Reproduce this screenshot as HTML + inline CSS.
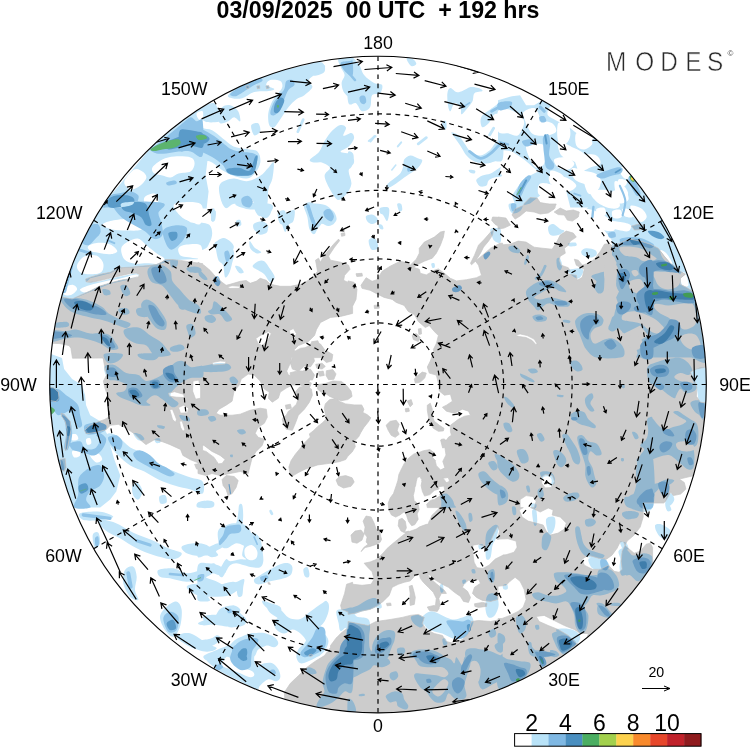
<!DOCTYPE html>
<html lang="en">
<head>
<meta charset="utf-8">
<title>03/09/2025 00 UTC + 192 hrs</title>
<style>
html,body{margin:0;padding:0;background:#fff}
body{width:750px;height:747px;overflow:hidden;font-family:"Liberation Sans",sans-serif}
svg{display:block}
text{font-family:"Liberation Sans",sans-serif;fill:#000}
.title{font-weight:bold;font-size:23.2px;white-space:pre}
.lab{font-size:17.8px}
.barlab{font-size:23px}
.logo{font-size:28px;fill:#2a2a2a;stroke:#fff;stroke-width:.55px}
.logoc{font-size:8px;fill:#444}
.ref{font-size:14.2px}
</style>
</head>
<body>
<svg width="750" height="747" viewBox="0 0 750 747">
<defs>
<clipPath id="disc"><circle cx="378" cy="384.5" r="328.3"/></clipPath>
<clipPath id="landclip"><path clip-rule="evenodd" d="M246.6 88.7L249.2 88.1L248.6 85.5L245.8 86.1ZM266.7 88.7L269.3 87.9L268.7 85.5L265.9 86.1ZM257.4 88.7L259.8 88.3L259.6 85.7L256.8 86.1ZM344.6 232.7L341 233.5L341.6 236.3L345 235.5ZM362 273.3L356 273.7L356.8 276.5L362.4 276.1ZM356 299.4L357 289.3L354 282.3L348 280.9L348 282.4L343.6 280.3L344.6 275.3L350 269.3L348.6 265.2L340.6 262.2L330.5 260.2L328.5 256.2L334.5 247.2L339.6 240.7L338.6 239.1L334.5 243.2L328.5 250.2L322.5 258.2L320.5 262.2L318.5 258.2L315.5 260.2L316.5 265.2L317.5 271.3L313.5 276.3L308.4 280.3L300.4 284.3L290.4 286.3L280.3 286.3L270.3 284.3L266.3 280.3L260.2 278.3L256.2 281.3L250.2 283.3L246.2 280.5L240.2 281.3L230.1 284.3L226.1 285.3L222.1 282.3L216.1 277.3L210 270.3L204 265.2L202.6 264.5L202.6 263.6L200.1 263.3L198 262.2L198 263L190.6 262L180.5 260.4L172.5 259.6L165.5 259.6L161.4 262.2L156.4 264.6L148.4 265.6L140.4 266.2L130.3 267.2L121.3 267.7L119.3 265.2L116.3 268.9L110.2 272.3L100.2 274.3L91.2 276.9L85.7 278.9L86.1 281.9L91.2 282.3L100.2 280.5L110.2 278.1L120.3 275.7L129.3 273.7L136.3 272.9L139.8 274.7L138.4 276.9L130.3 278.7L120.3 280.3L110.2 282.9L99.2 286.3L90.2 290.9L82.1 294.4L72.1 299L62 297L58.5 296.8L57.6 300.1L56.6 304L55.7 308L54.7 311.9L53.9 315.9L53.1 319.9L52.3 323.9L51.6 327.9L50.9 331.9L50.3 335.9L49.7 339.9L49.3 343.2L60 343.6L69.1 345.6L70.9 348.2L72.5 358.2L103.1 358L105.5 371.2L105.2 368.1L106.6 375.1L103.4 381.1L104.6 387.1L107.4 395.2L108.6 405.2L108.6 417.2L104.2 419.7L98.2 421.7L90.2 425.3L84.5 430.3L86.1 433.7L96.2 432.3L106.2 429.7L110.2 425.3L118.3 424.3L125.3 427.7L134.3 433.7L141.4 440.9L146 444.6L154.4 439.7L162.4 441.7L169.5 444.4L180.5 449.4L182.9 455.4L190.6 459.8L198 462.7L198 463.8L194.6 464.4L196.6 469.1L198 469.1L198 473.5L206 475.5L212 473.5L220.1 475.5L230.1 473.5L240.2 471.5L248.2 473.5L250.2 465.4L252.2 457.4L256.2 451.4L262.2 445.4L264.3 439.3L258.2 437.3L255.2 433.3L258.2 427.3L264.3 423.3L267.3 417.2L266.3 409.2L260.2 408.2L250.2 410.2L240.2 414.2L232.1 415.2L220.1 415.2L216.1 413.2L219.1 409.2L226.1 405.2L232.1 401.2L234.1 391.1L239.2 385.1L241.2 379.1L248.2 374.1L254.2 375.1L260.2 381.1L264.3 389.1L269.3 392.1L268.3 398.2L272.3 402.2L278.3 398.2L280.3 392.1L286.3 388.1L292.4 385.1L300.4 385.1L304.1 386.3L299.4 387.1L295.4 392.1L298.4 398.2L296.4 404.2L292.4 408.2L288.4 411.2L286.3 415.2L283.3 417.2L282.2 419.5L283.3 423.3L286.3 429.3L292.4 430.3L295.4 423.3L298.4 415.2L304.4 409.2L309.4 402.2L312.4 395.2L311.4 389.1L309.4 388.1L311.4 383.1L307.4 381.4L309.3 381.4L310 379.7L312.4 380.1L314.5 375.1L310.4 369.1L302.4 371.1L302.4 371.2L298.8 370.7L304.4 366L310.4 367L314.5 361L313.6 357.6L322.4 357.6L322.5 358.9L326.4 362.5L331.8 361L332.8 354.6L327.5 351.4L323.8 352.9L324.5 349.6L320.5 344L319 343.6L317.8 340.7L311.4 341.8L311.5 342.9L308.4 346L305 347.7L300.7 348.2L294.4 351.4L294.4 349.6L298.4 345.6L308.4 341.5L314.5 335.5L316.5 329.5L320.5 322.5L330.5 317.4L340.6 316.4L352.6 313.4L352.6 306.2ZM214.1 457.4L206 451.4L202.6 450.5L202.6 444.9L204 445.4L212 451.4L220.1 455.4L225.1 459.4L222.1 463.4L215.7 464.2L218.1 463.4ZM103.1 357.6L103.7 357.6L103.9 359.7ZM292.5 357.6L290.4 363L291.4 357.6ZM292.4 369.1L297.8 370.9L290 372.8L290.7 375.4L288.4 375.1L286.7 371.1L290.4 363ZM239.2 288.3L230.1 288.5L227.1 286.9L232.1 285.7L240.2 286.3ZM296.4 333.5L294.4 338.5L290.4 335.5L289.4 330.5L293.4 328.5ZM268.3 331.5L271.3 333.5L268.3 339.5L262.2 345.6L258.2 343.6L255.8 338.5L260.2 335.5ZM226.1 361.4L225.1 364L218.1 364.6L213.1 365L212 362.6L220.1 361ZM200.6 387.1L200.6 398.2L195.6 399.2L192.6 391.1L193 381.1L198.6 380.1ZM183.5 394.2L184.5 397.6L176.5 397.2L169.5 396.2L168.5 393.2L174.5 391.7ZM188.6 408.2L187.6 412.8L180.5 413.2L178.5 407.6L183.5 405.2ZM176.5 419.3L175.5 422.3L172.5 419.3L169.7 409.6L172.5 409.2ZM184.9 429.7L182.9 431.3L180.5 427.3L179.5 421.3L182.1 420.9ZM325.3 366.4L322.1 363.2L315.7 364.3L316.8 368.1L322.1 369ZM319.6 376.3L324.3 375.4L323.2 371.1L317.8 371.8ZM333.9 379.3L336 373.9L332.8 369.6L326.4 370.7L326 375.4L328.5 379.7ZM56 401.6L59 398.2L58.4 392.1L54 388.1L48 387.1L48 400.2ZM286.3 409.2L291.4 408.2L290.4 404.2L285.3 405.2ZM317.8 426.4L313.6 430.6L309.3 433.9L310.3 437.1L305 442.4L300.7 447.8L295.4 454.2L291.1 460.6L288.9 467L290 473.5L293.2 475.6L298.6 472.4L305 469.2L311.4 467L317.8 464.9L326.4 463.8L332.8 462.8L339.3 461.7L345.7 459.6L347.8 456.3L352.1 452.1L355.3 446.7L354.2 441.3L358.5 437.1L360.7 432.8L363.9 427.4L368.2 422.1L370.9 417.8L367.1 414.6L362.8 412.4L363.9 409.2L361.7 404.9L354.2 404.9L345.7 403.9L340.3 401.7L336.9 399.2L341.4 400.7L347.8 399.6L352.1 396.4L351 391L346.7 385.7L341.4 381.4L332.8 381L325.3 383.5L317.8 384.6L317.4 388.9L321 392.1L325.3 393.2L329.6 396.4L335 398.5L335.3 398.6L329.6 399.6L325.3 403.9L324.3 408.2L325.3 413.5L326.4 418.9L322.1 423.1ZM67.1 429.3L66.1 439.3L65.1 450.4L67.1 449.4L69.1 439.3L71.1 429.3L70.1 421.3L64.1 414.2L61 413.2L61.6 416.2L65.1 421.3ZM65.1 458.4L60 459.4L61 469.5L64.1 471.5L66.1 467.4ZM345.7 475.6L339.3 476.7L336 479.9L338.2 485.2L343.5 488L351 486.3L354.2 482L352.1 477.8ZM232.1 493.6L236.1 487.5L238.2 480.5L234.1 476.5L226.1 475.5L222.1 479.5L223.1 485.5L226.1 489.5L228.1 495.6ZM367.1 537.1L366.1 542.1L368.1 544.2L363.7 547.6L361 551.6L365.1 547.6L370.1 546.4L376.1 544.4L380.1 542.3L381.6 539.2L380.7 536.4L380.5 534.2L380.1 533.1L376.1 529.1L374.1 523.1L371.1 517L366.1 516L363.1 521.1L365.1 527.1L364.1 533.1ZM355 531.1L351 535.1L352 542.1L357 543.2L362 540.1L364.1 534.1L361 530.1ZM270.3 584.5L269.9 582.9L267.9 582.3L268.3 584.1ZM312.9 655.6L311.4 654L308.8 655.2L310 656.8ZM515.1 209L512 215L515.1 219.1L520.1 216L526.1 211L534.1 212L540.2 214L548.2 213L554.2 209L554.8 207.6L555.2 207.6L555 207L556.2 204L549.4 204L546.2 203.6L540.2 202.6L537.1 198L530.1 197.6L524.1 203.6L523.6 205.6L522.1 206ZM572.3 221.1L578.3 217L579.3 212L573.3 210L566.3 211L560.2 208L554.2 212L558.2 214.6L564.3 215L567.3 220.1ZM498 217.3L492.6 217L491.6 220.3L495 224.3L498 226L498 229.1L504 228.1L510.4 225.1L506 218.1L498 217ZM638.6 224.1L631.5 226.1L634.5 230.1L643.6 229.5L644.6 226.1ZM475.5 261.2L480.5 253.2L483.5 247.2L488.6 241.1L492.6 235.1L493.6 230.1L490.6 232.1L484.5 239.1L478.5 245.2L474.5 255.2L470.5 263.2L471.5 264.8ZM374.5 308.6L379.3 308.2L379.1 305L374.1 305.4ZM418.9 334.5L421.5 333.9L421.1 328.5L418.3 328.9ZM420.3 337.5L416.3 333.5L412.2 335.5L413.3 339.5L418.3 341.5ZM415.3 383.1L420.3 382.1L424.7 378.1L426.3 373.1L422.3 372.1L418.3 375.1L414.3 379.1ZM412.7 404.2L411.2 399.6L407.2 401.2L410.2 406.8ZM405.8 412L409.4 411.2L408.6 408L405.2 408.8ZM427.3 405.2L427.3 410.2L428.3 416.2L430.3 423.3L433.3 428.3L438.4 431.3L443.4 430.9L444 428.3L439.4 425.3L434.3 421.3L431.9 415.2L432.3 409.2L430.3 403.2ZM399.2 434.3L397.2 430.3L399.2 424.3L396.2 420.3L390.2 421.3L386.1 425.3L388.2 430.3L391.2 435.3L395.2 437.3ZM314.5 661.7L306.4 667.7L298.4 675.7L290.4 683.3L284.3 692.4L285.1 702.5L285.7 702.7L289.6 703.8L293.6 704.9L297.5 705.9L301.5 706.8L305.4 707.8L309.4 708.6L313.4 709.4L317.4 710.2L321.4 710.9L325.4 711.6L329.4 712.2L333.4 712.8L337.4 713.3L341.5 713.8L345.5 714.2L349.6 714.6L353.6 714.9L357.7 715.2L361.7 715.4L365.8 715.6L369.9 715.7L373.9 715.8L378 715.8L382.1 715.8L386.1 715.7L390.2 715.6L394.3 715.4L398.3 715.2L402.4 714.9L406.4 714.6L410.5 714.2L414.5 713.8L418.6 713.3L422.6 712.8L426.6 712.2L430.6 711.6L434.6 710.9L438.6 710.2L442.6 709.4L446.6 708.6L450.6 707.8L454.5 706.8L458.5 705.9L462.4 704.9L466.4 703.8L470.3 702.7L474.2 701.5L478.1 700.3L481.9 699.1L485.8 697.8L489.6 696.4L493.4 695L497.2 693.6L501 692.1L504.8 690.6L508.5 689L512.3 687.4L516 685.7L519.6 684L523.3 682.2L527 680.4L530.6 678.6L534.2 676.7L537.7 674.7L541.3 672.8L544.8 670.7L548.3 668.7L551.8 666.6L555.2 664.4L558.7 662.2L562.1 660L565.4 657.7L568.8 655.4L572.1 653L575.4 650.6L578.6 648.2L581.8 645.7L582.5 645.1L576.3 643.6L568.3 635.5L558.2 629.5L548.2 625.5L539.2 621.5L536.1 616.4L544.2 615.4L554.2 620.5L564.3 625.5L574.3 629.5L580.3 633.5L588.4 633.5L585.2 643L588.2 640.6L591.3 638L594.4 635.4L597.5 632.7L600.5 630L603.5 627.2L606.4 624.4L609.4 621.6L612.3 618.8L615.1 615.9L617.9 612.9L620.7 610L623.5 607L626.2 604L628.9 600.9L631.5 597.8L634.1 594.7L636.7 591.5L639.2 588.3L641.7 585.1L644.1 581.9L646.5 578.6L648.9 575.3L651.2 571.9L652.6 569.8L652.6 547.4L650.2 543.2L646.2 544.2L640.2 551.2L634.1 553.2L628.1 548.2L625.1 545.2L627.1 541.1L634.1 535.1L640.2 527.1L643.2 517L643.2 503L663.6 503L665.3 501.6L668.3 496.6L670.7 491.9L673.3 495.6L680.7 494L685.9 489.1L684.3 482.5L679.3 479.1L694.4 475.5L694.4 482.8L695 480.7L696.2 476.8L697.3 472.9L698.4 468.9L699.4 465L700.3 461L701.3 457.1L702.1 453.1L702.9 449.1L703.7 445.1L704.4 441.1L705.1 437.1L705.7 433.1L706.3 429.1L706.8 425.1L707.3 421L707.7 417L708.1 412.9L708.4 408.9L708.7 404.8L708.9 400.8L709.1 396.7L709.2 392.6L709.3 388.6L709.3 384.5L709.3 380.4L709.2 376.4L709.1 372.3L708.9 368.2L708.7 364.2L708.4 360.1L708.1 356.1L707.7 352L707.3 348L706.8 343.9L706.3 339.9L705.7 335.9L705.1 331.9L704.4 327.9L703.7 323.9L702.9 319.9L702.1 315.9L701.3 311.9L700.3 308L699.4 304L698.4 300.1L697.3 296.1L696.2 292.3L694.4 292.3L686.3 287.3L680.3 284.3L680.3 278.3L685.3 274.3L680.3 271.3L670.3 263.2L664.3 256.2L658.2 248.2L650.2 244.2L640.2 241.1L630.1 239.1L620.1 242.8L620.3 242.8L612.4 246.2L609.4 243.6L604.4 244.2L600.4 251.2L594.4 259.2L588.4 263.2L582.3 265.2L578.3 260.2L574.3 259.2L576.3 265.2L580.3 267.2L584.3 269.3L582.3 277.3L577.3 280.3L576.3 275.3L569.3 274.3L566.3 272.3L570.3 271.3L568.3 267.7L561.2 265.2L559.2 260.2L560.2 256.2L565.3 253.2L564.3 248.2L568.3 245.2L570.3 241.1L576.3 237.1L573.3 233.1L566.3 231.1L560.2 235.1L557.2 241.1L552.2 249.2L542.2 248.2L534.1 247.2L526.1 242.1L518.1 241.1L510 244.2L502.6 244.8L502.6 243.2L500 243.2L490.6 248.2L482.5 255.2L475.5 261.2L478.5 265.2L481.5 275.3L476.5 277.7L466.5 279.7L456.4 280.9L450.4 278.3L444.4 273.3L438.4 268.9L434.3 270.3L426.3 274.9L420.3 273.3L419.3 269.3L413.3 267.2L418.3 264.2L424.3 261.2L432.3 258.2L436.3 253.2L440.4 245.2L443.4 237.1L444.4 231.1L440.4 232.1L434.3 237.1L424.3 242.1L419.3 248.2L419.3 253.2L416.3 259.2L410.2 265.2L407.2 262.8L400.2 261.2L390.2 266.2L382.1 271.3L377.1 279.7L372.1 281.3L366.1 277.7L361 285.3L362 288.3L370.1 290.3L376.1 293.4L384.1 297.4L392.2 299.4L396.2 302.4L404.2 305.4L408.2 311.4L414.3 314.4L418.3 321.5L425.3 327.5L429.3 325.5L434.3 331.5L438.4 335.5L436.3 343.6L433.3 349.6L434.6 353L433.3 353L430.3 361L427.3 367L429.3 373.1L436.3 375.1L438.4 383.1L439.4 391.1L444.4 395.2L450.4 394.2L452.4 401.2L446.4 405.2L442.4 407.2L446.4 411.2L454.4 413.2L462.4 409.2L468.5 411.2L470.5 415.2L464.5 416.2L458.4 419.3L450.4 425.3L450.4 431.3L451.4 435.3L448.4 437.3L446.6 440L444.5 440L444.4 438.9L441.4 439.3L441.5 440L440.6 440L442.6 447.9L444.9 447.5L446 455L442.8 461.4L444.9 467.8L440.6 470L436.4 465.7L435.3 461.4L435.8 460.9L432.1 457.1L434.2 452.8L429.9 449.6L423.5 450.7L418.2 452.8L413.9 453.9L408.5 458.2L404.2 463.6L401 470L399.2 473.7L398.9 474.3L397.8 480.7L396.1 486L393.5 493.5L390.3 497.8L388.2 503.1L388.2 503.2L388.8 509.6L391.4 514.9L395.7 517.1L400 514.9L404.2 511.7L404.5 512.2L406.4 514.9L408.5 521.4L411.7 525.7L414.9 524.6L418.2 519.2L417.3 515L417.1 513.9L419.1 509.8L419.2 509.6L418.2 504.2L415.3 501.4L414.3 501.6L413.3 495.6L414.4 491L414.9 487.1L415.5 486L416.3 481.5L417.3 477.5L420.3 476.5L420.8 478.3L421.8 479.6L421.6 480.7L421.9 481.5L421.1 485.6L422.4 491.4L424.6 496.1L429.9 494.6L434.2 490.5L439.1 488.9L438.4 487.5L439.1 487.3L438.9 486.7L443.9 486L444.9 490.3L444.3 490.5L444.4 490.5L443.9 490.7L444.9 491.4L440.6 494L439.5 494.7L440.4 495.6L434.3 499.6L431.8 499.9L429.9 501L426.7 504.2L427.3 507.6L439.8 507.6L438.4 509L434.3 513L431.8 515.5L429.9 520.3L429.2 521.1L428.3 524.1L425.7 524.5L425.7 524.6L419.7 526.8L416.3 529.1L410.9 530.9L410.7 531L410.7 531L410.2 531.1L406.5 532.9L408.8 531.2L404.5 532L406.4 527.8L405.3 521.4L402.1 518.2L398.9 519.7L398.3 524.9L398.2 525.1L398.3 525.3L398.2 525.7L401 531L401.2 531.1L401.2 531.1L401.4 531.2L404.2 532.5L404.3 532.3L406.1 533.1L405.2 533.5L400.2 537.5L393.2 543.2L387.1 548.4L382.1 554.2L376.1 559.6L370.1 562L364.1 563.2L368.1 567.7L372.1 571.7L374.1 579.3L371.1 584.3L362 585.3L352.6 584.2L352.6 582.3L348.3 583.7L348 583.7L348 583.8L346.6 584.3L344.6 593.4L340.6 605.4L341.6 609.4L346.6 611.4L348 611.9L348 614.4L354 613.4L362 611L370.1 609.4L378.1 605.4L383.1 601.4L389.2 595.4L392.2 587.3L398.2 584.3L404.2 582.3L410.2 580.9L416.3 574.3L419.3 574.3L420.3 578.3L423.3 582.3L428.3 587.3L433.3 592.3L436.3 598.4L435.4 605.9L434.3 605.4L427.3 607L429.3 610.4L437.3 611.4L439.4 607.8L438.9 607.6L440.4 605.4L438.8 598.4L441.4 593.4L446.4 593.4L444.4 590.3L436.3 583.7L430.3 578.3L427.3 574.3L430.3 575.3L434.3 579.3L442.4 584.3L448.4 587.3L454.4 592.3L460.4 596.4L463.5 601.4L468.5 602.4L470.5 597.4L467.5 591.3L462.4 587.3L464.5 583.3L468.5 580.3L472.5 581.3L478.5 579.3L480.5 583.3L474.5 587.3L472.5 593.4L476.5 597.4L482.5 600.4L490.6 601.4L498 599.5L498 586.3L506 585.3L510 581.3L515.1 577.3L520.1 581.3L524.1 589.3L526.1 599.4L523.1 607.4L518.1 611.4L510 615.4L502 618.5L498 618.5L498 620L490.6 621.5L478.5 620.5L471.5 621.5L470.5 625.5L468.5 633.5L462.4 639.5L454.4 643.6L446.4 641.5L442.4 635.5L434.3 633.5L426.3 629.5L422.3 623.5L424.3 617.4L418.3 614.4L410.2 615.4L402.2 617.4L390.2 619.5L376.1 621.5L368.1 625.5L358 623.5L348 621.5L348 628.7L345.6 629.5L340.6 633.5L337.5 636.8L336.5 637.5L335.3 639.2L334.9 639.6L334.7 640L330.5 645.6L330.5 647.6L324.5 655.6ZM622.1 551.2L621.1 561.2L622.1 569.3L619.1 572.3L614.1 571.3L608.4 565.2L600.4 569.3L592.4 569.3L584.3 565.2L581.9 559.2L588.4 555.2L598.4 558.2L606.4 559.2L612 555.2L617.1 548.2L620.1 542.1L623.1 541.1L625.1 545.2ZM537.3 344L535.7 344.4L532.1 340.5L526.1 337.5L519.1 336.5L515.1 335.1L520.1 333.9L527.1 335.5L534.1 339.1ZM708.4 403.2L700.4 402.2L696.4 396.2L696.8 387.1L694.4 380.1L690.4 372.1L696.4 369.1L706.4 367ZM445.4 482L444.8 480.4L442.8 477.9L444 478.1L448.1 477.5L449.6 480.7L448.6 481L449.4 481.9L446.4 482.5L445.8 481.8ZM554.6 481.5L551.2 487.5L545.2 487.9L541.8 483.5L541.2 477.5L545.2 474.5L552.2 475.5ZM548.2 508L553.2 510L552.2 515L560.2 517L566.3 523.1L564.3 529.1L558.2 533.1L550.2 535.1L546.2 531.1L543.2 525.1L536.1 523.1L528.1 521.1L522.1 517L519.1 510L523.3 507.6L520.1 507.6L520.1 499.6L526.1 495.6L533.1 496.6L536.1 501.6L534.1 507.6L530.4 507.6L534.1 509L540.2 512ZM482.9 568.5L476.9 567.7L474.1 562.2L472.9 553.2L472.9 545.2L478.5 544.2L486.5 547.2L490.6 541.1L494.2 533.1L497.6 526.7L499.6 531.1L497.6 539.1L498 539.9L498 539.1L508 538.7L516.1 541.1L517.1 547.2L514.1 552.2L506 554.8L503 554.9L503 555.2L495 559.2L489 565.2ZM415.3 597.4L413.9 591.3L412.2 585.3L409.2 586.3L410.2 593.4L409.8 599.4L410.2 605.4L414.3 604.4ZM391.2 605.4L390.6 603L386.5 603.4L387.1 605.8ZM478.5 607.4L486.5 606.4L486.9 603.4L482.5 602.4L474.5 603.8L474.9 606.4Z"/></clipPath>
<g id="s1" stroke-linecap="round" stroke-linejoin="round">
<path stroke="none" d="M100.2 207.6L134.3 167.4L154.4 143.4L178.5 122.3L202.6 105.2L202.6 207.6ZM201.6 139.3L206.6 143.4L207.6 159.4L205.6 175.5L208.6 191.5L206.6 208.6L201.6 208.6ZM93.2 219.1L102.2 203L174.5 203L182.5 217L194.6 225.1L199 235.1L195.6 245.2L199.8 253.2L197.6 259.2L190.6 259.2L172.5 260.2L162.4 263.2L150.4 266.2L120.3 268.3L110.2 273.3L90.2 278.3L86.1 282.3L100.2 281.3L116.3 277.3L136.3 273.3L139.4 275.3L130.3 279.3L110.2 283.7L90.2 291.7L72.1 299.4L58 297.4L70.1 265.2ZM147.4 271.3C147.6 268.6 149.9 266.6 152.4 265.6C154.9 264.6 159.4 264.3 162.4 265.2C165.5 266.2 168.8 268.6 170.5 271.3C172.2 273.9 171 278.3 172.5 281.3C174 284.3 176.8 286.3 179.5 289.3C182.2 292.3 185.4 296.7 188.6 299.4C191.7 302.1 196.6 303.1 198.6 305.4C200.6 307.7 201.9 312.4 200.6 313.4C199.3 314.5 194.2 313.2 190.6 311.8C186.9 310.5 181.9 308.1 178.5 305.4C175.2 302.7 173.2 299 170.5 295.8C167.8 292.5 165.6 288.1 162.4 285.7C159.3 283.4 153.9 284.1 151.4 281.7C148.9 279.3 147.2 273.9 147.4 271.3ZM170.5 260.4C171.5 259.1 176.4 258.6 177.5 259.6C178.6 260.6 177.9 265 176.9 266.2C175.9 267.5 172.6 268.2 171.5 267.2C170.4 266.3 169.5 261.7 170.5 260.4ZM186.5 268.3C187.2 267.2 192.2 266.4 194.6 266.4C196.9 266.4 199.6 267.3 200.6 268.3C201.6 269.2 202.3 271.6 200.6 272.3C198.9 273 192.9 273.1 190.6 272.5C188.2 271.8 185.9 269.3 186.5 268.3ZM120.3 286.3C120.5 284.6 124.6 284.1 126.3 285.3C128 286.5 130.6 291.6 130.3 293.4C130.1 295.1 126.4 296.9 124.7 295.8C123 294.6 120 288.1 120.3 286.3ZM102.6 289.3C103.4 288.6 108 289.5 109.2 290.3C110.5 291.2 111.1 293.8 110.2 294.6C109.4 295.3 105.5 295.8 104.2 295C102.9 294.1 101.8 290.1 102.6 289.3ZM61 298.4C62.7 296.7 71.3 297.3 76.1 297.8C81 298.2 85.8 299.4 90.2 301C94.5 302.5 99.1 304.9 102.2 307C105.3 309.1 105.6 311.4 108.6 313.4C111.6 315.5 116.7 317.8 120.3 319.5C123.9 321.1 129.3 322.1 130.3 323.5C131.3 324.9 129 327.8 126.3 327.9C123.6 328 118.3 325.2 114.3 323.9C110.2 322.5 106.2 320.9 102.2 319.9C98.2 318.8 94.5 318.5 90.2 317.4C85.8 316.4 80.1 315.4 76.1 313.8C72.1 312.2 68.6 310.4 66.1 307.8C63.6 305.2 59.4 300 61 298.4ZM141.4 303.4C142 301.7 144.2 299.4 146.4 299.4C148.6 299.4 152 301.4 154.4 303.4C156.8 305.4 158.8 308.4 160.8 311.4C162.9 314.4 165.8 318.5 166.5 321.5C167.1 324.5 166.5 328.4 164.9 329.5C163.2 330.6 159.2 329.8 156.4 327.9C153.7 326 150.7 320.9 148.4 317.9C146.1 314.8 143.5 312.2 142.4 309.8C141.2 307.4 140.7 305.1 141.4 303.4ZM136.3 309.4C137.3 308.1 142 307.1 144.4 307.8C146.7 308.5 150.1 311.9 150.4 313.4C150.7 315 148.4 316.6 146.4 317C144.4 317.4 140 317.1 138.4 315.8C136.7 314.6 135.3 310.8 136.3 309.4ZM118.3 309.4C119.1 308.4 125.5 307.7 127.3 308.4C129.1 309.1 130.2 312.4 129.3 313.4C128.5 314.4 124.1 315.1 122.3 314.4C120.4 313.8 117.4 310.4 118.3 309.4ZM54 323.5C55.9 322.5 64.7 321.4 67.1 321.9C69.4 322.4 69.9 325.5 68.1 326.5C66.2 327.4 58.4 328 56 327.5C53.7 327 52.2 324.4 54 323.5ZM50 330.5C52.7 328.8 61.7 331.3 66.1 331.1C70.4 330.9 72.1 329.1 76.1 329.5C80.1 329.9 85.8 332.8 90.2 333.5C94.5 334.2 98.2 332.2 102.2 333.5C106.2 334.9 111.6 339 114.3 341.5C116.9 344.1 118.9 347.2 118.3 348.6C117.6 349.9 113.3 350.4 110.2 349.6C107.2 348.7 103.5 345.2 100.2 343.6C96.9 341.9 93.8 340.9 90.2 339.9C86.5 338.9 82.1 337.8 78.1 337.5C74.1 337.3 70.7 337.9 66.1 338.5C61.4 339.2 52.7 342.9 50 341.5C47.3 340.2 47.3 332.2 50 330.5ZM124.3 329.5C126.3 327.8 134 326.5 138.4 327.5C142.7 328.5 146.4 332.8 150.4 335.5C154.4 338.2 159.4 340.3 162.4 343.6C165.5 346.8 169.8 353.1 168.5 355C167.1 356.9 158.1 356.6 154.4 355C150.7 353.4 149.4 347.5 146.4 345.6C143.4 343.7 139.7 344.9 136.3 343.6C133 342.2 128.3 339.9 126.3 337.5C124.3 335.2 122.3 331.2 124.3 329.5ZM170.5 347.6C172 346.5 178.2 344.4 180.5 344.6C182.9 344.7 184.9 347.4 184.5 348.6C184.2 349.7 180.7 351.2 178.5 351.6C176.3 352 172.8 351.9 171.5 351.2C170.1 350.5 169 348.7 170.5 347.6ZM186.5 325.5C187.4 324.3 191.1 323.1 192.6 324.5C194.1 325.8 195.9 331.3 195.6 333.5C195.2 335.7 191.9 337.9 190.6 337.5C189.2 337.2 188.2 333.5 187.6 331.5C186.9 329.5 185.7 326.7 186.5 325.5ZM178.5 303.4C179.5 302.7 184.5 303.4 185.5 304.4C186.5 305.4 185.5 308.7 184.5 309.4C183.5 310.1 180.5 309.4 179.5 308.4C178.5 307.4 177.5 304.1 178.5 303.4ZM100.2 333.5C101.2 332.2 107.6 333.5 110.2 335.5C112.9 337.5 116.3 343.4 116.3 345.6C116.3 347.7 112.2 348.9 110.2 348.6C108.2 348.2 105.9 346.1 104.2 343.6C102.5 341 99.2 334.9 100.2 333.5ZM154.4 351.6C155.8 350.2 161.8 348 164.5 348.6C167.1 349.1 171.8 353.7 170.5 355C169.1 356.3 159.1 357.2 156.4 356.6C153.7 356 153.1 352.9 154.4 351.6ZM107.2 434.3C108.2 432.6 112.4 433.1 116.3 435.3C120.1 437.5 125.6 444.4 130.3 447.4C135 450.4 139.7 450.7 144.4 453.4C149.1 456.1 153.4 460.4 158.4 463.4C163.5 466.4 169.1 469.1 174.5 471.5C179.9 473.8 185.9 475.8 190.6 477.5C195.2 479.2 200.6 478.8 202.6 481.5C204.6 484.2 204.6 492.2 202.6 493.6C200.6 494.9 195.2 490.9 190.6 489.5C185.9 488.2 179.9 487.2 174.5 485.5C169.1 483.8 163.5 481.8 158.4 479.5C153.4 477.2 149.1 473.8 144.4 471.5C139.7 469.1 134.7 468.1 130.3 465.4C126 462.8 121.6 458.7 118.3 455.4C114.9 452.1 112.1 448.9 110.2 445.4C108.4 441.8 106.2 436 107.2 434.3ZM48 353L62 358L64.1 369.1L72.1 379.1L82.1 385.1L85.1 395.2L86.1 405.2L90.2 415.2L100.2 421.3L107.2 434.3L110.2 445.4L114.3 459.4L120.3 475.5L116.3 491.5L110.2 499.6L100.2 507.6L70.1 507.6L48 455.4ZM132.3 485.5C133.2 483.5 136.7 482.5 138.4 483.5C140 484.5 142.4 488.9 142.4 491.5C142.4 494.2 139.9 498.9 138.4 499.6C136.8 500.2 134.3 497.9 133.3 495.6C132.3 493.2 131.5 487.5 132.3 485.5ZM159.4 496.6C160.3 495.2 164.3 494.6 165.5 495.6C166.6 496.6 167.3 501.3 166.5 502.6C165.6 503.9 161.6 504.6 160.4 503.6C159.3 502.6 158.6 497.9 159.4 496.6ZM104.2 367C105.2 364.7 110.6 364 114.3 365C117.9 366 122.3 371.4 126.3 373.1C130.3 374.7 135 373.7 138.4 375.1C141.7 376.4 143 380.8 146.4 381.1C149.7 381.4 155.1 378.8 158.4 377.1C161.8 375.4 163.8 373.4 166.5 371.1C169.1 368.7 171.8 364.7 174.5 363C177.2 361.4 179.9 360.4 182.5 361C185.2 361.7 187.7 366.2 190.6 367C193.5 367.9 198 366 200 366C202 366 202.2 365.2 202.6 367C203 368.9 204.6 375.2 202.6 377.1C200.6 378.9 194.6 376.8 190.6 378.1C186.5 379.4 181.9 382.3 178.5 385.1C175.2 388 170.5 392.1 170.5 395.2C170.5 398.2 178.2 401.2 178.5 403.2C178.8 405.2 175.2 407.9 172.5 407.2C169.8 406.5 165.5 401.2 162.4 399.2C159.4 397.2 157.1 394.8 154.4 395.2C151.7 395.5 147.1 399.5 146.4 401.2C145.7 402.9 151.4 404.5 150.4 405.2C149.4 405.9 143.7 405.9 140.4 405.2C137 404.5 133.7 402.5 130.3 401.2C127 399.8 122.6 398.5 120.3 397.2C117.9 395.8 115.6 394.2 116.3 393.2C116.9 392.1 122.6 392.5 124.3 391.1C126 389.8 127.3 386.8 126.3 385.1C125.3 383.4 121.3 382.1 118.3 381.1C115.3 380.1 110.6 381.4 108.2 379.1C105.9 376.8 103.2 369.4 104.2 367ZM104.2 354C106.6 352.5 119.9 352.8 122.3 354C124.6 355.2 120.6 359.5 118.3 361C115.9 362.5 110.6 364.2 108.2 363C105.9 361.9 101.9 355.5 104.2 354ZM138.4 354C141 353.2 155.8 353 158.4 354C161.1 355 157.1 359.2 154.4 360C151.7 360.9 145 360 142.4 359C139.7 358 135.7 354.8 138.4 354ZM133.3 433.3C133.7 432.3 138.5 433.3 140.4 434.3C142.2 435.3 144.7 438.3 144.4 439.3C144 440.3 140.2 441.3 138.4 440.3C136.5 439.3 133 434.3 133.3 433.3ZM157.4 425.3C158.4 425 163.5 425.7 164.5 426.3C165.5 426.9 164.5 428.7 163.5 428.9C162.4 429.1 159.4 428.3 158.4 427.7C157.4 427.1 156.4 425.5 157.4 425.3ZM179.5 415.2C180.5 414.7 186.9 416.2 188.6 417.2C190.2 418.3 190.6 420.8 189.6 421.3C188.6 421.8 184.2 421.3 182.5 420.3C180.9 419.3 178.5 415.7 179.5 415.2ZM154.4 439.3C154.9 438.6 158.4 437.8 159.4 438.3C160.4 438.8 160.9 441.6 160.4 442.3C159.9 443.1 157.4 443.5 156.4 443C155.4 442.4 153.9 440.1 154.4 439.3ZM98.3 520C100 518.8 109.2 520.6 115 522.7C120.8 524.8 127.2 529.8 133.3 532.7C139.4 535.6 145.8 537.4 151.7 540C157.5 542.6 163.3 546.1 168.3 548.3C173.3 550.6 180.8 551.5 181.7 553.3C182.5 555.2 178.1 559.1 173.3 559.3C168.6 559.6 159.4 556.8 153.3 555C147.2 553.2 142.2 551.1 136.7 548.3C131.1 545.6 125.3 541.4 120 538.3C114.7 535.3 108.6 533.1 105 530C101.4 526.9 96.7 521.2 98.3 520ZM92.7 535C93.2 532.4 97.1 531.3 98.3 532.7C99.6 534.1 100.6 540.7 100 543.3C99.4 545.9 96.2 549.7 95 548.3C93.8 546.9 92.1 537.6 92.7 535ZM125 570C126.7 567.2 131.4 565.6 133.3 566.7C135.3 567.8 136.4 572.8 136.7 576.7C136.9 580.6 134.7 586.1 135 590C135.3 593.9 139.2 598.9 138.3 600C137.5 601.1 132.5 599.4 130 596.7C127.5 593.9 124.2 587.8 123.3 583.3C122.5 578.9 123.3 572.8 125 570ZM160 616.7C160.3 612.8 163.9 609.2 166.7 606.7C169.4 604.2 174.2 601.1 176.7 601.7C179.2 602.2 181.1 605.8 181.7 610C182.2 614.2 181.4 622.2 180 626.7C178.6 631.1 175.8 636.1 173.3 636.7C170.8 637.2 167.2 633.3 165 630C162.8 626.7 159.7 620.6 160 616.7ZM158.3 570C160.6 568.6 168.6 567.8 173.3 568.3C178.1 568.9 182.2 573.1 186.7 573.3C191.1 573.6 195.6 571.7 200 570C204.4 568.3 210.6 563.3 213.3 563.3C216.1 563.3 218.3 567.5 216.7 570C215 572.5 208.3 576.4 203.3 578.3C198.3 580.3 192.2 581.7 186.7 581.7C181.1 581.7 174.4 579.2 170 578.3C165.6 577.5 161.9 578.1 160 576.7C158.1 575.3 156.1 571.4 158.3 570ZM186.7 586.7C187.2 584.7 195 583.6 200 583.3C205 583.1 211.1 585.3 216.7 585C222.2 584.7 229.4 581.4 233.3 581.7C237.2 581.9 240.6 584.4 240 586.7C239.4 588.9 234.4 593.3 230 595C225.6 596.7 218.9 596.7 213.3 596.7C207.8 596.7 201.1 596.7 196.7 595C192.2 593.3 186.1 588.6 186.7 586.7ZM203.3 616.7C205 615.3 212.2 614.4 216.7 615C221.1 615.6 227.2 618.1 230 620C232.8 621.9 235.6 625.8 233.3 626.7C231.1 627.5 221.1 625.6 216.7 625C212.2 624.4 208.9 624.7 206.7 623.3C204.4 621.9 201.7 618.1 203.3 616.7ZM181.7 546.7C182.8 545 189.2 543.6 193.3 543.3C197.5 543.1 203.3 543.3 206.7 545C210 546.7 214.4 551.5 213.3 553.3C212.2 555.2 204.4 556 200 556C195.6 556 189.7 554.9 186.7 553.3C183.6 551.8 180.6 548.3 181.7 546.7ZM218.3 533.3C219.4 530 223.1 526.7 226.7 525C230.3 523.3 236.1 522.5 240 523.3C243.9 524.2 248.3 526.1 250 530C251.7 533.9 252.2 544.4 250 546.7C247.8 548.9 240.6 543.1 236.7 543.3C232.8 543.6 229.4 548.1 226.7 548.3C223.9 548.6 221.4 547.5 220 545C218.6 542.5 217.2 536.7 218.3 533.3ZM203.3 656.7C203.9 654.4 211.7 652.2 216.7 650C221.7 647.8 227.8 645.6 233.3 643.3C238.9 641.1 247.2 630.6 250 636.7C252.8 642.8 251.7 674.4 250 680C248.3 685.6 243.3 672.8 240 670C236.7 667.2 234.4 664.4 230 663.3C225.6 662.2 217.8 664.4 213.3 663.3C208.9 662.2 202.8 658.9 203.3 656.7ZM176.7 636.7C176.7 634.4 185 632.2 190 633.3C195 634.4 202.2 640.8 206.7 643.3C211.1 645.8 216.7 646.9 216.7 648.3C216.7 649.7 211.1 651.9 206.7 651.7C202.2 651.4 195 649.2 190 646.7C185 644.2 176.7 638.9 176.7 636.7ZM80 513.3C82.8 511.9 94.4 511.1 100 511.7C105.6 512.2 113.3 515.3 113.3 516.7C113.3 518.1 105 519.4 100 520C95 520.6 86.7 521.1 83.3 520C80 518.9 77.2 514.7 80 513.3ZM228.1 95.2C229.5 93 235.5 88.1 240.2 85.1C244.8 82.1 250.2 79.3 256.2 77.1C262.2 74.9 269.6 73.7 276.3 72.1C283 70.4 290.4 68.4 296.4 67C302.4 65.7 307.8 64.4 312.4 64C317.1 63.7 322.8 63.5 324.5 65C326.2 66.5 324.2 71.4 322.5 73.1C320.8 74.7 316.8 73.7 314.5 75.1C312.1 76.4 308.8 79.1 308.4 81.1C308.1 83.1 313.1 84.8 312.4 87.1C311.8 89.5 307.1 93.2 304.4 95.2C301.7 97.2 299.1 97.2 296.4 99.2C293.7 101.2 291 103.9 288.4 107.2C285.7 110.6 282.7 115.9 280.3 119.3C278 122.6 276.1 126.3 274.3 127.3C272.5 128.3 270.3 127.6 269.3 125.3C268.3 122.9 267.8 117.2 268.3 113.2C268.8 109.2 270.6 104.5 272.3 101.2C274 97.8 276.6 95.5 278.3 93.2C280 90.8 282 89.1 282.3 87.1C282.7 85.1 282.3 82.3 280.3 81.1C278.3 79.9 272.6 79.4 270.3 80.1C267.9 80.8 265.6 83.6 266.3 85.1C266.9 86.6 274 88.1 274.3 89.1C274.6 90.1 271.6 90.6 268.3 91.1C264.9 91.6 258.6 91 254.2 92.1C249.9 93.3 245.9 97.2 242.2 98.2C238.5 99.2 234.5 98.7 232.1 98.2C229.8 97.7 226.8 97.3 228.1 95.2ZM218.1 115.2C218.4 112.6 220.1 108.9 222.1 107.2C224.1 105.5 227.4 104.5 230.1 105.2C232.8 105.9 236.5 108.5 238.2 111.2C239.8 113.9 240.8 120.3 240.2 121.3C239.5 122.3 236.1 117.2 234.1 117.2C232.1 117.2 230.5 120.3 228.1 121.3C225.8 122.3 221.8 124.3 220.1 123.3C218.4 122.3 217.7 117.9 218.1 115.2ZM251.2 125.3C251.9 123.3 256.7 122.3 258.2 123.3C259.7 124.3 260.9 129.3 260.2 131.3C259.6 133.3 255.7 136.3 254.2 135.3C252.7 134.3 250.5 127.3 251.2 125.3ZM338.6 59C340.1 57.5 347.7 58.2 350 58C352.3 57.8 352.2 51.8 352.6 58C353 64.2 353.9 89.3 352.6 95.2C351.3 101 346.4 95.2 344.6 93.2C342.7 91.1 341.6 86.1 341.6 83.1C341.6 80.1 344.7 77.8 344.6 75.1C344.4 72.4 341.6 69.7 340.6 67C339.6 64.4 337 60.5 338.6 59ZM305.8 66.1C306.7 64.1 311 62.5 313.9 62C316.8 61.6 321.5 61.8 323.2 63.4C325 64.9 325.7 69.4 324.6 71.4C323.5 73.4 319.2 75 316.5 75.4C313.9 75.9 310.3 75.7 308.5 74.1C306.7 72.5 304.9 68.1 305.8 66.1ZM180 116.9C181.8 109.6 187.1 116.5 190.7 118.3C194.3 120.1 197.8 125.6 201.4 127.6C205 129.7 208.6 128.5 212.1 130.3C215.7 132.1 219.3 135.7 222.8 138.4C226.4 141 229.5 144.6 233.5 146.4C237.6 148.2 242.9 148.2 246.9 149.1C251 150 255.4 149.5 257.6 151.7C259.9 154 260.8 158.9 260.3 162.4C259.9 166 257.2 170.5 255 173.2C252.7 175.8 250.5 178.1 246.9 178.5C243.4 179 237.6 177.2 233.5 175.8C229.5 174.5 226.4 172.7 222.8 170.5C219.3 168.3 215.7 164.2 212.1 162.4C208.6 160.7 205 160.7 201.4 159.8C197.8 158.9 194.3 156.6 190.7 157.1C187.1 157.5 181.8 169.1 180 162.4C178.2 155.8 178.2 124.3 180 116.9ZM220.2 183.9C222.4 180.7 229.1 179 233.5 178.5C238 178.1 242.5 181.6 246.9 181.2C251.4 180.7 256.8 178.1 260.3 175.8C263.9 173.6 266.1 170 268.4 167.8C270.6 165.6 273 160.7 273.7 162.4C274.4 164.2 273.3 174.1 272.4 178.5C271.5 183 269.2 184.8 268.4 189.2C267.5 193.7 268.4 200.8 267 205.3C265.7 209.8 262.3 215.1 260.3 216C258.3 216.9 256.3 213.3 255 210.6C253.6 208 254.1 200.8 252.3 199.9C250.5 199 247.4 204.6 244.3 205.3C241.1 206 236.7 203.5 233.5 203.9C230.4 204.4 227.7 209.1 225.5 208C223.3 206.8 221.1 201.3 220.2 197.3C219.3 193.2 217.9 187 220.2 183.9ZM309.9 159.8C310.7 158 316.8 154.9 319.2 151.7C321.7 148.6 322.3 144.6 324.6 141C326.8 137.5 329.9 133 332.6 130.3C335.3 127.6 338.4 125.4 340.6 125C342.9 124.5 345.6 125.9 346 127.6C346.4 129.4 342.4 134.8 343.3 135.7C344.2 136.6 349.6 132.6 351.4 133C353.1 133.4 354.5 136.1 354 138.4C353.6 140.6 350.9 144.2 348.7 146.4C346.4 148.6 340.2 150.4 340.6 151.7C341.1 153.1 349.1 152.6 351.4 154.4C353.6 156.2 354.5 159.8 354 162.4C353.6 165.1 349.1 166.9 348.7 170.5C348.2 174.1 351.8 179.9 351.4 183.9C350.9 187.9 348.2 191.9 346 194.6C343.8 197.3 340.6 200.8 338 199.9C335.3 199 332.2 193.2 329.9 189.2C327.7 185.2 324.6 179.4 324.6 175.8C324.6 172.3 330.4 170 329.9 167.8C329.5 165.6 324.6 163.3 321.9 162.4C319.2 161.6 315.9 162.9 313.9 162.4C311.9 162 309 161.6 309.9 159.8ZM305.8 205.3C306.1 201.7 309 202.2 311.2 202.6C313.4 203.1 317 206.6 319.2 208C321.5 209.3 322.3 210.2 324.6 210.6C326.8 211.1 330.6 209.3 332.6 210.6C334.6 212 336.6 216.4 336.6 218.7C336.6 220.9 334.6 223.6 332.6 224C330.6 224.5 326.8 220.9 324.6 221.4C322.3 221.8 321 224.9 319.2 226.7C317.4 228.5 315.4 232.5 313.9 232.1C312.3 231.6 311.2 228.5 309.9 224C308.5 219.6 305.6 208.9 305.8 205.3ZM180 224C182.2 219.5 188.9 222.7 193.4 222.7C197.8 222.7 203.7 222.5 206.8 224C209.9 225.6 211.7 228.9 212.1 232.1C212.6 235.2 211.2 239.8 209.5 242.8C207.7 245.8 206.3 248.8 201.4 250C196.5 251.2 183.6 254.3 180 250C176.4 245.7 177.8 228.6 180 224ZM253.6 224C255 222.5 260.5 220.9 263 221.4C265.5 221.8 268.4 224.9 268.4 226.7C268.4 228.5 265.2 231.4 263 232.1C260.8 232.7 256.5 232.1 255 230.7C253.4 229.4 252.3 225.6 253.6 224ZM214.8 242.8C216.1 240.8 222.4 238.3 225.5 238.8C228.6 239.2 232.7 243.4 233.5 245.4C234.4 247.5 233.5 249.9 230.9 250.8C228.2 251.7 220.2 252.1 217.5 250.8C214.8 249.5 213.5 244.8 214.8 242.8ZM366.1 216C367 214.9 370.8 214 372.8 214.7C374.8 215.3 378.1 218.5 378.1 220C378.1 221.6 374.6 223.8 372.8 224C371 224.3 368.5 222.7 367.4 221.4C366.3 220 365.2 217.1 366.1 216ZM368.8 240.1C369.4 238.3 373.9 237.4 375.4 238.8C377 240.1 378.8 246.3 378.1 248.1C377.5 249.9 373 250.8 371.4 249.5C369.9 248.1 368.1 241.9 368.8 240.1ZM277.7 213.3C278.4 211.1 282.9 209.3 284.4 210.6C286 212 287.8 219.1 287.1 221.4C286.4 223.6 282 225.4 280.4 224C278.8 222.7 277.1 215.6 277.7 213.3ZM198.7 111.6C199.2 108.9 204.1 106.2 206.8 104.9C209.5 103.5 212.6 102.4 214.8 103.5C217 104.7 217.9 110.9 220.2 111.6C222.4 112.2 226 107.6 228.2 107.6C230.4 107.6 234 109.6 233.5 111.6C233.1 113.6 228.6 117.8 225.5 119.6C222.4 121.4 218.4 122.1 214.8 122.3C211.2 122.5 206.8 122.7 204.1 121C201.4 119.2 198.3 114.3 198.7 111.6ZM198 225.1C199.7 221.1 205.7 223.1 208 224.1C210.4 225.1 211.7 228.3 212 231.1C212.4 233.9 211 238.3 210 241.1C209 244 208 247 206 248.2C204 249.3 199.3 252 198 248.2C196.7 244.3 196.3 229.1 198 225.1ZM211 210C211.7 208.3 215 209.4 215.7 211C216.3 212.7 215.7 218.4 215.1 220.1C214.4 221.7 212.3 222.7 211.6 221.1C211 219.4 210.4 211.7 211 210ZM236.1 221.1C236.6 220.1 239.3 219.4 240.2 220.1C241 220.7 241.7 224.1 241.2 225.1C240.7 226.1 238 226.8 237.1 226.1C236.3 225.4 235.6 222.1 236.1 221.1ZM216.1 243.2C217.1 239.6 221.8 238.1 224.1 238.1C226.4 238.1 228.4 240.6 230.1 243.2C231.8 245.7 233.8 249.8 234.1 253.2C234.5 256.5 233 259.9 232.1 263.2C231.3 266.6 230.3 270.9 229.1 273.3C227.9 275.6 226.1 278.6 225.1 277.3C224.1 276 224.3 268.3 223.1 265.2C221.9 262.2 219.2 262.9 218.1 259.2C216.9 255.5 215.1 246.7 216.1 243.2ZM235.1 266.2C235.3 265.3 238.7 266.2 240.2 267.2C241.6 268.3 243.9 271.3 243.8 272.3C243.6 273.2 240.6 273.9 239.2 272.9C237.7 271.9 235 267.2 235.1 266.2ZM249.8 241.1C250.5 241 252.3 245.3 254.2 247.2C256.1 249 260.9 251.2 261.2 252.2C261.6 253.2 258.1 253.9 256.2 253.2C254.4 252.5 251.3 250.2 250.2 248.2C249.1 246.2 249.1 241.3 249.8 241.1ZM252.6 266.2C252.6 264.7 256.3 262.1 258.2 261.2C260.2 260.4 262.2 259.9 264.3 261.2C266.3 262.6 268.5 266.6 270.3 269.3C272 271.9 274.7 275.1 274.7 277.3C274.7 279.5 272 282.8 270.3 282.3C268.5 281.8 266.3 276.3 264.3 274.3C262.2 272.3 260.2 271.6 258.2 270.3C256.3 268.9 252.6 267.8 252.6 266.2ZM253.8 225.1C254 223.1 257 221.7 259.2 222.1C261.5 222.4 266.1 225.2 267.3 227.1C268.4 228.9 267.8 231.9 266.3 233.1C264.8 234.3 260.3 235.5 258.2 234.1C256.2 232.8 253.6 227.1 253.8 225.1ZM236.1 204C240.2 203.2 264.5 202.5 270.3 204C276 205.5 271.4 210.7 270.7 213C270 215.4 268 217.6 266.3 218.1C264.5 218.6 261.9 217.4 260.2 216C258.6 214.7 258.6 211.2 256.2 210C253.9 208.8 249.5 210 246.2 209C242.8 208 232.1 204.8 236.1 204ZM279.9 217C280.6 215 283.9 214.2 286.3 213C288.8 211.9 293.2 208.7 294.4 210C295.5 211.4 294.4 218.6 293.4 221.1C292.4 223.6 289.7 223.2 288.4 225.1C287 226.9 286.3 232.1 285.3 232.1C284.3 232.1 283.2 227.6 282.3 225.1C281.4 222.6 279.3 219.1 279.9 217ZM304.4 204C306.6 201.8 316.5 203.5 320.5 204C324.5 204.5 326 205.2 328.5 207C331 208.8 334.5 212.4 335.5 215C336.5 217.7 335.7 221.2 334.5 223.1C333.4 224.9 330.9 225.9 328.5 226.1C326.2 226.3 322.8 222.7 320.5 224.1C318.1 225.4 316.3 233.3 314.5 234.1C312.6 235 310.6 231.9 309.4 229.1C308.3 226.3 308.3 221.2 307.4 217C306.6 212.9 302.2 206.2 304.4 204ZM199 270.3C199.8 270.1 202.6 272.8 204 274.3C205.5 275.8 207.6 278.4 207.6 279.3C207.6 280.2 205.5 280.4 204 279.7C202.6 279 199.8 276.9 199 275.3C198.2 273.7 198.2 270.4 199 270.3ZM214.1 301.4C215.4 300.9 217.7 303.4 220.1 305.4C222.4 307.4 226.1 311.1 228.1 313.4C230.1 315.8 232.5 318.1 232.1 319.5C231.8 320.8 228.1 322.3 226.1 321.5C224.1 320.6 222.4 315.6 220.1 314.4C217.7 313.3 214.1 314.9 212 314.4C210 313.9 208 312.4 208 311.4C208 310.4 211 310.1 212 308.4C213.1 306.7 212.7 301.9 214.1 301.4ZM205 316.4C206 315.4 210.2 314.5 212 315C213.9 315.5 216.1 318.1 216.1 319.5C216.1 320.8 213.7 322.8 212 323.1C210.4 323.3 207.2 322.2 206 321.1C204.9 320 204 317.4 205 316.4ZM198 367C199.7 366 204.7 365.7 208 365C211.4 364.4 214.7 363.2 218.1 363C221.4 362.9 225.9 363.2 228.1 364C230.3 364.9 231.5 366.9 231.1 368.1C230.8 369.2 228.6 370.4 226.1 371.1C223.6 371.7 219.4 371.9 216.1 372.1C212.7 372.2 209 372.2 206 372.1C203 371.9 199.3 371.9 198 371.1C196.7 370.2 196.3 368.1 198 367ZM229.7 378.1C230.2 377 232.7 376.2 234.1 376.7C235.5 377.2 237.8 379.9 238.2 381.1C238.5 382.3 237.3 383.8 236.1 384.1C235 384.5 232.2 384.1 231.1 383.1C230.1 382.1 229.2 379.2 229.7 378.1ZM198 410.2C199.3 409.3 204.2 409.1 206 409.6C207.9 410.1 209.2 412.2 209 413.2C208.9 414.2 206.9 415.3 205 415.6C203.2 416 199.2 416.1 198 415.2C196.8 414.3 196.7 411.2 198 410.2ZM208 417.2C208.5 416.3 212.7 415.8 214.1 416.2C215.4 416.6 216.6 418.8 216.1 419.7C215.6 420.6 212.4 422.1 211 421.7C209.7 421.3 207.5 418.2 208 417.2ZM237.1 430.3C237.7 429.5 241.7 428.9 243.2 429.3C244.6 429.7 246.3 432.1 245.8 432.9C245.3 433.7 241.6 434.8 240.2 434.3C238.7 433.9 236.6 431.1 237.1 430.3ZM198 502.6C199.7 501.4 205.4 500.6 208 500.6C210.7 500.6 213.4 501.4 214.1 502.6C214.7 503.8 214.7 506.8 212 507.6C209.4 508.4 200.3 508.4 198 507.6C195.6 506.8 196.3 503.8 198 502.6ZM230.1 455C230.5 454.6 232.1 454.3 232.5 454.6C233 454.9 233.1 456.6 232.7 457C232.4 457.4 231 457.3 230.5 457C230.1 456.7 229.8 455.4 230.1 455ZM218.1 531.1C218.7 529.1 220.1 527.9 222.1 527.1C224.1 526.3 227.8 526.8 230.1 526.1C232.5 525.4 234.8 525.2 236.1 523.1C237.5 520.9 237.7 516 238.2 513C238.7 510 238.5 506.3 239.2 505C239.8 503.7 241.5 503.3 242.2 505C242.8 506.7 243.2 511.4 243.2 515C243.2 518.7 242.7 524.1 242.2 527.1C241.7 530.1 241.5 531.8 240.2 533.1C238.8 534.5 236.1 534.5 234.1 535.1C232.1 535.8 229.5 535.5 228.1 537.1C226.8 538.8 227.4 543.5 226.1 545.2C224.8 546.8 221.4 548.2 220.1 547.2C218.7 546.2 218.4 541.8 218.1 539.1C217.7 536.5 217.4 533.1 218.1 531.1ZM198 548.2C199.7 546.5 204.7 548 208 547.2C211.4 546.3 215.7 543.2 218.1 543.2C220.4 543.2 222.4 545.8 222.1 547.2C221.8 548.5 216.7 549.8 216.1 551.2C215.4 552.5 218.7 554.2 218.1 555.2C217.4 556.2 214.1 557.2 212 557.2C210 557.2 208.4 555.2 206 555.2C203.7 555.2 199.3 558.4 198 557.2C196.7 556 196.3 549.8 198 548.2ZM246.2 535.1C247.9 533.1 251.9 532.4 254.2 533.1C256.6 533.8 258.9 536.5 260.2 539.1C261.6 541.8 261.7 545.5 262.2 549.2C262.8 552.9 263.6 558.2 263.3 561.2C262.9 564.2 262.1 566.2 260.2 567.2C258.4 568.3 254.9 567.6 252.2 567.2C249.5 566.9 246.9 565.9 244.2 565.2C241.5 564.6 238.5 563.2 236.1 563.2C233.8 563.2 231.8 563.9 230.1 565.2C228.4 566.6 227.4 569.3 226.1 571.3C224.8 573.3 223.4 577 222.1 577.3C220.7 577.6 218.1 575.3 218.1 573.3C218.1 571.3 220.7 567.6 222.1 565.2C223.4 562.9 224.8 559.9 226.1 559.2C227.4 558.5 227.8 561.2 230.1 561.2C232.5 561.2 237.5 559.6 240.2 559.2C242.8 558.9 245.9 559.9 246.2 559.2C246.5 558.5 242.5 557.5 242.2 555.2C241.8 552.9 243.5 548.5 244.2 545.2C244.8 541.8 244.5 537.1 246.2 535.1ZM198 565.2C199.7 561.2 204.7 563.2 208 563.2C211.4 563.2 215.1 563.9 218.1 565.2C221.1 566.6 225.8 569.6 226.1 571.3C226.4 572.9 222.4 574.9 220.1 575.3C217.7 575.6 214.4 572.9 212 573.3C209.7 573.6 205.4 576 206 577.3C206.7 578.6 213.4 580 216.1 581.3C218.7 582.6 222.8 584.3 222.1 585.3C221.4 586.3 215.1 587.3 212 587.3C209 587.3 206.4 585.3 204 585.3C201.7 585.3 199 590.7 198 587.3C197 584 196.3 569.3 198 565.2ZM230.1 585.3C231.1 583.6 235.8 582.3 238.2 581.3C240.5 580.3 243.3 578.3 244.2 579.3C245 580.3 243.5 584.7 243.2 587.3C242.8 590 243 593.9 242.2 595.4C241.3 596.9 239.2 597.4 238.2 596.4C237.1 595.4 237.1 590.2 236.1 589.3C235.1 588.5 233.1 592 232.1 591.3C231.1 590.7 229.1 587 230.1 585.3ZM254.2 579.3C255.1 578 257.6 577 260.2 575.3C262.9 573.6 266.9 571.1 270.3 569.3C273.6 567.4 277.3 565.2 280.3 564.2C283.3 563.2 286.3 562.7 288.4 563.2C290.4 563.7 292 565.2 292.4 567.2C292.7 569.3 292.4 573.3 290.4 575.3C288.4 577.3 283.7 578.3 280.3 579.3C277 580.3 273.6 580.5 270.3 581.3C266.9 582.1 262.8 584 260.2 584.3C257.7 584.7 256.2 584.1 255.2 583.3C254.2 582.5 253.4 580.6 254.2 579.3ZM303.4 569.3C303.8 567.8 306.4 566.6 307.4 567.2C308.4 567.9 309.3 571.6 309.4 573.3C309.6 574.9 309.2 576.8 308.4 577.3C307.7 577.8 305.7 577.6 304.8 576.3C304 574.9 303 570.8 303.4 569.3ZM269.3 511C269.3 510.2 270.6 509.5 271.3 510C272 510.5 273.3 513.2 273.3 514C273.3 514.9 272 515.5 271.3 515C270.6 514.5 269.3 511.9 269.3 511ZM198 593.4C199.3 592.5 204 594.2 206 595.4C208 596.5 210.4 599.4 210 600.4C209.7 601.4 206 601.4 204 601.4C202 601.4 199 601.7 198 600.4C197 599 196.7 594.2 198 593.4ZM226.1 607.4C228.1 606.1 231.8 605.1 234.1 605.4C236.5 605.7 239.5 607.9 240.2 609.4C240.8 610.9 239.8 613.8 238.2 614.4C236.5 615.1 232.5 612.6 230.1 613.4C227.8 614.3 226.8 617.8 224.1 619.5C221.4 621.1 217.4 622.5 214.1 623.5C210.7 624.5 206.7 625.5 204 625.5C201.3 625.5 197.7 624.5 198 623.5C198.3 622.5 203 620.5 206 619.5C209 618.5 213.4 618.5 216.1 617.4C218.7 616.4 220.4 615.1 222.1 613.4C223.8 611.8 224.1 608.7 226.1 607.4ZM262.2 601.4C262.9 600.7 267.3 602.1 270.3 603.4C273.3 604.7 277.3 607.1 280.3 609.4C283.3 611.8 285.7 615.8 288.4 617.4C291 619.1 293.7 619 296.4 619.5C299.1 620 301.7 620.8 304.4 620.5C307.1 620.1 309.8 619.3 312.4 617.4C315.1 615.6 318.5 612.1 320.5 609.4C322.5 606.7 323.2 602.4 324.5 601.4C325.8 600.4 327.8 601.7 328.5 603.4C329.2 605.1 329.2 608.4 328.5 611.4C327.8 614.4 326.2 618.5 324.5 621.5C322.8 624.5 318.8 626.8 318.5 629.5C318.1 632.2 321.2 634.9 322.5 637.5C323.8 640.2 326.8 642.7 326.5 645.6C326.2 648.5 322.8 653 320.5 655C318.1 657 316.5 657.2 312.4 657.6C308.4 658 297.7 658.9 296.4 657.6C295 656.3 302.7 652.3 304.4 649.6C306.1 646.9 307.1 644.2 306.4 641.5C305.8 638.9 302.7 635.5 300.4 633.5C298.1 631.5 295 629.5 292.4 629.5C289.7 629.5 287 633.5 284.3 633.5C281.7 633.5 278 631.5 276.3 629.5C274.6 627.5 273.6 623.8 274.3 621.5C275 619.1 280.3 617.1 280.3 615.4C280.3 613.8 276.6 612.8 274.3 611.4C272 610.1 268.3 609.1 266.3 607.4C264.3 605.7 261.6 602.1 262.2 601.4ZM198 643.6C199.7 642.4 205 642.9 208 641.5C211 640.2 214.1 636.2 216.1 635.5C218.1 634.9 220.1 636.2 220.1 637.5C220.1 638.9 218.1 641.9 216.1 643.6C214.1 645.2 211 646.7 208 647.6C205 648.4 199.7 649.2 198 648.6C196.3 647.9 196.3 644.7 198 643.6ZM232.1 645.6C233.8 642.2 237.1 639.5 240.2 637.5C243.2 635.5 247.2 634.2 250.2 633.5C253.2 632.8 255.6 633.2 258.2 633.5C260.9 633.8 263.6 634.2 266.3 635.5C268.9 636.9 274.3 639.9 274.3 641.5C274.3 643.2 268.9 644.2 266.3 645.6C263.6 646.9 260.6 647.6 258.2 649.6C255.9 651.6 256.9 656.3 252.2 657.6C247.5 658.9 233.5 659.6 230.1 657.6C226.8 655.6 230.5 648.9 232.1 645.6ZM340.6 614.4C341.8 613.1 348 613.6 350 613.4C352 613.3 352.2 610.1 352.6 613.4C353 616.8 353.6 630.8 352.6 633.5C351.6 636.2 348.3 631.5 346.6 629.5C344.9 627.5 343.6 624 342.6 621.5C341.6 619 339.3 615.8 340.6 614.4ZM346.6 609.4C347.4 608.4 351.6 607.6 352.6 608.4C353.6 609.3 353.4 613.4 352.6 614.4C351.8 615.4 348.6 615.3 347.6 614.4C346.6 613.6 345.7 610.4 346.6 609.4ZM220.1 609C222.4 607.2 225.4 606.4 228.1 606C230.8 605.7 234.1 605.9 236.1 607C238.2 608.2 238.5 611.1 240.2 613.1C241.8 615.1 245.5 617.1 246.2 619.1C246.9 621.1 245.9 623.8 244.2 625.1C242.5 626.5 238.8 626.8 236.1 627.1C233.5 627.5 230.8 627.8 228.1 627.1C225.4 626.5 222.8 623.8 220.1 623.1C217.4 622.4 214.7 623.4 212 623.1C209.4 622.8 205 622.1 204 621.1C203 620.1 204.4 617.7 206 617.1C207.7 616.4 211.7 618.4 214.1 617.1C216.4 615.7 217.7 610.9 220.1 609ZM262.2 601C262.9 600.3 267.3 602 270.3 603C273.3 604 278.3 605 280.3 607C282.3 609 280.7 613.1 282.3 615.1C284 617.1 287.3 618.4 290.4 619.1C293.4 619.8 297.4 620.1 300.4 619.1C303.4 618.1 305.8 615.1 308.4 613.1C311.1 611.1 314.1 608.7 316.5 607C318.8 605.4 320.8 604 322.5 603C324.2 602 325.5 600.3 326.5 601C327.5 601.7 328.8 604.4 328.5 607C328.2 609.7 325.8 614.1 324.5 617.1C323.2 620.1 320.5 622.4 320.5 625.1C320.5 627.8 323.2 630.5 324.5 633.1C325.8 635.8 328.5 638.2 328.5 641.2C328.5 644.2 326.5 648.5 324.5 651.2C322.5 653.9 319.1 655.6 316.5 657.2C313.8 658.9 311.1 660.3 308.4 661.3C305.8 662.3 302.4 663.9 300.4 663.3C298.4 662.6 296.7 659.6 296.4 657.2C296.1 654.9 297.1 651.6 298.4 649.2C299.7 646.9 302.7 645.5 304.4 643.2C306.1 640.8 308.1 637.8 308.4 635.2C308.8 632.5 307.8 628.5 306.4 627.1C305.1 625.8 302.7 627.5 300.4 627.1C298.1 626.8 295 625.8 292.4 625.1C289.7 624.4 287 624.4 284.3 623.1C281.7 621.8 278.6 618.8 276.3 617.1C274 615.4 272 614.7 270.3 613.1C268.6 611.4 267.6 609 266.3 607C264.9 605 261.6 601.7 262.2 601ZM198 641.2C199.7 639.8 205 639.8 208 639.2C211 638.5 214.1 636.8 216.1 637.2C218.1 637.5 220.7 639.8 220.1 641.2C219.4 642.5 214.7 644.2 212 645.2C209.4 646.2 206.4 646.9 204 647.2C201.7 647.5 199 648.2 198 647.2C197 646.2 196.3 642.5 198 641.2ZM206 659.2C205.4 656.7 212.7 657.2 216.1 656.2C219.4 655.2 223.8 655.1 226.1 653.2C228.4 651.4 228.4 647.5 230.1 645.2C231.8 642.9 233.5 640.8 236.1 639.2C238.8 637.5 242.8 636.2 246.2 635.2C249.5 634.1 253.2 633.5 256.2 633.1C259.2 632.8 261.2 632.5 264.3 633.1C267.3 633.8 272 635.5 274.3 637.2C276.6 638.8 278.3 641.5 278.3 643.2C278.3 644.9 276.3 646.9 274.3 647.2C272.3 647.5 268.9 645.2 266.3 645.2C263.6 645.2 260.2 645.2 258.2 647.2C256.2 649.2 254.6 654.2 254.2 657.2C253.9 660.3 254.6 664.3 256.2 665.3C257.9 666.3 261.6 663.6 264.3 663.3C266.9 662.9 269.9 662.3 272.3 663.3C274.6 664.3 277 666.9 278.3 669.3C279.7 671.6 280.7 675.3 280.3 677.3C280 679.3 278.3 681 276.3 681.3C274.3 681.7 271 678.7 268.3 679.3C265.6 680 262.2 683.7 260.2 685.4C258.2 687 259.6 690 256.2 689.4C252.9 688.7 246.2 684.3 240.2 681.3C234.1 678.3 225.8 675 220.1 671.3C214.4 667.6 206.7 661.8 206 659.2ZM336.5 611.1C337.6 608.7 341.9 609.4 344.6 609C347.3 608.7 351.3 605.7 352.6 609C353.9 612.4 353.6 626.1 352.6 629.1C351.6 632.1 348.6 626.8 346.6 627.1C344.6 627.5 341.9 631.8 340.6 631.1C339.2 630.5 339.2 626.5 338.6 623.1C337.9 619.8 335.5 613.4 336.5 611.1ZM308.4 667.3C309.9 666.9 313.1 668.3 314.5 669.3C315.8 670.3 317.1 672.5 316.5 673.3C315.8 674.1 312.3 674.6 310.4 674.3C308.6 674 305.8 672.5 305.4 671.3C305.1 670.1 306.9 667.6 308.4 667.3ZM316.5 705.4C316.5 703.8 319.1 699.7 320.5 697.4C321.8 695.1 324.2 693.7 324.5 691.4C324.8 689 322.5 686.4 322.5 683.3C322.5 680.3 323.5 676.7 324.5 673.3C325.5 670 326.5 666.3 328.5 663.3C330.5 660.3 333.9 657.9 336.5 655.2C339.2 652.6 341.9 649.2 344.6 647.2C347.3 645.2 351.3 636.2 352.6 643.2C353.9 650.2 353.9 681.3 352.6 689.4C351.3 697.4 346.9 690 344.6 691.4C342.2 692.7 340.9 695.4 338.6 697.4C336.2 699.4 333.5 701.8 330.5 703.4C327.5 705 322.8 706.7 320.5 707C318.1 707.4 316.5 707 316.5 705.4ZM348 59C349.7 52.7 355.4 60.4 358 63C360.7 65.7 361.4 71.7 364.1 75.1C366.7 78.4 371.1 81.4 374.1 83.1C377.1 84.8 381.1 83.4 382.1 85.1C383.1 86.8 381.8 91.5 380.1 93.2C378.4 94.8 373.8 92.8 372.1 95.2C370.4 97.5 371.8 104.5 370.1 107.2C368.4 109.9 364.4 111.9 362 111.2C359.7 110.6 358.4 104.9 356 103.2C353.7 101.5 349.3 108.5 348 101.2C346.7 93.8 346.3 65.4 348 59ZM406.6 58.6C407 57.5 411.6 58.5 413.3 59.4C414.9 60.3 416.6 62.9 416.3 64C415.9 65.1 412.9 66.9 411.2 66C409.6 65.1 406.3 59.7 406.6 58.6ZM447.4 93.2C447.8 90.3 448.9 88.3 450.4 88.1C451.9 88 454.4 91.6 456.4 92.1C458.4 92.7 460.1 92 462.4 91.1C464.8 90.3 467.8 87.6 470.5 87.1C473.2 86.6 476.5 87.5 478.5 88.1C480.5 88.8 483.2 90.3 482.5 91.1C481.9 92 476.2 91.5 474.5 93.2C472.8 94.8 473.8 98.5 472.5 101.2C471.2 103.9 468.3 107 466.5 109.2C464.6 111.4 462.4 114.6 461.4 114.2C460.4 113.9 461.6 109 460.4 107.2C459.3 105.4 456.1 102.5 454.4 103.2C452.7 103.9 451.5 110.9 450.4 111.2C449.3 111.6 448.5 108.2 448 105.2C447.5 102.2 447 96 447.4 93.2ZM490.6 109.2C493.5 107 498 103.4 500 102.2C502 101 502.2 100.3 502.6 102.2C503 104 503.9 111.2 502.6 113.2C501.3 115.2 496.9 112.6 494.6 114.2C492.2 115.9 490.6 121.1 488.6 123.3C486.5 125.4 483.9 127.6 482.5 127.3C481.2 127 480.5 123.3 480.5 121.3C480.5 119.3 480.9 117.2 482.5 115.2C484.2 113.2 487.7 111.4 490.6 109.2ZM451.4 132.3C452.1 132 456.3 133.5 458.4 135.3C460.6 137.2 462.4 140.7 464.5 143.4C466.5 146 467.8 149.4 470.5 151.4C473.2 153.4 477.2 155.7 480.5 155.4C483.9 155.1 487.9 151.7 490.6 149.4C493.2 147 494.6 143 496.6 141.3C498.6 139.7 501.6 136.3 502.6 139.3C503.6 142.3 503.9 155.7 502.6 159.4C501.3 163.1 497.3 160.8 494.6 161.4C491.9 162.1 489.9 163.4 486.5 163.4C483.2 163.4 477.8 162.8 474.5 161.4C471.2 160.1 468.6 157.7 466.5 155.4C464.3 153.1 463.5 150.4 461.4 147.4C459.4 144.4 456.1 139.8 454.4 137.3C452.7 134.8 450.7 132.6 451.4 132.3ZM442.4 122.3C442.8 121 445.3 120.3 446 121.3C446.7 122.3 446.8 127 446.4 128.3C446 129.6 444 129.9 443.4 128.9C442.7 127.9 441.9 123.5 442.4 122.3ZM404.2 159.4C405.4 157.6 407.9 155.6 410.2 155.4C412.6 155.2 416.3 157.6 418.3 158.4C420.3 159.3 422.3 158.9 422.3 160.4C422.3 161.9 420.3 165.3 418.3 167.4C416.3 169.6 412.6 171.8 410.2 173.5C407.9 175.1 406.6 175.8 404.2 177.5C401.9 179.2 398.7 181.8 396.2 183.5C393.7 185.2 390.7 187.4 389.2 187.5C387.7 187.7 386.3 186 387.1 184.5C388 183 392 180.3 394.2 178.5C396.4 176.7 398.7 175.5 400.2 173.5C401.7 171.5 402.5 168.8 403.2 166.4C403.9 164.1 403 161.3 404.2 159.4ZM468.9 169.9C469.7 169.5 474 169.9 474.9 170.5C475.8 171.1 475.3 173.1 474.5 173.5C473.7 173.8 471 173.1 470.1 172.5C469.1 171.9 468.1 170.2 468.9 169.9ZM476.5 179.5C477.3 178.2 480.2 176.5 482.5 175.5C484.9 174.5 487.7 174.8 490.6 173.5C493.5 172.1 498 168.5 500 167.4C502 166.4 502.2 166.1 502.6 167.4C503 168.8 503.9 173.8 502.6 175.5C501.3 177.2 496.9 176.7 494.6 177.5C492.2 178.3 489.9 179.2 488.6 180.5C487.2 181.8 487.9 184.5 486.5 185.5C485.2 186.5 482 186.9 480.5 186.5C479 186.2 478.2 184.7 477.5 183.5C476.8 182.3 475.7 180.8 476.5 179.5ZM348 152.4C348.8 150 352.1 151.9 353 153.4C353.9 154.9 353.9 159.1 353.6 161.4C353.3 163.8 351.9 166.4 351 167.4C350.1 168.5 348.5 170 348 167.4C347.5 164.9 347.2 154.7 348 152.4ZM366.5 216C367.2 215.2 370.5 214.2 372.1 215C373.7 215.9 376.1 219.7 376.1 221.1C376.1 222.4 373.5 223.2 372.1 223.1C370.7 222.9 368.6 221.2 367.7 220.1C366.7 218.9 365.7 216.9 366.5 216ZM380.1 208C381.5 207.1 386.6 206.6 388.2 207.4C389.7 208.2 389.3 210.8 389.2 213C389 215.3 388.2 220.7 387.1 221.1C386.1 221.4 384.3 216.4 383.1 215C382 213.7 380.6 214.2 380.1 213C379.6 211.9 378.8 208.9 380.1 208ZM397.2 204C397.5 202.8 400.4 203 401.2 204C402 205 402.5 208.8 402.2 210C401.9 211.2 400 212 399.2 211C398.4 210 396.9 205.2 397.2 204ZM369.5 241.1C370.1 240.1 373 239.9 373.7 240.7C374.4 241.6 374.3 245.1 373.7 246.2C373.1 247.2 370.8 248 370.1 247.2C369.4 246.3 368.9 242.2 369.5 241.1ZM378.5 224.7C378.8 224.1 381.3 224.3 382.1 225.1C382.9 225.8 383.7 228.5 383.3 229.1C383 229.7 380.9 229.4 380.1 228.7C379.3 228 378.2 225.3 378.5 224.7ZM490.6 229.1C491.4 227.9 494.9 228.1 496.6 228.1C498.3 228.1 499.9 226.8 500.6 229.1C501.3 231.4 501.6 240.1 500.6 242.1C499.6 244.2 496.1 242.3 494.6 241.1C493.1 240 492.2 237.1 491.6 235.1C490.9 233.1 489.7 230.3 490.6 229.1ZM431.3 263.6C431.7 262.9 433.8 262.6 434.3 263.2C434.9 263.8 435.1 266.5 434.7 267.2C434.4 268 432.9 268.3 432.3 267.7C431.8 267 431 264.4 431.3 263.6ZM494.6 454.4C495 453.4 498.7 454.6 500 455.4C501.3 456.2 502.2 457.9 502.6 459.4C503 460.9 503.4 464.1 502.6 464.4C501.8 464.8 498.9 463.1 497.6 461.4C496.3 459.8 494.2 455.4 494.6 454.4ZM488.6 462.4C489.4 461.6 493.1 460.6 494.6 461.4C496.1 462.3 497.8 465.9 497.6 467.4C497.4 469 494.9 470.6 493.6 470.5C492.2 470.3 490.4 467.8 489.6 466.4C488.7 465.1 487.7 463.3 488.6 462.4ZM478.5 473.5C479.2 472 482.2 470.5 484.5 471.5C486.9 472.5 490 477.2 492.6 479.5C495.1 481.8 498.3 484.2 500 485.5C501.7 486.9 502.2 485.9 502.6 487.5C503 489.2 503.9 494.6 502.6 495.6C501.3 496.6 497.3 494.9 494.6 493.6C491.9 492.2 488.9 489.7 486.5 487.5C484.2 485.4 481.9 482.8 480.5 480.5C479.2 478.2 477.8 475 478.5 473.5ZM440.4 495.6C441.2 494.2 444.4 492.9 446.4 493.6C448.4 494.2 451.1 497.7 452.4 499.6C453.7 501.5 453.9 503.7 454.4 505C454.9 506.3 457.4 507.2 455.4 507.6C453.4 508 444.7 508.6 442.4 507.6C440 506.6 441.7 503.6 441.4 501.6C441 499.6 439.5 496.9 440.4 495.6ZM422.3 617.4C423 614.8 427.6 612.1 430.3 611.4C433 610.8 435.7 612.4 438.4 613.4C441 614.4 443.7 616.4 446.4 617.4C449.1 618.5 451.7 619.5 454.4 619.5C457.1 619.5 459.8 618.1 462.4 617.4C465.1 616.8 468.6 614.8 470.5 615.4C472.3 616.1 473.5 619.1 473.5 621.5C473.5 623.8 471.7 627.2 470.5 629.5C469.3 631.8 468.5 633.8 466.5 635.5C464.5 637.2 461.1 639.2 458.4 639.5C455.8 639.9 453.1 638.5 450.4 637.5C447.7 636.5 445 634.5 442.4 633.5C439.7 632.5 437 632.5 434.3 631.5C431.7 630.5 428.3 629.8 426.3 627.5C424.3 625.1 421.6 620.1 422.3 617.4ZM486.5 533.1C488.1 529.1 492.6 526.1 494.6 525.1C496.6 524.1 498.3 525.1 498.6 527.1C498.9 529.1 497.6 534.1 496.6 537.1C495.6 540.1 493.6 541.8 492.6 545.2C491.6 548.5 491.6 554.9 490.6 557.2C489.6 559.6 487.4 560.6 486.5 559.2C485.7 557.9 485.5 553.5 485.5 549.2C485.5 544.8 485 537.1 486.5 533.1ZM478.5 545.2C479 544.3 481.7 543.7 482.5 544.2C483.4 544.7 484 547.3 483.5 548.2C483 549 480.4 549.7 479.5 549.2C478.7 548.7 478 546 478.5 545.2ZM486.5 597.4C487.4 594.7 488.9 593.7 490.6 593.4C492.2 593 495.2 593.4 496.6 595.4C497.9 597.4 498.9 602.1 498.6 605.4C498.3 608.7 496.3 613.4 494.6 615.4C492.9 617.4 490.1 618.5 488.6 617.4C487 616.4 485.9 612.8 485.5 609.4C485.2 606.1 485.7 600 486.5 597.4ZM376.1 603.4C376.6 602.4 379.2 601.7 380.1 602.4C381.1 603.1 382.2 606.4 381.7 607.4C381.2 608.4 378 609.1 377.1 608.4C376.2 607.7 375.6 604.4 376.1 603.4ZM348 619.5C349.7 618.6 354.7 620 358 620.5C361.4 621 366.7 621.5 368.1 622.5C369.4 623.5 368.1 626 366.1 626.5C364.1 627 359 625.6 356 625.5C353 625.3 349.3 626.5 348 625.5C346.7 624.5 346.3 620.3 348 619.5ZM440 585.3C440.3 584 442.2 583.3 442.8 584.3C443.3 585.3 443.7 590 443.4 591.3C443 592.7 441.3 593.4 440.8 592.3C440.2 591.3 439.6 586.7 440 585.3ZM455.4 511C455.6 509.7 457.8 511 459.4 513C461.1 515 464.3 520.1 465.5 523.1C466.6 526.1 467 530.1 466.5 531.1C466 532.1 463.8 530.8 462.4 529.1C461.1 527.4 459.6 524.1 458.4 521.1C457.3 518.1 455.3 512.4 455.4 511ZM468.5 514C468.8 512.7 470.8 512.4 471.5 513.4C472.2 514.4 472.8 518.7 472.5 520.1C472.2 521.4 470.1 522.5 469.5 521.5C468.8 520.5 468.1 515.4 468.5 514ZM348 609.4C349.7 607.7 354.7 607.1 358 605.4C361.4 603.7 365.1 600.5 368.1 599.4C371.1 598.2 374.4 597.4 376.1 598.4C377.8 599.4 379.1 603.6 378.1 605.4C377.1 607.2 372.8 608.4 370.1 609.4C367.4 610.4 364.7 610.6 362 611.4C359.4 612.3 356.4 613.8 354 614.4C351.7 615.1 349 616.3 348 615.4C347 614.6 346.3 611.1 348 609.4ZM488.6 571.3C489.6 570.1 492.5 568.6 493.6 569.3C494.6 569.9 495 573.1 495 575.3C495 577.5 494.5 581.3 493.6 582.3C492.7 583.3 490.6 582.3 489.6 581.3C488.6 580.3 487.7 578 487.6 576.3C487.4 574.6 487.6 572.4 488.6 571.3ZM471.5 569.7C471.8 569 473.8 568.7 474.5 569.3C475.2 569.8 475.8 572.2 475.5 572.9C475.2 573.5 473.2 573.8 472.5 573.3C471.8 572.7 471.2 570.3 471.5 569.7ZM462.4 580.3C462.9 579.6 464.9 579.2 465.5 579.7C466.1 580.2 466.5 582.6 466.1 583.3C465.7 584 463.7 584.2 463.1 583.7C462.4 583.2 462 581 462.4 580.3ZM348 623.5C350.3 618 358.5 623.5 362 624.5C365.6 625.5 368.1 626.7 369.1 629.5C370.1 632.3 368.7 636.9 368.1 641.5C367.4 646.2 368.4 654.9 365.1 657.6C361.7 660.3 350.8 663.3 348 657.6C345.1 651.9 345.6 629 348 623.5ZM372.1 649.6C373.1 646.6 375.8 642.2 378.1 639.5C380.5 636.9 383.8 635 386.1 633.5C388.5 632 390.7 630.5 392.2 630.5C393.7 630.5 394.8 631.7 395.2 633.5C395.5 635.4 395 638.9 394.2 641.5C393.3 644.2 391.8 646.9 390.2 649.6C388.5 652.3 387.1 656.3 384.1 657.6C381.1 658.9 374.1 658.9 372.1 657.6C370.1 656.3 371.1 652.6 372.1 649.6ZM411.2 616.4C412.2 615.4 416.4 614.9 418.3 615C420.1 615.2 421.3 616.2 422.3 617.4C423.3 618.7 424.5 620.8 424.3 622.5C424.1 624.1 422.6 627 421.3 627.5C419.9 628 417.8 626.5 416.3 625.5C414.8 624.5 413.1 623 412.2 621.5C411.4 620 410.2 617.5 411.2 616.4ZM397.2 649.6C397.9 648.6 400.9 647.6 402.2 648C403.5 648.3 405.4 650.5 405.2 651.6C405.1 652.7 402.4 654.3 401.2 654.6C400 654.9 398.5 654.4 397.8 653.6C397.1 652.8 396.5 650.5 397.2 649.6ZM412.2 651.6C414.3 650.2 420.3 649.6 424.3 649.6C428.3 649.6 433.3 650.2 436.3 651.6C439.4 652.9 446.4 656.6 442.4 657.6C438.4 658.6 417.3 658.6 412.2 657.6C407.2 656.6 410.2 652.9 412.2 651.6ZM442.4 639.5C442.6 638.4 444.5 637.9 445.4 638.5C446.2 639.2 447.6 642.4 447.4 643.6C447.2 644.7 444.8 646.2 444 645.6C443.1 644.9 442.1 640.7 442.4 639.5ZM466.5 649.6C468.1 648.1 473.8 647.9 476.5 648.6C479.2 649.2 481.9 652.1 482.5 653.6C483.2 655.1 483.2 656.9 480.5 657.6C477.8 658.3 468.8 658.9 466.5 657.6C464.1 656.3 464.8 651.1 466.5 649.6ZM488.6 631.5C489.2 630.2 493.4 628.8 494.6 629.5C495.7 630.2 496.3 634.2 495.6 635.5C494.9 636.9 491.7 638.2 490.6 637.5C489.4 636.9 487.9 632.8 488.6 631.5ZM494.6 645.6C495 643.9 498.7 642.2 500 641.5C501.3 640.9 502.2 639.9 502.6 641.5C503 643.2 503.4 649.9 502.6 651.6C501.8 653.3 498.9 652.6 497.6 651.6C496.3 650.6 494.2 647.2 494.6 645.6ZM348 615.1C349.7 604.9 354.7 616.4 358 617.1C361.4 617.7 366.1 617.4 368.1 619.1C370.1 620.8 369.9 624.1 370.1 627.1C370.2 630.1 369.1 633.5 369.1 637.2C369.1 640.8 368.9 646.2 370.1 649.2C371.3 652.2 373.4 653.9 376.1 655.2C378.8 656.6 383.8 655.9 386.1 657.2C388.5 658.6 390.8 661.6 390.2 663.3C389.5 664.9 384.8 666.9 382.1 667.3C379.5 667.6 376.1 664.9 374.1 665.3C372.1 665.6 372.1 668 370.1 669.3C368.1 670.6 364.7 672 362 673.3C359.4 674.6 356.4 676.5 354 677.3C351.7 678.2 349 688.7 348 678.3C347 668 346.3 625.3 348 615.1ZM372.1 647.2C372.1 643.9 374.1 639.8 376.1 637.2C378.1 634.5 381.8 632.3 384.1 631.1C386.5 630 388.3 629.6 390.2 630.1C392 630.6 394.7 632 395.2 634.1C395.7 636.3 394 640.3 393.2 643.2C392.3 646 391 648.9 390.2 651.2C389.3 653.6 389.5 655.6 388.2 657.2C386.8 658.9 384.1 661.3 382.1 661.3C380.1 661.3 377.8 659.6 376.1 657.2C374.4 654.9 372.1 650.5 372.1 647.2ZM397.2 648.8C398 647.7 401.9 647.2 403.2 647.6C404.6 648 405.4 649.9 405.2 651.2C405.1 652.5 403.4 654.7 402.2 655.2C401 655.7 399 655.3 398.2 654.2C397.4 653.2 396.4 649.9 397.2 648.8ZM390.2 673.3C391.2 672.1 394.8 670.8 396.2 671.3C397.5 671.8 398.5 674.8 398.2 676.3C397.9 677.8 395.5 680 394.2 680.3C392.8 680.7 390.8 679.5 390.2 678.3C389.5 677.2 389.2 674.5 390.2 673.3ZM359 694.4C359.8 694 363.2 693.6 364.1 693.8C365 694 365.2 695.4 364.5 695.8C363.7 696.2 360.5 696.4 359.6 696.2C358.7 696 358.3 694.8 359 694.4ZM386.1 695.4C387.3 694.1 391.5 691.7 394.2 691.4C396.9 691 400.5 692 402.2 693.4C403.9 694.7 403.2 697.4 404.2 699.4C405.2 701.4 407.9 703.8 408.2 705.4C408.6 707.1 407.9 709.3 406.2 709.4C404.6 709.6 399.9 707.8 398.2 706.4C396.5 705.1 397.5 702.1 396.2 701.4C394.8 700.7 391.7 702.8 390.2 702.4C388.7 702.1 387.8 700.6 387.1 699.4C386.5 698.2 385 696.7 386.1 695.4ZM348 699.4C348.8 697.4 351.7 699.7 353 701.4C354.4 703.1 355.9 707.4 356 709.4C356.2 711.5 355.4 712.8 354 713.5C352.7 714.1 349 715.8 348 713.5C347 711.1 347.2 701.4 348 699.4ZM412.2 652.2C412.9 650.3 417.3 649.8 420.3 649.6C423.3 649.4 427 650.3 430.3 651.2C433.7 652.2 437 653.9 440.4 655.2C443.7 656.6 448.1 657.9 450.4 659.2C452.7 660.6 453.4 663.6 454.4 663.3C455.4 662.9 455.1 656.9 456.4 657.2C457.8 657.6 461.1 665.3 462.4 665.3C463.8 665.3 463.1 659.2 464.5 657.2C465.8 655.2 468.1 654.6 470.5 653.2C472.8 651.9 475.2 649.5 478.5 649.2C481.9 648.9 487 650.2 490.6 651.2C494.1 652.2 498 654.6 500 655.2C502 655.9 502.2 651.6 502.6 655.2C503 658.9 503.3 673 502.6 677.3C501.9 681.7 500.6 680 498.6 681.3C496.6 682.7 493.2 684 490.6 685.4C487.9 686.7 484.5 689.7 482.5 689.4C480.5 689 479.2 686 478.5 683.3C477.8 680.7 479.2 676.7 478.5 673.3C477.8 670 475.8 664.6 474.5 663.3C473.2 661.9 471.8 662.9 470.5 665.3C469.1 667.6 467.5 674 466.5 677.3C465.5 680.7 464.5 682.3 464.5 685.4C464.5 688.4 466.8 693.1 466.5 695.4C466.1 697.7 464.5 698.9 462.4 699.4C460.4 699.9 456.8 699.4 454.4 698.4C452.1 697.4 450.1 692.9 448.4 693.4C446.7 693.9 446.4 699.9 444.4 701.4C442.4 702.9 438.7 703.1 436.3 702.4C434 701.8 432 699.2 430.3 697.4C428.6 695.6 428 693.1 426.3 691.4C424.6 689.7 422.3 689.7 420.3 687.4C418.3 685 414.9 679.7 414.3 677.3C413.6 675 414.3 673.8 416.3 673.3C418.3 672.8 423 674 426.3 674.3C429.7 674.6 433.3 674.8 436.3 675.3C439.4 675.8 442.4 677.7 444.4 677.3C446.4 677 448.7 675 448.4 673.3C448.1 671.6 445.4 668.3 442.4 667.3C439.4 666.3 434 667.4 430.3 667.3C426.6 667.1 422.6 667.3 420.3 666.3C417.9 665.3 417.6 663.6 416.3 661.3C414.9 658.9 411.6 654.2 412.2 652.2ZM490.6 630.1C491.3 629.3 493.6 628.5 494.6 629.1C495.5 629.8 496.5 632.9 496.2 634.1C495.9 635.4 493.6 636.8 492.6 636.8C491.6 636.8 490.5 635.3 490.2 634.1C489.8 633 489.8 631 490.6 630.1ZM498 100.2L512 96.2L520.1 95.2L526.1 105.2L534.1 105.2L542.2 100.2L552.2 105.2L566.3 115.2L590.4 133.3L612.4 151.4L632.5 173.5L652.6 197.6L652.6 207.6L570.3 207.6L566.3 191.5L556.2 185.5L546.2 183.5L540.2 195.6L530.1 203.6L516.1 207.6L512 195.6L520.1 183.5L530.1 175.5L538.2 171.5L524.1 159.4L512 151.4L498 149.4ZM509 204C510.7 202.5 520.2 202.8 522.1 204C523.9 205.2 521.8 209.5 520.1 211C518.4 212.5 513.9 214.2 512 213C510.2 211.9 507.4 205.5 509 204ZM548.2 227.1C548.7 225.3 551.2 223.7 553.2 224.1C555.2 224.4 558.4 227.9 560.2 229.1C562.1 230.3 564.6 230.1 564.3 231.1C563.9 232.1 560.6 234.5 558.2 235.1C555.9 235.7 551.9 236.1 550.2 234.7C548.5 233.4 547.7 228.9 548.2 227.1ZM568.3 243.2C569.3 242.6 574 242.1 575.3 242.6C576.6 243 577.3 245.2 576.3 245.8C575.3 246.4 570.6 246.6 569.3 246.2C567.9 245.7 567.3 243.8 568.3 243.2ZM581.3 251.2C581.8 249.9 584 248.3 586.3 248.2C588.7 248 593.7 249 595.4 250.2C597.1 251.4 597.2 254 596.4 255.2C595.5 256.4 592.5 257.5 590.4 257.6C588.2 257.7 584.8 256.7 583.3 255.6C581.8 254.5 580.8 252.4 581.3 251.2ZM567.3 270.3C568.9 269.3 577.6 268.1 580.3 268.3C583 268.4 583.3 269.8 583.3 271.3C583.3 272.8 581.5 276.1 580.3 277.3C579.1 278.5 578 278.8 576.3 278.3C574.6 277.8 571.8 275.6 570.3 274.3C568.8 272.9 565.6 271.3 567.3 270.3ZM586.3 209L592.4 204L652.6 204L652.6 239.1L640.6 237.1L628.5 240.1L612.4 241.1L606.4 233.1L600.4 225.1L594.4 221.1L588.4 217ZM508.4 247.2C508.9 246.2 512.1 245.1 514.1 245.6C516 246.1 519.4 248.9 520.1 250.2C520.7 251.5 519.6 253 518.1 253.2C516.6 253.4 512.7 252.6 511 251.6C509.4 250.6 507.9 248.2 508.4 247.2ZM524.1 263.2C524.3 261.7 526.3 256.1 527.1 255.2C527.9 254.3 529.3 256.1 529.1 257.6C528.9 259.1 526.9 263.3 526.1 264.2C525.3 265.2 523.9 264.7 524.1 263.2ZM556.6 259.2C557.1 257.7 558.9 257.2 559.8 258.2C560.8 259.2 562.2 263.2 562.2 265.2C562.3 267.2 561.1 269.9 560.2 270.3C559.4 270.6 557.8 269.1 557.2 267.2C556.6 265.4 556.2 260.7 556.6 259.2ZM526.1 291.3C526.8 289 529.8 287 532.1 285.3C534.5 283.6 537.1 282.1 540.2 281.3C543.2 280.5 546.9 279.6 550.2 280.3C553.5 281 557.6 283.4 560.2 285.3C562.9 287.2 566.3 290.7 566.3 291.7C566.3 292.8 562.2 291.9 560.2 291.3C558.2 290.8 556.2 288.7 554.2 288.3C552.2 288 550.5 288.5 548.2 289.3C545.9 290.2 542.5 292 540.2 293.4C537.8 294.7 534.1 296.4 534.1 297.4C534.1 298.4 537.5 299.4 540.2 299.4C542.8 299.4 546.9 297.4 550.2 297.4C553.5 297.4 557.1 298.5 560.2 299.4C563.4 300.2 567.9 301.2 569.3 302.4C570.6 303.6 570.1 305.7 568.3 306.4C566.4 307.1 561.2 306.9 558.2 306.4C555.2 305.9 552.5 303.6 550.2 303.4C547.9 303.2 546.2 304.2 544.2 305.4C542.2 306.6 540 310.4 538.2 310.4C536.3 310.4 534.8 307.2 533.1 305.4C531.5 303.6 529.3 301.7 528.1 299.4C526.9 297 525.4 293.7 526.1 291.3ZM532.5 316.4C533 315.3 536.8 314.3 539.2 314.4C541.5 314.5 545.6 315.9 546.6 317C547.6 318.2 546.9 320.3 545.2 321.1C543.4 321.8 538.3 322.2 536.1 321.5C534 320.7 532 317.6 532.5 316.4ZM563.3 319.9C564.3 319.6 568.9 320.1 569.9 320.7C570.9 321.2 570.3 322.8 569.3 323.1C568.3 323.3 564.9 322.8 563.9 322.3C562.9 321.7 562.2 320.1 563.3 319.9ZM591.4 276.3C591.7 274.9 596.1 273.9 598.4 273.3C600.7 272.6 604.4 270.9 605.4 272.3C606.4 273.6 604.8 278.1 604.4 281.3C604.1 284.5 604.4 289.3 603.4 291.3C602.4 293.4 599.9 294 598.4 293.4C596.9 292.7 594.7 289.3 594.4 287.3C594 285.3 596.9 283.1 596.4 281.3C595.9 279.5 591 277.6 591.4 276.3ZM611.4 241.1C611.8 239.6 615.6 239.5 620.5 238.7C625.3 238 635.2 236.8 640.6 236.7C645.9 236.6 650.6 235.1 652.6 238.1C654.6 241.2 653.9 252.5 652.6 255.2C651.3 257.9 647.3 255 644.6 254.2C641.9 253.4 639.6 251 636.5 250.2C633.5 249.4 629.5 249.9 626.5 249.6C623.5 249.2 621 249.6 618.5 248.2C616 246.8 611.1 242.7 611.4 241.1ZM616.5 263.2C617.3 262.2 620.1 260.9 622.5 261.2C624.8 261.6 627.5 264.9 630.5 265.2C633.5 265.6 636.9 264.2 640.6 263.2C644.2 262.2 650.6 247.5 652.6 259.2C654.6 270.9 653.3 322.5 652.6 333.5C651.9 344.6 650.6 328.2 648.6 325.5C646.6 322.8 643.6 319.3 640.6 317.4C637.6 315.6 633.2 314.4 630.5 314.4C627.8 314.4 626.5 315.3 624.5 317.4C622.5 319.6 620.5 325.1 618.5 327.5C616.5 329.8 614.1 331.5 612.4 331.5C610.8 331.5 608.3 329.8 608.4 327.5C608.6 325.1 612.1 320.8 613.5 317.4C614.8 314.1 614.6 310.1 616.5 307.4C618.3 304.7 621.5 303.1 624.5 301.4C627.5 299.7 631.9 299 634.5 297.4C637.2 295.7 641.2 293.4 640.6 291.3C639.9 289.3 633 285.5 630.5 285.3C628 285.2 627.3 289.3 625.5 290.3C623.7 291.4 621.1 292.9 619.5 291.7C617.9 290.6 615.9 286.4 616.1 283.3C616.2 280.2 620.2 276 620.5 273.3C620.7 270.6 618.1 268.9 617.5 267.2C616.8 265.6 615.6 264.2 616.5 263.2ZM636.5 345.6C637.2 342.2 641.9 339.2 644.6 337.5C647.3 335.9 651.3 332.2 652.6 335.5C653.9 338.9 654.6 353.9 652.6 357.6C650.6 361.3 643.2 359.6 640.6 357.6C637.9 355.6 635.9 348.9 636.5 345.6ZM575.3 320.5C576 318.5 578.1 316.7 580.3 315.4C582.5 314.2 585.3 313.2 588.4 313C591.4 312.9 595.9 313.4 598.4 314.4C600.9 315.5 602.9 317.6 603.4 319.5C603.9 321.3 602.9 324 601.4 325.5C599.9 327 596.2 326.8 594.4 328.5C592.5 330.2 590.4 333 590.4 335.5C590.4 338 592 342.9 594.4 343.6C596.7 344.2 601.4 340.4 604.4 339.5C607.4 338.7 609.8 337.9 612.4 338.5C615.1 339.2 618.5 341.4 620.5 343.6C622.5 345.7 624.5 349.2 624.5 351.6C624.5 353.9 625.2 356.6 620.5 357.6C615.8 358.6 602.1 358.9 596.4 357.6C590.7 356.3 588.7 352.3 586.3 349.6C584 346.9 583.5 344.2 582.3 341.5C581.2 338.9 580.3 335.9 579.3 333.5C578.3 331.2 577 329.7 576.3 327.5C575.6 325.3 574.6 322.5 575.3 320.5ZM620.9 325.5C621.2 324.1 623.3 323.6 624.1 324.5C624.9 325.3 625.8 329.2 625.5 330.5C625.2 331.8 623.3 333.3 622.5 332.5C621.7 331.7 620.6 326.8 620.9 325.5ZM570.3 362C571 360.8 574.5 360.1 576.3 360.6C578.1 361.1 580.3 363.5 581.3 365C582.3 366.6 583 369 582.3 370.1C581.7 371.1 579 371.8 577.3 371.5C575.6 371.1 573.5 369.6 572.3 368.1C571.1 366.5 569.6 363.3 570.3 362ZM528.1 369.5C528.6 368.7 533.5 368.2 535.1 368.7C536.7 369.1 538.3 371.3 537.8 372.1C537.2 372.9 533.7 373.9 532.1 373.5C530.5 373 527.6 370.3 528.1 369.5ZM520.1 373.5C520.4 373.1 522.1 374.1 524.1 375.1C526.1 376 530.4 377.9 532.1 379.1C533.9 380.3 534.9 381.7 534.5 382.1C534.2 382.5 532.2 382.3 530.1 381.5C528 380.7 523.8 378.8 522.1 377.5C520.4 376.2 519.7 373.9 520.1 373.5ZM557.2 394.8C558.1 394.5 562.3 394.8 563.3 395.2C564.2 395.6 563.6 396.9 562.7 397.2C561.7 397.4 558.7 397.2 557.8 396.8C556.9 396.4 556.3 395 557.2 394.8ZM504 397.2C504.2 396.3 506.4 396.8 508 398.2C509.7 399.5 513.4 403.6 514.1 405.2C514.7 406.8 513.2 407.9 512 407.6C510.9 407.3 508.4 404.9 507 403.2C505.7 401.5 503.8 398 504 397.2ZM585.3 398.2C586.2 396.2 590 393.3 591.4 393.2C592.7 393 593.5 395.5 593.4 397.2C593.2 398.8 590.2 401 590.4 403.2C590.5 405.4 594.4 408.9 594.4 410.2C594.4 411.6 591.8 412.1 590.4 411.2C589 410.4 586.8 407.4 585.9 405.2C585.1 403 584.4 400.2 585.3 398.2ZM570.3 415.2C570.6 413.7 574 411.7 576.3 411.2C578.6 410.7 582.3 410.9 584.3 412.2C586.3 413.6 586.5 417.1 588.4 419.3C590.2 421.4 594.4 423.8 595.4 425.3C596.4 426.8 595.7 428.1 594.4 428.3C593 428.5 589.7 427 587.3 426.3C585 425.6 582.5 425.3 580.3 424.3C578.1 423.3 576 421.8 574.3 420.3C572.6 418.8 569.9 416.7 570.3 415.2ZM503.6 423.3C504.3 422.3 507.6 422.1 509 423.3C510.5 424.4 512.4 428.8 512.4 430.3C512.4 431.8 510.3 432.5 509 432.3C507.8 432.1 505.9 430.8 505 429.3C504.1 427.8 502.9 424.3 503.6 423.3ZM537.1 434.3C537.7 433.5 539.9 432.5 541.2 433.3C542.4 434.1 544.6 437.9 544.6 439.3C544.6 440.7 542.2 441.9 541.2 441.7C540.1 441.6 538.8 439.6 538.2 438.3C537.5 437.1 536.6 435.2 537.1 434.3ZM632.5 432.3C632.8 431.5 635.5 432.4 636.5 433.3C637.6 434.2 638.8 436.9 638.6 437.7C638.3 438.6 635.9 439.2 634.9 438.3C633.9 437.4 632.3 433.1 632.5 432.3ZM562.2 435.3C562.4 433.5 565.6 433.3 567.3 434.3C568.9 435.3 570.6 438.8 572.3 441.3C574 443.9 576 446.4 577.3 449.4C578.6 452.4 580.2 456.9 580.3 459.4C580.5 461.9 579.5 464.1 578.3 464.4C577.1 464.8 574.6 463.3 573.3 461.4C572 459.6 571.5 456.1 570.3 453.4C569.1 450.7 567.6 448.4 566.3 445.4C564.9 442.3 562.1 437.2 562.2 435.3ZM577.3 437.3C577.8 435.3 580.5 434.7 582.3 435.3C584.2 436 586 440 588.4 441.3C590.7 442.7 594.4 442 596.4 443.4C598.4 444.7 599.6 447.5 600.4 449.4C601.2 451.2 602.1 453.4 601.4 454.4C600.7 455.4 598.2 455.9 596.4 455.4C594.5 454.9 591.7 450.7 590.4 451.4C589 452.1 588 456.7 588.4 459.4C588.7 462.1 591.4 464.8 592.4 467.4C593.4 470.1 593.7 472.8 594.4 475.5C595 478.2 596.7 481.5 596.4 483.5C596.1 485.5 593.7 487.5 592.4 487.5C591 487.5 589.5 485.5 588.4 483.5C587.2 481.5 585.8 478.5 585.3 475.5C584.8 472.5 585.8 468.8 585.3 465.4C584.8 462.1 583.3 458.4 582.3 455.4C581.3 452.4 580.2 450.4 579.3 447.4C578.5 444.4 576.8 439.3 577.3 437.3ZM517.1 450.4C518 449 522.3 448.5 524.1 449.4C525.9 450.2 527.4 453.4 528.1 455.4C528.8 457.4 529.1 460.1 528.1 461.4C527.1 462.8 523.7 464.1 522.1 463.4C520.5 462.8 519.3 459.6 518.5 457.4C517.6 455.2 516.1 451.7 517.1 450.4ZM553.2 451.4C553.7 449.9 556.4 449.7 558.2 450.4C560.1 451.1 562.9 453.6 564.3 455.4C565.6 457.2 566.6 459.5 566.3 461.4C565.9 463.4 563.6 466.4 562.2 467C560.9 467.7 559.4 466.7 558.2 465.4C557.1 464.2 556.1 461.8 555.2 459.4C554.4 457.1 552.7 452.9 553.2 451.4ZM498 455.4C499.3 454.1 503.3 457.7 506 459.4C508.7 461.1 511.9 463.1 514.1 465.4C516.2 467.8 518.4 471.1 519.1 473.5C519.7 475.8 519.2 478.2 518.1 479.5C516.9 480.8 514.4 482.2 512 481.5C509.7 480.8 506.4 477.8 504 475.5C501.7 473.1 499 470.8 498 467.4C497 464.1 496.7 456.7 498 455.4ZM540.2 472.5C541 471 545.9 471 548.2 471.5C550.5 472 552.7 473.5 553.8 475.5C554.9 477.5 555.6 481.8 554.6 483.5C553.7 485.2 550.1 486 548.2 485.5C546.3 485 544.5 482.7 543.2 480.5C541.8 478.3 539.3 474 540.2 472.5ZM498 486.5C499 483.8 502.3 486.4 504 487.5C505.7 488.7 507.5 491.2 508 493.6C508.5 495.9 508 499.7 507 501.6C506 503.5 503.5 504.7 502 505C500.5 505.3 498.7 506.7 498 503.6C497.3 500.5 497 489.2 498 486.5ZM526.1 486.5C526.3 485.5 528.4 485.1 529.1 485.9C529.8 486.8 530.4 490.5 530.1 491.5C529.9 492.6 528.4 492.8 527.7 491.9C527 491.1 525.9 487.5 526.1 486.5ZM538.2 489.5C538.9 488.5 541.2 487.5 542.2 488.5C543.1 489.5 544.1 493.9 543.8 495.6C543.4 497.2 541.2 498.7 540.2 498.6C539.2 498.4 538.1 496.1 537.8 494.6C537.4 493.1 537.4 490.5 538.2 489.5ZM563.3 497.6C563.8 496.2 566.9 494.4 569.3 493.6C571.6 492.7 575.6 492 577.3 492.6C579 493.1 579.8 495.2 579.3 496.6C578.8 497.9 576.5 499.7 574.3 500.6C572.1 501.4 568.1 502.1 566.3 501.6C564.4 501.1 562.8 498.9 563.3 497.6ZM624.5 497.6C625.2 495.6 630.5 497.9 632.5 495.6C634.5 493.2 635.5 488.2 636.5 483.5C637.6 478.8 638.6 471.5 638.6 467.4C638.6 463.4 635.9 461.1 636.5 459.4C637.2 457.7 639.9 458.1 642.6 457.4C645.2 456.7 650.9 447 652.6 455.4C654.3 463.8 656.6 498.9 652.6 507.6C648.6 516.3 633.2 509.3 628.5 507.6C623.8 505.9 623.8 499.6 624.5 497.6ZM647.6 367C648.5 365.7 651.8 362.4 652.6 365C653.4 367.7 653.3 380.4 652.6 383.1C651.9 385.8 649.5 382.8 648.6 381.1C647.7 379.4 647.2 375.4 647 373.1C646.8 370.7 646.7 368.4 647.6 367ZM648.6 419.3C649.1 417.1 651.9 415.6 652.6 418.3C653.3 420.9 653.1 433.1 652.6 435.3C652.1 437.5 650.3 434 649.6 431.3C648.9 428.6 648.1 421.4 648.6 419.3ZM621.5 384.7C621.9 384.3 624 384.6 624.5 385.1C625 385.7 624.9 387.7 624.5 388.1C624.1 388.5 622.4 388.1 621.9 387.5C621.4 387 621.1 385.1 621.5 384.7ZM532.1 511C532.5 508.5 535.3 508 536.1 510C537 512 537.5 520.6 537.1 523.1C536.8 525.6 535 527.1 534.1 525.1C533.3 523.1 531.8 513.5 532.1 511ZM546.2 519.1C547.2 516.5 552.7 516 554.2 517C555.7 518.1 555.6 522.4 555.2 525.1C554.9 527.8 553.4 531.9 552.2 533.1C551 534.3 549.2 534.5 548.2 532.1C547.2 529.8 545.2 521.6 546.2 519.1ZM588.4 559.2C589 557.5 593.7 558.2 596.4 558.2C599.1 558.2 602.2 558 604.4 559.2C606.6 560.4 609.1 563.2 609.4 565.2C609.8 567.2 607.9 570.6 606.4 571.3C604.9 571.9 602.7 569.8 600.4 569.3C598.1 568.8 594.4 569.9 592.4 568.3C590.4 566.6 587.7 560.9 588.4 559.2ZM620.5 541.1C620.8 540.3 625.2 541.8 626.5 543.2C627.8 544.5 628.8 548.3 628.5 549.2C628.2 550 625.8 549.5 624.5 548.2C623.2 546.8 620.1 542 620.5 541.1ZM503 585.3C503.6 584.5 506.3 583.7 507 584.3C507.8 584.9 508.2 588.1 507.6 588.9C507.1 589.8 504.4 589.9 503.6 589.3C502.8 588.7 502.4 586.2 503 585.3ZM556.2 629.5C557.2 628.5 562.9 628.2 566.3 628.5C569.6 628.8 574 630 576.3 631.5C578.6 633 580.3 635.5 580.3 637.5C580.3 639.5 578.3 643.6 576.3 643.6C574.3 643.6 571 639 568.3 637.5C565.6 636 562.2 635.9 560.2 634.5C558.2 633.2 555.2 630.5 556.2 629.5ZM512 507C512.5 505.8 515 506.2 515.7 507.4C516.3 508.6 516.5 512.8 516.1 514C515.6 515.2 513.7 515.8 513.1 514.6C512.4 513.5 511.6 508.2 512 507ZM531.1 504C531.9 503.2 535.4 503.3 536.1 504C536.9 504.7 536.5 507.2 535.7 508C535 508.8 532.5 509.3 531.7 508.6C531 507.9 530.4 504.8 531.1 504ZM585.3 520.1C586.3 518.8 590.6 518.3 592.4 518.7C594.1 519 596 520.8 596 522.1C596 523.3 594 525.4 592.4 526.1C590.8 526.8 587.5 527.1 586.3 526.1C585.2 525.1 584.3 521.3 585.3 520.1ZM622.5 513C623.7 512 627.8 511 630.5 511C633.2 511 637.6 511.9 638.6 513C639.6 514.2 638.2 517.1 636.5 518.1C634.9 519 630.7 518.8 628.5 518.7C626.3 518.5 624.5 518 623.5 517C622.5 516.1 621.3 514 622.5 513ZM634.5 504C635.9 503.3 643.1 503.2 644.6 504C646.1 504.8 644.9 508.3 643.6 509C642.2 509.7 638.1 508.8 636.5 508C635 507.2 633.2 504.7 634.5 504ZM543.2 535.1C544.2 533.6 546.9 531.8 548.2 532.1C549.5 532.4 551 535 551.2 537.1C551.4 539.3 550 543 549.2 545.2C548.4 547.3 547.4 549.7 546.2 550.2C545 550.7 542.9 549.7 542.2 548.2C541.4 546.7 541.6 543.3 541.8 541.1C541.9 539 542.1 536.6 543.2 535.1ZM575.3 528.1C575.8 526.1 578.3 525.9 579.3 527.1C580.3 528.3 580.7 532.4 581.3 535.1C582 537.8 582.2 540.8 583.3 543.2C584.5 545.5 586.2 547.7 588.4 549.2C590.5 550.7 593.7 551.2 596.4 552.2C599.1 553.2 603.7 554 604.4 555.2C605.1 556.4 602.4 558.7 600.4 559.2C598.4 559.7 595 558.9 592.4 558.2C589.7 557.5 586.5 556.9 584.3 555.2C582.2 553.5 580.7 550.9 579.3 548.2C578 545.5 577 542.5 576.3 539.1C575.6 535.8 574.8 530.1 575.3 528.1ZM554.2 573.3C555.6 571.8 560.6 572.3 564.3 572.3C567.9 572.3 572.3 572.8 576.3 573.3C580.3 573.8 584.3 575.1 588.4 575.3C592.4 575.4 597.1 575.3 600.4 574.3C603.7 573.3 606.1 569.4 608.4 569.3C610.8 569.1 612.8 571.3 614.5 573.3C616.1 575.3 618.1 578.6 618.5 581.3C618.8 584 618.1 587.3 616.5 589.3C614.8 591.3 611.1 592.3 608.4 593.4C605.8 594.4 603.1 595 600.4 595.4C597.7 595.7 594.4 594.4 592.4 595.4C590.4 596.4 589.7 599.4 588.4 601.4C587 603.4 584.3 605.1 584.3 607.4C584.3 609.8 588 611.8 588.4 615.4C588.7 619.1 587.7 626.5 586.3 629.5C585 632.5 582.2 634.2 580.3 633.5C578.5 632.8 576.3 628.5 575.3 625.5C574.3 622.5 575.1 618.8 574.3 615.4C573.5 612.1 571.6 607.7 570.3 605.4C568.9 603.1 568.6 601.7 566.3 601.4C563.9 601.1 559.6 603.4 556.2 603.4C552.9 603.4 549.5 602.1 546.2 601.4C542.8 600.7 538.5 600.5 536.1 599.4C533.8 598.2 531.8 595.5 532.1 594.4C532.5 593.2 535.5 592.2 538.2 592.3C540.8 592.5 544.8 594.9 548.2 595.4C551.5 595.9 555.2 596 558.2 595.4C561.2 594.7 565.6 593 566.3 591.3C566.9 589.7 563.9 587 562.2 585.3C560.6 583.6 557.6 583.3 556.2 581.3C554.9 579.3 552.9 574.8 554.2 573.3ZM618.5 551.2C619.1 549.3 622.8 547.5 624.5 548.2C626.2 548.8 626.5 554 628.5 555.2C630.5 556.4 633.9 555.5 636.5 555.2C639.2 554.9 641.9 552.9 644.6 553.2C647.3 553.5 651.3 554.5 652.6 557.2C653.9 559.9 653.9 566.2 652.6 569.3C651.3 572.3 647.3 574.6 644.6 575.3C641.9 576 638.9 574.3 636.5 573.3C634.2 572.3 632.2 569.1 630.5 569.3C628.8 569.4 628 573.3 626.5 574.3C625 575.3 622.7 576.5 621.5 575.3C620.3 574.1 619.6 569.9 619.5 567.2C619.3 564.6 620.6 561.9 620.5 559.2C620.3 556.5 617.8 553 618.5 551.2ZM596.4 603.4C596.7 602.4 600.4 602.4 602.4 603.4C604.4 604.4 606.8 607.4 608.4 609.4C610.1 611.4 612.8 614.1 612.4 615.4C612.1 616.8 608.4 618.5 606.4 617.4C604.4 616.4 602.1 611.8 600.4 609.4C598.7 607.1 596.1 604.4 596.4 603.4ZM610.4 603.4C611.4 602.9 616.8 602.7 618.5 603C620.1 603.3 621.5 604.9 620.5 605.4C619.5 605.9 614.1 606.1 612.4 605.8C610.8 605.5 609.4 603.9 610.4 603.4ZM516.1 617.4C516.9 615.4 520.4 614.8 522.1 615.4C523.8 616.1 525.6 619.1 526.1 621.5C526.6 623.8 526.1 627.5 525.1 629.5C524.1 631.5 521.4 633.8 520.1 633.5C518.7 633.2 517.7 630.2 517.1 627.5C516.4 624.8 515.2 619.5 516.1 617.4ZM535.1 625.5C535.5 624.7 537.9 624.5 538.6 625.1C539.2 625.7 539.6 628.4 539.2 629.1C538.8 629.8 536.8 630.1 536.1 629.5C535.5 628.9 534.7 626.2 535.1 625.5ZM552.2 633.5C553.2 631.8 557.6 631.2 560.2 631.5C562.9 631.8 565.9 633.8 568.3 635.5C570.6 637.2 574 639.2 574.3 641.5C574.6 643.9 572 647.4 570.3 649.6C568.6 651.8 566.3 654.6 564.3 654.6C562.2 654.6 559.9 651.8 558.2 649.6C556.6 647.4 555.2 644.2 554.2 641.5C553.2 638.9 551.2 635.2 552.2 633.5ZM498 633.5C499 631.8 502.8 634.2 504 635.5C505.2 636.9 505.7 639.9 505 641.5C504.4 643.2 501.2 644.9 500 645.6C498.8 646.2 498.3 647.6 498 645.6C497.7 643.6 497 635.2 498 633.5ZM528.1 643.6C528.3 641.5 530.3 641.5 531.1 642.6C532 643.6 531.6 648.2 533.1 649.6C534.6 650.9 537 650.1 540.2 650.6C543.3 651.1 549.2 651.9 552.2 652.6C555.2 653.3 560.2 654.2 558.2 655C556.2 655.8 544.8 657.7 540.2 657.6C535.5 657.5 532.1 656.9 530.1 654.6C528.1 652.3 527.9 645.6 528.1 643.6ZM530.1 644.2C530.8 644.2 532.5 647.4 534.1 649.2C535.8 651 538.5 652.9 540.2 655.2C541.8 657.6 543.8 661.3 544.2 663.3C544.5 665.3 543.2 667.6 542.2 667.3C541.2 666.9 539.5 663.3 538.2 661.3C536.8 659.2 535.5 657.2 534.1 655.2C532.8 653.2 530.8 651 530.1 649.2C529.5 647.4 529.5 644.2 530.1 644.2ZM498 657.2C499.7 652.6 504.4 658.6 508 659.2C511.7 659.9 516.4 660.6 520.1 661.3C523.8 661.9 528.8 661.3 530.1 663.3C531.5 665.3 529.8 670.3 528.1 673.3C526.4 676.3 523.1 679.3 520.1 681.3C517.1 683.3 513.7 684.3 510 685.4C506.4 686.4 500 692 498 687.4C496 682.7 496.3 661.9 498 657.2ZM550.2 650.2C551 649.5 554.7 650.4 556.2 651.2C557.7 652.1 559.6 654.2 559.2 655.2C558.9 656.2 555.6 657.2 554.2 657.2C552.9 657.2 551.9 656.4 551.2 655.2C550.5 654.1 549.4 650.9 550.2 650.2ZM650.2 203L654.2 205L666.3 227.1L676.3 247.2L686.3 271.3L694.4 295.4L660.2 265.2L650.2 251.2L640.2 239.1ZM612 243.2L640.2 241.1L660.2 249.2L684.3 273.3L694.4 295.4L704.4 345.6L706.4 357.6L636.1 357.6L640.2 345.6L648.2 335.5L640.2 325.5L624.1 333.5L616.1 325.5L608 329.5L612 317.4L620.1 309.4L616.1 297.4L620.1 289.3L616.1 281.3L618.1 265.2L612 255.2ZM691.4 373.1C693 369.7 703.7 364.2 706.4 369.1C709.1 373.9 708.6 396.8 707.4 402.2C706.3 407.5 701.2 403.4 699.4 401.2C697.6 399 698.1 393.8 696.8 389.1C695.4 384.5 689.8 376.4 691.4 373.1ZM667.3 495.6C668.3 493.7 670.1 492.9 671.3 493.6C672.5 494.2 674.5 497.6 674.3 499.6C674.1 501.6 671.8 504.8 670.3 505.6C668.8 506.4 665.8 506.3 665.3 504.6C664.8 502.9 666.3 497.4 667.3 495.6ZM648.2 367C649.2 364.4 650.9 364.4 654.2 363C657.6 361.7 663.9 359.9 668.3 359C672.6 358.2 677 357.3 680.3 358C683.7 358.7 686.3 360.9 688.4 363C690.4 365.2 692.4 369.1 692.4 371.1C692.4 373.1 690.4 374.7 688.4 375.1C686.3 375.4 682.7 372.7 680.3 373.1C678 373.4 674.3 375.7 674.3 377.1C674.3 378.4 678 380.3 680.3 381.1C682.7 381.9 685.7 381.4 688.4 382.1C691 382.8 695.4 383.6 696.4 385.1C697.4 386.6 696.1 389.8 694.4 391.1C692.7 392.5 688.7 393.5 686.3 393.2C684 392.8 682 388.8 680.3 389.1C678.6 389.5 677.3 393.7 676.3 395.2C675.3 396.7 676 398.5 674.3 398.2C672.6 397.8 668.6 394.8 666.3 393.2C663.9 391.5 662.2 389.5 660.2 388.1C658.2 386.8 656.2 386.6 654.2 385.1C652.2 383.6 649.2 382.1 648.2 379.1C647.2 376.1 647.2 369.7 648.2 367ZM688.4 353C690.4 352 703.4 351.3 706.4 353C709.4 354.7 708.4 362 706.4 363C704.4 364 697.4 360.7 694.4 359C691.4 357.3 686.3 354 688.4 353ZM690.4 403.2C690.7 401.4 694 400.2 696.4 400.2C698.7 400.2 703.2 400 704.4 403.2C705.6 406.4 704.3 417.2 703.4 419.3C702.6 421.3 700.9 416.6 699.4 415.2C697.9 413.9 695.9 413.2 694.4 411.2C692.9 409.2 690 405 690.4 403.2ZM673.3 412.2C673 411.2 676.5 410.7 678.3 411.2C680.2 411.7 682.3 413.9 684.3 415.2C686.3 416.6 688.4 417.9 690.4 419.3C692.4 420.6 695 421.3 696.4 423.3C697.7 425.3 698.2 428 698.4 431.3C698.6 434.7 698.4 440.7 697.4 443.4C696.4 446 694.5 447 692.4 447.4C690.2 447.7 687 446.4 684.3 445.4C681.7 444.4 678.6 443 676.3 441.3C674 439.7 672 437 670.3 435.3C668.6 433.6 665.9 432.6 666.3 431.3C666.6 430 669.9 428.3 672.3 427.3C674.6 426.3 678 426.3 680.3 425.3C682.7 424.3 686.3 422.6 686.3 421.3C686.3 419.9 682.5 418.8 680.3 417.2C678.1 415.7 673.6 413.2 673.3 412.2ZM647.2 419.3C647.9 417.1 650.4 417.2 652.2 418.3C654 419.3 656.2 423.3 658.2 425.3C660.2 427.3 662.2 428.6 664.3 430.3C666.3 432 668.3 433.5 670.3 435.3C672.3 437.2 674 439.7 676.3 441.3C678.6 443 681.7 444.4 684.3 445.4C687 446.4 690.7 445.7 692.4 447.4C694 449 694.2 452.1 694.4 455.4C694.5 458.7 694.4 465.1 693.4 467.4C692.4 469.8 690.5 470.1 688.4 469.5C686.2 468.8 683.3 465.8 680.3 463.4C677.3 461.1 673.6 456.6 670.3 455.4C666.9 454.2 663.3 455.7 660.2 456.4C657.2 457.1 654.6 458.6 652.2 459.4C649.9 460.3 648.2 460.1 646.2 461.4C644.2 462.8 641 465.1 640.2 467.4C639.3 469.8 640.2 472.8 641.2 475.5C642.2 478.2 643.7 482.2 646.2 483.5C648.7 484.9 652.9 484.2 656.2 483.5C659.6 482.8 663.3 480 666.3 479.5C669.3 479 674 479.5 674.3 480.5C674.6 481.5 670.6 484.4 668.3 485.5C665.9 486.7 662.6 486.2 660.2 487.5C657.9 488.9 656.6 491.9 654.2 493.6C651.9 495.2 648.9 496.6 646.2 497.6C643.5 498.6 640.5 498.3 638.2 499.6C635.8 500.8 634.5 504.7 632.1 505C629.8 505.3 624.4 503.2 624.1 501.6C623.8 500 627.8 497.2 630.1 495.6C632.5 493.9 636.5 493.6 638.2 491.5C639.8 489.5 640.5 486.2 640.2 483.5C639.8 480.8 636.6 478.8 636.1 475.5C635.6 472.1 636.5 466.8 637.1 463.4C637.8 460.1 639 457.7 640.2 455.4C641.3 453.1 644.2 451.1 644.2 449.4C644.2 447.7 639.8 447 640.2 445.4C640.5 443.7 644.8 441.7 646.2 439.3C647.5 437 648 434.7 648.2 431.3C648.4 428 646.5 421.4 647.2 419.3ZM632.1 432.3C632.3 431.3 635.1 432 636.1 432.9C637.2 433.8 638.7 436.7 638.6 437.7C638.4 438.7 636.2 439.8 635.1 438.9C634.1 438 632 433.3 632.1 432.3ZM621.1 458.4C621.5 458 623.3 458 623.7 458.4C624.1 458.8 624.1 460.6 623.7 461C623.3 461.5 621.7 461.5 621.3 461C620.9 460.6 620.7 458.8 621.1 458.4ZM655.2 525.1C655.9 523.9 658.4 523.7 660.2 524.1C662.1 524.4 664.6 525.9 666.3 527.1C667.9 528.3 670.3 529.1 670.3 531.1C670.3 533.1 667.9 538.1 666.3 539.1C664.6 540.1 661.9 538.5 660.2 537.1C658.6 535.8 657.1 533.1 656.2 531.1C655.4 529.1 654.6 526.3 655.2 525.1ZM665.3 504C665.6 503 668.3 504 669.3 505C670.3 506 671.6 509 671.3 510C671 511 668.3 512 667.3 511C666.3 510 664.9 505 665.3 504ZM620.1 542.1C620.4 541.1 623.9 542.1 625.1 543.2C626.3 544.2 627.4 547.2 627.1 548.2C626.8 549.2 624.3 550.2 623.1 549.2C621.9 548.2 619.7 543.2 620.1 542.1ZM622.1 513C622.8 511.7 627.4 510.9 630.1 511C632.8 511.2 637.3 512.9 638.2 514C639 515.2 637.1 517.2 635.1 518.1C633.1 518.9 628.3 519.9 626.1 519.1C623.9 518.2 621.4 514.4 622.1 513ZM630.1 504C631.6 503.2 640.3 503.3 642.2 504C644 504.7 642.7 507.2 641.2 508C639.7 508.8 635 509.7 633.1 509C631.3 508.3 628.6 504.8 630.1 504ZM621.1 571.3C620.1 569.3 619.9 566.2 620.1 563.2C620.2 560.2 621.1 555.5 622.1 553.2C623.1 550.9 624.4 548.8 626.1 549.2C627.8 549.5 630.1 553.9 632.1 555.2C634.1 556.5 635.8 556.5 638.2 557.2C640.5 557.9 643.5 558.2 646.2 559.2C648.9 560.2 654.2 560.9 654.2 563.2C654.2 565.6 648.9 570.3 646.2 573.3C643.5 576.3 640.8 581 638.2 581.3C635.5 581.6 632.1 576.3 630.1 575.3C628.1 574.3 627.6 576 626.1 575.3C624.6 574.6 622.1 573.3 621.1 571.3ZM598 571.3C599.7 567.2 605 568.6 608 569.3C611 569.9 614.2 572.6 616.1 575.3C617.9 578 619.4 582.6 619.1 585.3C618.7 588 616.2 590 614.1 591.3C611.9 592.7 608.7 593 606 593.4C603.3 593.7 599.3 597 598 593.4C596.7 589.7 596.3 575.3 598 571.3ZM598 605.4C599 604.4 602 606.1 604 607.4C606 608.7 608.7 611.9 610 613.4C611.4 614.9 612.7 615.8 612 616.4C611.4 617.1 608.4 618 606 617.4C603.7 616.9 599.3 615.4 598 613.4C596.7 611.4 597 606.4 598 605.4ZM611 603.4C612.2 602.9 617.6 602.7 619.1 603C620.6 603.3 621.3 604.9 620.1 605.4C618.9 605.9 613.6 606.1 612 605.8C610.5 605.5 609.9 603.9 611 603.4Z"/>
<path fill="none" stroke-width="2.1" d="M213.5 209.3L212.1 220M368.8 141L375.4 136.2"/>
<path fill="none" stroke-width="2.7" d="M303.2 119.6L297.8 131.7"/>
<path fill="none" stroke-width="2.8" d="M493.6 128.3L489.6 134.9M426.3 137.7L418.3 143.8M545.2 266.2C544.5 267.6 542.7 272.3 541.2 274.3C539.7 276.3 537 277.6 536.1 278.3"/>
<path fill="none" stroke-width="2" d="M401.2 142.3L397.8 146.4"/>
<path fill="none" stroke-width="2.4" d="M374.5 136.3L370.5 141.3"/>
<path fill="none" stroke-width="1.6" d="M395.8 165L391.8 169.9"/>
</g>
<g id="s0" stroke-linecap="round" stroke-linejoin="round">
<path stroke="none" d="M124.3 181.5C125 178.2 131.3 171.1 134.3 169.5C137.3 167.8 140.4 170.1 142.4 171.5C144.4 172.8 146.7 175.1 146.4 177.5C146.1 179.8 143 183.5 140.4 185.5C137.7 187.5 133 190.2 130.3 189.5C127.6 188.9 123.6 184.9 124.3 181.5ZM152.4 167.4C153.7 165.1 158.8 161.3 162.4 159.4C166.1 157.6 169.8 156.7 174.5 156.4C179.2 156.1 187.2 156.2 190.6 157.4C193.9 158.6 194.6 161.1 194.6 163.4C194.6 165.8 193.2 169.8 190.6 171.5C187.9 173.1 181.9 172.5 178.5 173.5C175.2 174.5 173.2 177.2 170.5 177.5C167.8 177.8 165.1 176.2 162.4 175.5C159.8 174.8 156.1 174.8 154.4 173.5C152.7 172.1 151.1 169.8 152.4 167.4ZM144.4 197.6C145.7 195.2 152.1 193.2 154.4 193.6C156.8 193.9 158.4 197.2 158.4 199.6C158.4 201.9 156.4 206.3 154.4 207.6C152.4 208.9 148.1 209.3 146.4 207.6C144.7 205.9 143 199.9 144.4 197.6ZM196.6 113.2C197.3 111.9 201.6 110.2 202.6 111.2C203.6 112.2 203.3 117.9 202.6 119.3C201.9 120.6 199.6 120.3 198.6 119.3C197.6 118.3 195.9 114.6 196.6 113.2ZM102.6 225.1C102.3 223.7 106.3 222.1 110.2 221.1C114.2 220.1 121.6 219.1 126.3 219.1C131 219 135.3 219.7 138.4 220.7C141.4 221.7 144 223.5 144.4 225.1C144.7 226.7 143.4 229.2 140.4 230.1C137.3 231 131 230.6 126.3 230.5C121.6 230.4 116.2 230.4 112.2 229.5C108.3 228.6 102.9 226.5 102.6 225.1ZM88.2 246.2C89.5 244.8 94.5 243.1 98.2 242.8C101.9 242.4 107.1 243 110.2 244.4C113.4 245.8 117.3 249.5 117.3 251.2C117.3 252.8 113.4 253.9 110.2 254.2C107.1 254.5 101.5 253.4 98.2 252.8C94.8 252.2 91.8 251.9 90.2 250.8C88.5 249.7 86.8 247.5 88.2 246.2ZM121.3 248.2C122 245.2 125.5 243.1 128.3 241.5C131.2 240 135.3 238.1 138.4 238.7C141.4 239.3 143.4 242.8 146.4 245.2C149.4 247.6 153.4 250.9 156.4 253.2C159.4 255.5 164.1 257.1 164.5 258.8C164.8 260.6 161.4 262.9 158.4 263.6C155.4 264.4 150.4 263.2 146.4 263.2C142.4 263.2 138 264.3 134.3 263.6C130.7 263 126.5 261.8 124.3 259.2C122.1 256.6 120.6 251.1 121.3 248.2ZM178.5 248.2C179.5 246.3 182.9 245.1 186.5 244.6C190.2 244.1 198.3 243 200.6 245.2C202.9 247.3 202.6 255.6 200.6 257.6C198.6 259.6 191.9 257.5 188.6 257.2C185.2 256.9 182.2 257.1 180.5 255.6C178.8 254.1 177.5 250 178.5 248.2ZM174.5 204C177.8 202 196.3 200.7 200.6 204C205 207.2 202.3 220.6 200.6 223.5C198.9 226.4 193.9 222.7 190.6 221.5C187.2 220.2 183.2 219 180.5 216C177.8 213.1 171.2 206 174.5 204ZM77.1 265.2C77.8 262.6 81 258.2 84.1 256.6C87.3 255 93 254.5 96.2 255.6C99.4 256.7 102.4 260.5 103.2 263.2C104 266 103.4 270.4 101.2 272.3C99 274.1 93.7 274.3 90.2 274.3C86.6 274.3 82.3 273.8 80.1 272.3C77.9 270.8 76.4 267.9 77.1 265.2ZM80.1 289.3C80.8 288.1 85.8 286.3 90.2 284.9C94.5 283.5 101.2 282 106.2 280.9C111.2 279.8 115.6 279.5 120.3 278.5C125 277.5 131.4 275.1 134.3 274.7C137.3 274.2 138.6 275.1 138 275.7C137.3 276.3 133.9 277.4 130.3 278.3C126.7 279.2 121.3 280 116.3 281.3C111.2 282.6 105.2 284.5 100.2 286.3C95.2 288.2 89.5 291.8 86.1 292.3C82.8 292.9 79.5 290.6 80.1 289.3ZM65.1 287.3C66.6 285.8 71.1 284.6 73.1 284.9C75.1 285.3 77.4 287.7 77.1 289.3C76.8 291 73.3 294.1 71.1 295C68.9 295.8 65.1 295.6 64.1 294.4C63.1 293.1 63.6 288.9 65.1 287.3ZM72.1 451.4C72.8 450 76.8 448.7 78.1 449.4C79.5 450 80.8 454.1 80.1 455.4C79.5 456.7 75.4 458.1 74.1 457.4C72.8 456.7 71.4 452.7 72.1 451.4ZM90.2 455.4C90.5 453.9 96.2 452.7 98.2 453.4C100.2 454.1 102.5 457.9 102.2 459.4C101.9 460.9 98.2 463.1 96.2 462.4C94.2 461.8 89.8 456.9 90.2 455.4ZM70.1 435.3C70.7 434.3 74.8 433.6 76.1 434.3C77.4 435 78.8 438.3 78.1 439.3C77.4 440.3 73.4 441 72.1 440.3C70.7 439.7 69.4 436.3 70.1 435.3ZM86.1 439.3C86.6 438.3 89.3 437.7 90.2 438.3C91 439 91.7 442.3 91.2 443.4C90.7 444.4 88 445 87.1 444.4C86.3 443.7 85.6 440.3 86.1 439.3ZM245.2 548.2C246.4 546.3 250.2 544.7 252.2 545.2C254.2 545.7 256.6 549 257.2 551.2C257.9 553.4 257.4 556.7 256.2 558.2C255.1 559.7 252 560.6 250.2 560.2C248.4 559.9 246 558.2 245.2 556.2C244.3 554.2 244 550 245.2 548.2ZM222.1 665.3C222.8 667.3 227.1 668 230.1 669.3C233.1 670.6 236.8 672 240.2 673.3C243.5 674.6 247.9 677 250.2 677.3C252.5 677.7 253.9 676.3 254.2 675.3C254.6 674.3 254.2 672.6 252.2 671.3C250.2 670 245.5 669.3 242.2 667.3C238.8 665.3 234.8 660.9 232.1 659.2C229.5 657.6 227.8 656.2 226.1 657.2C224.4 658.2 221.4 663.3 222.1 665.3ZM432.3 691.4C432.3 689.2 436.3 685.4 438.4 683.3C440.4 681.3 442.7 679.3 444.4 679.3C446.1 679.3 448.4 681.3 448.4 683.3C448.4 685.4 446.1 689.2 444.4 691.4C442.7 693.6 440.4 696.4 438.4 696.4C436.3 696.4 432.3 693.6 432.3 691.4ZM470.5 663.3C471.2 660.6 474.8 660.3 476.5 661.3C478.2 662.3 480.2 665.9 480.5 669.3C480.9 672.6 479.9 680 478.5 681.3C477.2 682.7 473.8 680.3 472.5 677.3C471.2 674.3 469.8 665.9 470.5 663.3ZM528.1 123.3C529.8 121.6 536.1 121.3 540.2 121.3C544.2 121.3 549.5 121.6 552.2 123.3C554.9 124.9 556.9 129.3 556.2 131.3C555.6 133.3 551.5 134.7 548.2 135.3C544.8 136 539.2 136 536.1 135.3C533.1 134.7 531.5 133.3 530.1 131.3C528.8 129.3 526.4 124.9 528.1 123.3ZM558.2 123.3C559.9 120.6 566.3 123.3 568.3 125.3C570.3 127.3 570.6 132.3 570.3 135.3C569.9 138.3 568.3 142.3 566.3 143.4C564.3 144.4 559.6 144.7 558.2 141.3C556.9 138 556.6 126 558.2 123.3ZM498 111.2C499.7 107.5 504.4 108.5 508 109.2C511.7 109.9 517.4 112.9 520.1 115.2C522.8 117.6 524.4 119.9 524.1 123.3C523.8 126.6 520.7 133.6 518.1 135.3C515.4 137 511.4 134 508 133.3C504.7 132.6 499.7 135 498 131.3C496.3 127.6 496.3 114.9 498 111.2ZM526.1 146.4C526.8 143.9 531.8 143.5 534.1 144.4C536.5 145.2 538.5 148.2 540.2 151.4C541.8 154.6 544.8 160.8 544.2 163.4C543.5 166.1 538.5 168.1 536.1 167.4C533.8 166.8 531.8 162.9 530.1 159.4C528.4 155.9 525.4 148.9 526.1 146.4ZM554.2 159.4C555.6 157.7 562.9 156.7 566.3 157.4C569.6 158.1 574 161.4 574.3 163.4C574.6 165.4 571 168.8 568.3 169.5C565.6 170.1 560.6 169.1 558.2 167.4C555.9 165.8 552.9 161.1 554.2 159.4ZM576.3 133.3C578 131.6 583.7 133.6 586.3 135.3C589 137 592.7 141 592.4 143.4C592 145.7 587 149 584.3 149.4C581.7 149.7 577.6 148 576.3 145.4C575 142.7 574.6 135 576.3 133.3ZM574.3 155.4C575.6 153.6 580.7 154.4 584.3 154.4C588 154.4 593.7 153.9 596.4 155.4C599.1 156.9 601.4 161.4 600.4 163.4C599.4 165.4 593.7 166.1 590.4 167.4C587 168.8 582.7 171.8 580.3 171.5C578 171.1 577.3 168.1 576.3 165.4C575.3 162.8 573 157.2 574.3 155.4ZM504 163.4C506.7 161.8 512.7 160.8 516.1 161.4C519.4 162.1 523.4 165.1 524.1 167.4C524.8 169.8 522.1 172.8 520.1 175.5C518.1 178.2 514.4 182.8 512 183.5C509.7 184.2 508 181.5 506 179.5C504 177.5 500.3 174.1 500 171.5C499.7 168.8 501.3 165.1 504 163.4ZM550.2 175.5C552.9 174.5 561.9 175.8 566.3 177.5C570.6 179.2 576 183.2 576.3 185.5C576.6 187.9 571.3 191.2 568.3 191.5C565.3 191.9 561.2 188.9 558.2 187.5C555.2 186.2 551.5 185.5 550.2 183.5C548.9 181.5 547.5 176.5 550.2 175.5ZM540.2 183.5C542.5 182.2 549.5 183.5 552.2 185.5C554.9 187.5 557.2 193.6 556.2 195.6C555.2 197.6 549.2 197.9 546.2 197.6C543.2 197.2 539.2 195.9 538.2 193.6C537.1 191.2 537.8 184.9 540.2 183.5ZM584.3 179.5C585.3 176.5 591.7 174.8 594.4 175.5C597.1 176.2 600.1 180.8 600.4 183.5C600.7 186.2 598.4 189.9 596.4 191.5C594.4 193.2 590.4 195.6 588.4 193.6C586.3 191.5 583.3 182.5 584.3 179.5ZM618.5 179.5C619.6 178.5 625.3 179.5 626.5 180.5C627.7 181.5 626.7 184.5 625.5 185.5C624.3 186.5 620.6 187.5 619.5 186.5C618.3 185.5 617.3 180.5 618.5 179.5ZM612.4 191.5C614.5 189.9 621.8 188.2 624.5 189.5C627.2 190.9 629.2 197.2 628.5 199.6C627.8 201.9 623.2 203.6 620.5 203.6C617.8 203.6 613.8 201.6 612.4 199.6C611.1 197.6 610.4 193.2 612.4 191.5ZM596.4 209C597.4 207.8 602.9 207 604.4 208C605.9 209 606.4 213.9 605.4 215C604.4 216.2 599.9 216 598.4 215C596.9 214 595.4 210.2 596.4 209ZM608.4 221.1C610.1 220.2 616.8 221.4 620.5 222.1C624.2 222.7 629.2 223.6 630.5 225.1C631.9 226.6 630.5 230.3 628.5 231.1C626.5 231.9 621.5 230.8 618.5 230.1C615.5 229.4 612.1 228.6 610.4 227.1C608.8 225.6 606.8 221.9 608.4 221.1ZM622.5 209C623.5 208 628.8 208.7 630.5 210C632.2 211.4 633.5 216 632.5 217C631.5 218.1 626.2 217.4 624.5 216C622.8 214.7 621.5 210 622.5 209ZM612.4 211C613.6 209.7 619 209 620.5 210C622 211 622.7 215.7 621.5 217C620.3 218.4 615 219.1 613.5 218.1C611.9 217 611.3 212.4 612.4 211ZM631.5 271.3C631.9 270.3 635.4 269.8 636.5 270.3C637.7 270.8 638.9 273.3 638.6 274.3C638.2 275.3 635.7 276.8 634.5 276.3C633.4 275.8 631.2 272.3 631.5 271.3ZM543.2 477.5C544 476.2 547.8 475.8 549.2 476.5C550.6 477.2 552 479.8 551.8 481.5C551.6 483.2 549.5 486 548.2 486.5C546.9 487 545 486 544.2 484.5C543.3 483 542.3 478.8 543.2 477.5ZM660.2 250.2C660.9 249.5 664.3 251 666.3 253.2C668.3 255.4 672 261.6 672.3 263.2C672.6 264.9 669.9 264.2 668.3 263.2C666.6 262.2 663.6 259.4 662.2 257.2C660.9 255 659.6 250.9 660.2 250.2ZM680.3 274.3C680.8 272.3 684 271.4 685.3 273.3C686.7 275.1 688.9 283.3 688.4 285.3C687.9 287.3 683.7 287.2 682.3 285.3C681 283.5 679.8 276.3 680.3 274.3ZM620.1 247.2C622.8 246 634.8 246.8 640.2 248.2C645.5 249.5 649.5 253.4 652.2 255.2C654.9 257 657.6 258.2 656.2 259.2C654.9 260.2 647.5 261.6 644.2 261.2C640.8 260.9 639.5 258.2 636.1 257.2C632.8 256.2 626.8 256.9 624.1 255.2C621.4 253.5 617.4 248.3 620.1 247.2ZM650.2 272.3C651.2 271.3 655.6 271.6 660.2 271.7C664.9 271.8 675 271.3 678.3 272.9C681.7 274.5 680.7 278.9 680.3 281.3C680 283.7 678.6 286 676.3 287.3C674 288.7 669.3 289.7 666.3 289.3C663.3 289 660.2 287.3 658.2 285.3C656.2 283.3 655.6 279.5 654.2 277.3C652.9 275.1 649.2 273.2 650.2 272.3ZM630.1 281.3C631.8 279.6 637.8 278.3 640.2 279.3C642.5 280.3 644.5 285 644.2 287.3C643.8 289.7 640.5 293 638.2 293.4C635.8 293.7 631.5 291.3 630.1 289.3C628.8 287.3 628.4 283 630.1 281.3ZM656.2 303.8C658.6 303.5 664.3 305.4 668.3 305.4C672.3 305.4 676.3 304.1 680.3 303.8C684.3 303.5 689.7 301.5 692.4 303.8C695 306.1 696.1 313.8 696.4 317.4C696.7 321.1 696.4 323.5 694.4 325.5C692.4 327.5 687.3 329.8 684.3 329.5C681.3 329.2 679 325.5 676.3 323.5C673.6 321.5 671 319.1 668.3 317.4C665.6 315.8 662.6 315.1 660.2 313.4C657.9 311.8 654.9 309 654.2 307.4C653.5 305.8 653.9 304.1 656.2 303.8ZM624.1 313.4C626.4 312.1 631.5 310.8 636.1 311.4C640.8 312.1 648.2 315.4 652.2 317.4C656.2 319.5 658.2 321.5 660.2 323.5C662.2 325.5 664.9 327.8 664.3 329.5C663.6 331.2 658.9 333.5 656.2 333.5C653.5 333.5 650.9 331.2 648.2 329.5C645.5 327.8 643.2 324.8 640.2 323.5C637.1 322.1 633.1 322.1 630.1 321.5C627.1 320.8 623.1 320.8 622.1 319.5C621.1 318.1 621.8 314.8 624.1 313.4ZM606 255.2C607.7 252.2 612.4 254.9 614.1 257.2C615.7 259.6 616.1 264.6 616.1 269.3C616.1 273.9 615.4 282 614.1 285.3C612.7 288.7 609.7 291 608 289.3C606.4 287.7 604.4 281 604 275.3C603.7 269.6 604.4 258.2 606 255.2ZM680.3 337.5C681 335.5 685.7 333.8 688.4 333.5C691 333.2 694.4 333.5 696.4 335.5C698.4 337.5 701.1 343.2 700.4 345.6C699.7 347.9 695 349.6 692.4 349.6C689.7 349.6 686.3 347.6 684.3 345.6C682.3 343.6 679.7 339.5 680.3 337.5ZM628.1 337.5C629.1 335.5 633.8 334.9 636.1 335.5C638.5 336.2 641.8 339.2 642.2 341.5C642.5 343.9 640.2 348.6 638.2 349.6C636.1 350.6 631.8 349.6 630.1 347.6C628.4 345.6 627.1 339.5 628.1 337.5ZM676.3 443.4C677.3 442 681.7 441.2 684.3 441.3C687 441.5 690.7 443 692.4 444.4C694 445.7 695.4 448.2 694.4 449.4C693.4 450.5 689 451.4 686.3 451.4C683.7 451.4 680 450.7 678.3 449.4C676.6 448 675.3 444.7 676.3 443.4ZM550.3 106.8C552.6 105.9 557.5 107.2 561 109.5C564.6 111.7 568.2 117 571.7 120.2C575.3 123.3 578.9 125.3 582.4 128.2C586 131.1 592.3 135.3 593.2 137.6C594.1 139.8 590.5 142.2 587.8 141.6C585.1 140.9 580.7 136.2 577.1 133.5C573.5 130.9 570 127.7 566.4 125.5C562.8 123.3 558.8 121.9 555.7 120.2C552.6 118.4 548.5 117 547.6 114.8C546.8 112.6 548.1 107.7 550.3 106.8ZM558.4 141.6C560.1 140.2 567.7 145.1 571.7 146.9C575.8 148.7 579.8 150.1 582.4 152.3C585.1 154.5 587.8 158.1 587.8 160.3C587.8 162.6 585.1 165.7 582.4 165.7C579.8 165.7 575.3 162.1 571.7 160.3C568.2 158.5 563.3 158.1 561 155C558.8 151.8 556.6 142.9 558.4 141.6ZM523.5 112.1C525.1 110.1 531.6 107.2 534.3 108.1C536.9 109 539.2 114.6 539.6 117.5C540.1 120.4 538.7 123.7 536.9 125.5C535.1 127.3 530.9 129.1 528.9 128.2C526.9 127.3 525.8 122.8 524.9 120.2C524 117.5 522 114.1 523.5 112.1ZM531.6 146.9C532.9 144.3 539.8 142.9 542.3 144.3C544.7 145.6 546.3 151.4 546.3 155C546.3 158.5 544.3 164.8 542.3 165.7C540.3 166.6 536 163.4 534.3 160.3C532.5 157.2 530.2 149.6 531.6 146.9ZM571.7 168.4C573.5 167 581.1 170.1 585.1 171C589.1 171.9 593.2 171.9 595.8 173.7C598.5 175.5 601.2 179.5 601.2 181.7C601.2 184 598.5 186.6 595.8 187.1C593.2 187.5 588.7 185.8 585.1 184.4C581.6 183.1 576.6 181.7 574.4 179.1C572.2 176.4 570 169.7 571.7 168.4ZM550.3 171C551.7 169.2 558.4 171.9 561 173.7C563.7 175.5 565.9 179.1 566.4 181.7C566.8 184.4 565.9 189.3 563.7 189.8C561.5 190.2 555.2 187.5 553 184.4C550.8 181.3 549 172.8 550.3 171ZM590.5 192.4C591.4 190.2 599.9 189.3 603.9 189.8C607.9 190.2 611.9 192.4 614.6 195.1C617.3 197.8 620.4 203.6 619.9 205.8C619.5 208.1 615.5 209 611.9 208.5C608.3 208.1 602.1 205.8 598.5 203.2C594.9 200.5 589.6 194.7 590.5 192.4ZM614.6 181.7C615.5 179.5 620.4 182.6 622.6 184.4C624.8 186.2 627.5 189.8 628 192.4C628.4 195.1 627.1 199.6 625.3 200.5C623.5 201.4 619 200.9 617.3 197.8C615.5 194.7 613.7 184 614.6 181.7ZM582.4 208.5C584.2 207.6 591.4 209.4 595.8 211.2C600.3 213 606.1 216.1 609.2 219.2C612.3 222.3 615.5 228.1 614.6 229.9C613.7 231.7 607.4 231.3 603.9 229.9C600.3 228.6 596.3 224.1 593.2 221.9C590 219.7 586.9 218.8 585.1 216.5C583.3 214.3 580.7 209.4 582.4 208.5ZM630.6 205.8C632 204.5 638.7 206.7 641.4 208.5C644 210.3 646.7 214.3 646.7 216.5C646.7 218.8 643.6 221.9 641.4 221.9C639.1 221.9 635.1 219.2 633.3 216.5C631.5 213.9 629.3 207.2 630.6 205.8ZM619.9 168.4C621 166.8 626 164.8 628 165.7C630 166.6 632.2 171.5 632 173.7C631.8 175.9 628.4 178.8 626.6 179.1C624.8 179.3 622.4 176.8 621.3 175C620.2 173.3 618.8 169.9 619.9 168.4Z"/>
</g>
<g id="s2" stroke-linecap="round" stroke-linejoin="round">
<path stroke="none" d="M150.4 149.4C150.7 147.7 155.1 146 158.4 143.4C161.8 140.7 166.5 136.7 170.5 133.3C174.5 130 179.2 126 182.5 123.3C185.9 120.6 188.2 117.6 190.6 117.2C192.9 116.9 194.6 120.6 196.6 121.3C198.6 121.9 201.6 115.6 202.6 121.3C203.6 127 204.6 150.4 202.6 155.4C200.6 160.4 194.6 152.1 190.6 151.4C186.5 150.7 182.5 151.1 178.5 151.4C174.5 151.7 170.1 153.1 166.5 153.4C162.8 153.7 159.1 154.1 156.4 153.4C153.7 152.7 150.1 151.1 150.4 149.4ZM166.5 182.5C167.5 181.7 172.8 180.3 174.5 180.5C176.2 180.7 177.5 182.7 176.5 183.5C175.5 184.4 170.1 185.7 168.5 185.5C166.8 185.4 165.5 183.3 166.5 182.5ZM102.2 205C103.5 203 107.6 197.5 110.2 195.6C112.9 193.7 114.9 194.2 118.3 193.6C121.6 192.9 127 191.2 130.3 191.5C133.7 191.9 137.3 193.6 138.4 195.6C139.4 197.6 137.7 201.6 136.3 203.6C135 205.6 136 206.9 130.3 207.6C124.6 208.3 106.9 208 102.2 207.6C97.5 207.2 100.9 207 102.2 205ZM116.3 203C109.1 205 116.9 211.7 119.3 215C121.6 218.4 126.1 220.4 130.3 223.1C134.5 225.7 140.4 228.4 144.4 231.1C148.4 233.8 151.4 238.5 154.4 239.1C157.4 239.8 161.3 237.8 162.4 235.1C163.6 232.4 162.1 226.8 161.4 223.1C160.8 219.4 158.3 216.4 158.4 213C158.6 209.7 169.5 204.7 162.4 203C155.4 201.3 123.5 201 116.3 203ZM163.5 230.1C165.1 227.5 170.6 225.9 174.5 225.5C178.3 225 184.8 225.5 186.5 227.5C188.3 229.4 186.3 234.2 184.9 237.1C183.6 240.1 180.9 243.1 178.5 245.2C176.1 247.2 172.8 250.2 170.5 249.6C168.2 248.9 166 244.4 164.9 241.1C163.7 237.9 161.8 232.7 163.5 230.1ZM85.1 228.1C87.7 225.1 94.6 223.4 97.2 224.1C99.8 224.7 100.9 229.6 100.6 232.1C100.3 234.6 97.2 237 95.2 239.1C93.2 241.3 90.7 244.7 88.6 245.2C86.4 245.7 82.7 245 82.1 242.1C81.6 239.3 82.6 231.1 85.1 228.1ZM151.4 268.9C152.2 266.8 157.3 266.5 159.4 267.2C161.6 268 163.3 270.9 164.5 273.3C165.6 275.6 167.1 279.6 166.5 281.3C165.8 283 162.4 284 160.4 283.7C158.4 283.4 155.9 281.8 154.4 279.3C152.9 276.8 150.6 270.9 151.4 268.9ZM148.4 305.4C148.9 303.9 152.6 304.9 154.4 306.4C156.3 307.9 157.8 311.8 159.4 314.4C161.1 317.1 164 320.5 164.5 322.5C165 324.5 163.8 326.3 162.4 326.5C161.1 326.7 158.3 325.3 156.4 323.5C154.6 321.6 152.7 318.5 151.4 315.4C150.1 312.4 147.9 306.9 148.4 305.4ZM64.1 299.4C64.7 297.8 71.8 298.3 76.1 299C80.5 299.6 85.7 301.7 90.2 303.4C94.6 305.1 99.9 307.6 102.6 309.4C105.3 311.3 107.3 313.6 106.2 314.4C105.2 315.3 99.9 314.9 96.2 314.4C92.5 313.9 88.2 312.4 84.1 311.4C80.1 310.4 75.4 310.4 72.1 308.4C68.7 306.4 63.4 301 64.1 299.4ZM100.2 334.5C100.9 333.7 105.7 334.5 108.2 336.5C110.7 338.5 114.9 344.7 115.3 346.6C115.6 348.5 112.1 348.8 110.2 348C108.3 347.1 105.5 343.8 103.8 341.5C102.1 339.3 99.5 335.4 100.2 334.5ZM50 331.5C52.3 330.5 60.4 331.8 64.1 332.5C67.7 333.2 72.1 334.7 72.1 335.5C72.1 336.4 67.7 337 64.1 337.5C60.4 338 52.3 339.5 50 338.5C47.7 337.5 47.7 332.5 50 331.5ZM48 391.1C49.7 387.5 55 388.5 58 389.1C61 389.8 63.7 393.5 66.1 395.2C68.4 396.8 70.1 397.5 72.1 399.2C74.1 400.9 76.8 402.5 78.1 405.2C79.5 407.9 79.5 411.9 80.1 415.2C80.8 418.6 82.5 423.3 82.1 425.3C81.8 427.3 79.5 428.3 78.1 427.3C76.8 426.3 75.4 421.9 74.1 419.3C72.8 416.6 71.8 412.2 70.1 411.2C68.4 410.2 66.1 412.6 64.1 413.2C62 413.9 59.7 415.6 58 415.2C56.4 414.9 55.7 411.9 54 411.2C52.3 410.6 49 414.6 48 411.2C47 407.9 46.3 394.8 48 391.1ZM62 415.2C62.9 414.9 68.4 417.9 70.1 421.3C71.8 424.6 72.4 430.6 72.1 435.3C71.8 440 69.4 447.4 68.1 449.4C66.7 451.4 64.4 449.7 64.1 447.4C63.7 445 65.9 439.3 66.1 435.3C66.2 431.3 65.7 426.6 65.1 423.3C64.4 419.9 61.2 415.6 62 415.2ZM70.1 443.4C71.4 442 77.8 440.7 80.1 441.3C82.5 442 82.5 446 84.1 447.4C85.8 448.7 88.2 449.4 90.2 449.4C92.2 449.4 94.5 449 96.2 447.4C97.9 445.7 100.2 441.3 100.2 439.3C100.2 437.3 96.2 436.3 96.2 435.3C96.2 434.3 98.5 432.6 100.2 433.3C101.9 434 105.9 436.7 106.2 439.3C106.6 442 104.2 446.7 102.2 449.4C100.2 452.1 96.9 454.7 94.2 455.4C91.5 456.1 88.8 454.1 86.1 453.4C83.5 452.7 80.5 452.1 78.1 451.4C75.8 450.7 73.4 450.7 72.1 449.4C70.7 448 68.7 444.7 70.1 443.4ZM108.2 437.3C109.2 436 113.9 434.7 116.3 435.3C118.6 436 121.6 439 122.3 441.3C123 443.7 121.6 448.4 120.3 449.4C118.9 450.4 115.9 448.4 114.3 447.4C112.6 446.4 111.2 445 110.2 443.4C109.2 441.7 107.2 438.7 108.2 437.3ZM133.3 453.4C134 451.9 137.5 450 140.4 450.4C143.2 450.7 147.4 453.2 150.4 455.4C153.4 457.6 155.8 461.4 158.4 463.4C161.1 465.4 163.8 465.8 166.5 467.4C169.1 469.1 173.8 472 174.5 473.5C175.2 475 172.5 476.5 170.5 476.5C168.5 476.5 165.1 474.6 162.4 473.5C159.8 472.3 157.4 471 154.4 469.5C151.4 468 147.4 466.1 144.4 464.4C141.4 462.8 138.2 461.3 136.3 459.4C134.5 457.6 132.7 454.9 133.3 453.4ZM80.1 475.5C82.1 472.8 86.8 469.1 90.2 467.4C93.5 465.8 97.9 464.1 100.2 465.4C102.5 466.8 104.2 472.1 104.2 475.5C104.2 478.8 102.5 482.8 100.2 485.5C97.9 488.2 92.5 489.2 90.2 491.5C87.8 493.9 86.1 496.9 86.1 499.6C86.1 502.3 92.2 506.3 90.2 507.6C88.2 508.9 76.1 509.6 74.1 507.6C72.1 505.6 77.4 499.6 78.1 495.6C78.8 491.5 77.8 486.9 78.1 483.5C78.4 480.2 78.1 478.2 80.1 475.5ZM84.1 426.3C84.8 424.5 87.8 423.9 90.2 423.3C92.5 422.6 95.5 421.9 98.2 422.3C100.9 422.6 105.2 423.8 106.2 425.3C107.2 426.8 106.2 429.8 104.2 431.3C102.2 432.8 97.2 433.9 94.2 434.3C91.2 434.7 87.8 435.1 86.1 433.7C84.5 432.4 83.5 428 84.1 426.3ZM56 461.4C56.4 459.6 60.7 459.1 62 460.4C63.4 461.8 64.4 467.6 64.1 469.5C63.7 471.3 61.4 472.8 60 471.5C58.7 470.1 55.7 463.3 56 461.4ZM106.2 369.1C107.4 367.9 112.2 367 114.3 368.1C116.3 369.1 118.6 373.6 118.3 375.1C117.9 376.6 114.1 377.1 112.2 377.1C110.4 377.1 108.2 376.4 107.2 375.1C106.2 373.7 105.1 370.2 106.2 369.1ZM128.3 389.1C129.3 387.6 134 387.1 136.3 388.1C138.7 389.1 142 393.5 142.4 395.2C142.7 396.8 140.4 397.8 138.4 398.2C136.3 398.5 132 398.7 130.3 397.2C128.6 395.7 127.3 390.6 128.3 389.1ZM150.4 381.1C151.7 380.1 156.8 379.1 158.4 380.1C160.1 381.1 161.1 385.6 160.4 387.1C159.8 388.6 156.1 389.3 154.4 389.1C152.7 389 151.1 387.5 150.4 386.1C149.7 384.8 149.1 382.1 150.4 381.1ZM163.5 369.1C164.8 367 170.6 364.4 172.5 365C174.3 365.7 173.5 370.4 174.5 373.1C175.5 375.7 179.2 379.6 178.5 381.1C177.8 382.6 172.8 382.8 170.5 382.1C168.1 381.4 165.6 379.3 164.5 377.1C163.3 374.9 162.1 371.1 163.5 369.1ZM163.3 618.3C163.6 615 167.5 611.9 170 611.7C172.5 611.4 177.2 613.6 178.3 616.7C179.4 619.7 178.3 627.5 176.7 630C175 632.5 170.6 633.6 168.3 631.7C166.1 629.7 163.1 621.7 163.3 618.3ZM233.3 646.7C235.6 644.4 243.9 641.1 246.7 643.3C249.4 645.6 251.1 656.7 250 660C248.9 663.3 242.8 663.9 240 663.3C237.2 662.8 234.4 659.4 233.3 656.7C232.2 653.9 231.1 648.9 233.3 646.7ZM95 538.3C95.4 536.8 97.7 535.6 98.3 536.7C98.9 537.8 99.1 543.4 98.7 545C98.2 546.6 96.3 547.1 95.7 546C95.1 544.9 94.6 539.9 95 538.3ZM230.1 94.2C230.8 92.7 236.5 89.3 240.2 87.1C243.8 85 248.9 82.6 252.2 81.1C255.6 79.6 258.6 78.1 260.2 78.1C261.9 78.1 263.3 79.9 262.2 81.1C261.2 82.3 256.9 83.6 254.2 85.1C251.5 86.6 249.2 88.3 246.2 90.1C243.2 92 238.8 95.5 236.1 96.2C233.5 96.8 229.5 95.7 230.1 94.2ZM270.3 113.2C270.1 111.2 271.8 106.2 273.3 103.2C274.8 100.2 277.5 97.5 279.3 95.2C281.2 92.8 283.2 91.5 284.3 89.1C285.5 86.8 285 82.6 286.3 81.1C287.7 79.6 291 79.4 292.4 80.1C293.7 80.8 295 83.4 294.4 85.1C293.7 86.8 290 87.8 288.4 90.1C286.7 92.5 285.7 96 284.3 99.2C283 102.4 282 106.5 280.3 109.2C278.6 111.9 276 114.6 274.3 115.2C272.6 115.9 270.4 115.2 270.3 113.2ZM340.6 63C341.1 61 348 61.4 350 61C352 60.7 352.2 58.7 352.6 61C353 63.4 353.6 73.1 352.6 75.1C351.6 77.1 348.6 75.1 346.6 73.1C344.6 71.1 340 65 340.6 63ZM180 127.6C181.8 123.4 186.7 124.5 190.7 125C194.7 125.4 199.6 128.1 204.1 130.3C208.6 132.6 213 135.2 217.5 138.4C221.9 141.5 226.9 146.8 230.9 149.1C234.9 151.3 238 151.1 241.6 151.7C245.1 152.4 249.6 152.2 252.3 153.1C255 154 257.2 154.6 257.6 157.1C258.1 159.5 256.3 164.9 255 167.8C253.6 170.7 252.3 173.2 249.6 174.5C246.9 175.8 242.5 176.1 238.9 175.8C235.3 175.6 230.9 174.9 228.2 173.2C225.5 171.4 225.5 167.8 222.8 165.1C220.2 162.4 215.7 159.3 212.1 157.1C208.6 154.9 205 153.1 201.4 151.7C197.8 150.4 194.3 149.3 190.7 149.1C187.1 148.8 181.8 154 180 150.4C178.2 146.8 178.2 131.9 180 127.6ZM241.6 198.6C242.5 197 246.4 195.5 248.3 195.9C250.1 196.4 252.6 199.4 252.8 201.3C253 203.2 251.3 206.8 249.6 207.4C248 208.1 244.3 206.8 242.9 205.3C241.6 203.8 240.7 200.2 241.6 198.6ZM324.6 210.6C325.1 209.2 328.4 208.4 329.9 209.3C331.5 210.2 333.7 214 333.9 216C334.2 218 332.5 221 331.3 221.4C330.1 221.7 327.8 219.9 326.7 218.1C325.6 216.4 324 212.1 324.6 210.6ZM359.9 96.9C360.5 95.6 363.7 95.2 364.7 96.1C365.8 96.9 366.6 101 366.1 102.2C365.5 103.5 362.6 104.4 361.5 103.5C360.5 102.7 359.4 98.1 359.9 96.9ZM224.5 252.2C225 251 227.2 249.9 228.1 250.8C229 251.6 230.3 255.3 230.1 257.2C230 259.1 227.9 262.1 227.1 262.2C226.3 262.4 225.5 259.9 225.1 258.2C224.7 256.5 224 253.4 224.5 252.2ZM323.5 212C324 210.7 327 209.4 328.5 210C330 210.7 332.2 214.2 332.5 216C332.9 217.9 331.7 220.7 330.5 221.1C329.4 221.4 326.7 219.6 325.5 218.1C324.3 216.5 323 213.4 323.5 212ZM213.7 278.3C214.3 277.1 216.9 275.6 218.1 276.3C219.2 277 220.5 280.6 220.5 282.3C220.5 284 219.1 286.2 218.1 286.3C217.1 286.5 215.2 284.7 214.5 283.3C213.7 282 213.1 279.5 213.7 278.3ZM226.1 527.1C227.9 525.4 231.8 525.4 234.1 525.1C236.5 524.7 239 524.2 240.2 525.1C241.3 525.9 241.5 528.8 241.2 530.1C240.8 531.4 240 532.4 238.2 533.1C236.3 533.8 232.1 533.1 230.1 534.1C228.1 535.1 227.8 537.3 226.1 539.1C224.4 541 221.3 544.8 220.1 545.2C218.9 545.5 218.6 542.8 219.1 541.1C219.6 539.5 221.9 537.5 223.1 535.1C224.3 532.8 224.3 528.8 226.1 527.1ZM260.2 577.3C260.9 576.3 264.9 575.1 266.3 575.3C267.6 575.4 268.9 577.3 268.3 578.3C267.6 579.3 263.6 581.5 262.2 581.3C260.9 581.1 259.6 578.3 260.2 577.3ZM198 575.3C199 574.1 203.2 573.4 204 574.3C204.9 575.1 204 579.1 203 580.3C202 581.5 198.8 582.1 198 581.3C197.2 580.5 197 576.5 198 575.3ZM227.1 609.4C227.6 608.7 230.4 608.5 231.1 609C231.9 609.5 232.2 611.8 231.7 612.4C231.2 613.1 228.9 613.5 228.1 613C227.3 612.5 226.6 610.1 227.1 609.4ZM312.4 637.5C314.8 634.4 316.6 631.2 318.5 629.5C320.3 627.8 322.3 626.8 323.5 627.5C324.7 628.2 325.7 630.8 325.5 633.5C325.3 636.2 324.3 640.5 322.5 643.6C320.6 646.6 317.1 649.6 314.5 651.6C311.8 653.6 308.8 655 306.4 655.6C304.1 656.2 300.7 656.2 300.4 655C300.1 653.8 302.4 651.5 304.4 648.6C306.4 645.7 310.1 640.7 312.4 637.5ZM234.1 655C235.1 653 237.8 647.8 240.2 645.6C242.5 643.3 245.9 641.9 248.2 641.5C250.5 641.2 253.9 642.2 254.2 643.6C254.6 644.9 251.5 647.2 250.2 649.6C248.9 651.9 248.9 656.3 246.2 657.6C243.5 658.9 236.1 658 234.1 657.6C232.1 657.2 233.1 657 234.1 655ZM340.6 645.6C341.6 642.2 344.6 639.5 346.6 637.5C348.6 635.5 351.6 630.2 352.6 633.5C353.6 636.9 354.6 653.6 352.6 657.6C350.6 661.6 342.6 659.6 340.6 657.6C338.6 655.6 339.6 648.9 340.6 645.6ZM230.1 657.2C230.5 654.6 232.5 649.9 234.1 647.2C235.8 644.5 237.5 642.7 240.2 641.2C242.8 639.7 247.2 638.5 250.2 638.2C253.2 637.8 257.2 638 258.2 639.2C259.2 640.3 257.2 643.2 256.2 645.2C255.2 647.2 253 648.9 252.2 651.2C251.4 653.6 251.5 656.6 251.2 659.2C250.9 661.9 251.7 665.4 250.2 667.3C248.7 669.1 244.5 670.3 242.2 670.3C239.8 670.3 237.8 668.5 236.1 667.3C234.5 666.1 233.1 664.9 232.1 663.3C231.1 661.6 229.8 659.9 230.1 657.2ZM214.1 666.3C214.4 665.3 218.6 664.1 220.1 664.3C221.6 664.4 223.4 666.3 223.1 667.3C222.8 668.3 219.6 670.5 218.1 670.3C216.6 670.1 213.7 667.3 214.1 666.3ZM300.4 653.2C300.7 651.2 304.4 647.9 306.4 645.2C308.4 642.5 310.8 639.8 312.4 637.2C314.1 634.5 314.8 630.8 316.5 629.1C318.1 627.5 321 626.1 322.5 627.1C324 628.1 325 632.1 325.5 635.2C326 638.2 326.3 642.5 325.5 645.2C324.7 647.9 322.7 649.5 320.5 651.2C318.3 652.9 315.1 654.2 312.4 655.2C309.8 656.2 306.4 657.6 304.4 657.2C302.4 656.9 300.1 655.2 300.4 653.2ZM270.3 670.3C270.6 669.5 273.4 669.2 274.3 669.7C275.2 670.2 276.2 672.5 275.9 673.3C275.6 674.1 273.2 674.8 272.3 674.3C271.4 673.8 269.9 671.1 270.3 670.3ZM325.5 677.3C325.5 673.3 326.7 670.6 328.5 667.3C330.4 663.9 333.9 659.9 336.5 657.2C339.2 654.6 341.9 652.9 344.6 651.2C347.3 649.5 351.3 642.2 352.6 647.2C353.9 652.2 353.9 675.3 352.6 681.3C351.3 687.4 346.9 682.3 344.6 683.3C342.2 684.3 339.9 685.7 338.6 687.4C337.2 689 338.2 692.7 336.5 693.4C334.9 694.1 330.4 694.1 328.5 691.4C326.7 688.7 325.5 681.3 325.5 677.3ZM359.6 97.2C360.1 96.2 362 95.5 363.1 96.2C364.1 96.8 365.9 99.8 366.1 101.2C366.2 102.5 365 104 364.1 104.2C363.1 104.4 361.2 103.4 360.4 102.2C359.7 101 359.2 98.2 359.6 97.2ZM407.2 168.5C407.6 167.9 409.3 167.6 409.8 168.1C410.3 168.5 410.6 170.5 410.2 171.1C409.9 171.6 408.3 171.9 407.8 171.5C407.3 171 406.9 169 407.2 168.5ZM452.4 288.3C453.4 287.3 457.8 285.3 459.4 285.3C461 285.3 462.2 287.3 462 288.3C461.9 289.4 459.9 291.2 458.4 291.7C457 292.3 454.4 292.3 453.4 291.7C452.4 291.2 451.4 289.4 452.4 288.3ZM483.5 255.2C484 253.9 487.4 251.8 488.6 251.6C489.7 251.4 490.7 252.9 490.2 254.2C489.7 255.5 486.6 259.5 485.5 259.6C484.4 259.8 483 256.5 483.5 255.2ZM446.4 621.5C446.7 619.6 451.7 620.5 454.4 620.5C457.1 620.5 460.1 621.6 462.4 621.5C464.8 621.3 467 619.1 468.5 619.5C470 619.8 471.3 621.5 471.5 623.5C471.7 625.5 470.6 629.2 469.5 631.5C468.3 633.8 466.6 636.4 464.5 637.5C462.3 638.7 458.4 639.5 456.4 638.5C454.4 637.5 454.1 634.4 452.4 631.5C450.7 628.7 446.1 623.3 446.4 621.5ZM348 625.5C349.7 620.1 355.5 624.5 358 625.5C360.5 626.5 362 628.2 363.1 631.5C364.1 634.9 364.2 641.2 364.1 645.6C363.9 649.9 364.7 655.6 362 657.6C359.4 659.6 350.3 663 348 657.6C345.6 652.3 346.3 630.8 348 625.5ZM376.1 645.6C377.3 643.4 379.8 640.9 382.1 639.5C384.5 638.2 388.7 636.9 390.2 637.5C391.7 638.2 391.8 641.5 391.2 643.6C390.5 645.6 388 647.9 386.1 649.6C384.3 651.3 382 653.1 380.1 653.6C378.3 654.1 375.8 653.9 375.1 652.6C374.4 651.3 374.9 647.7 376.1 645.6ZM490.6 573.3C490.9 571.9 492.5 571.3 493 572.3C493.5 573.3 493.9 578 493.6 579.3C493.2 580.6 491.5 581.3 491 580.3C490.5 579.3 490.2 574.6 490.6 573.3ZM414.3 652.6C416.3 651.6 423 651.3 426.3 651.6C429.7 651.9 433.7 653.6 434.3 654.6C435 655.6 433.7 657.1 430.3 657.6C427 658.1 416.9 658.4 414.3 657.6C411.6 656.8 412.2 653.6 414.3 652.6ZM348 625.1C349.7 619.6 355.4 624.8 358 626.1C360.7 627.5 363.1 630 364.1 633.1C365.1 636.3 364.7 641.5 364.1 645.2C363.4 648.9 361.7 652.9 360 655.2C358.4 657.6 356 658.6 354 659.2C352 659.9 349 664.9 348 659.2C347 653.6 346.3 630.6 348 625.1ZM377.1 642.2C377.6 640.4 380.3 638.7 382.1 638.2C384 637.7 387 638 388.2 639.2C389.3 640.3 389.8 643.5 389.2 645.2C388.5 646.9 385.8 648.6 384.1 649.2C382.5 649.8 380.3 650 379.1 648.8C377.9 647.6 376.6 644 377.1 642.2ZM417.3 654.2C417.8 652.7 421.5 652.2 424.3 652.2C427.1 652.2 431.7 653.2 434.3 654.2C437 655.2 440 656.7 440.4 658.2C440.7 659.8 438.4 662.3 436.3 663.3C434.3 664.3 430.8 664.6 428.3 664.3C425.8 663.9 423.1 662.9 421.3 661.3C419.4 659.6 416.8 655.7 417.3 654.2ZM452.4 681.3C453.3 679.5 456.4 677.3 458.4 677.3C460.4 677.3 463.8 679.3 464.5 681.3C465.1 683.3 463.6 687.4 462.4 689.4C461.3 691.4 459 693.6 457.4 693.4C455.8 693.2 453.6 690.4 452.8 688.4C452 686.4 451.5 683.2 452.4 681.3ZM461.4 666.3C462.3 663.8 465 659.2 466.5 657.2C468 655.2 469.5 654.2 470.5 654.2C471.4 654.2 472.4 655.4 472.1 657.2C471.8 659.1 469.7 662.6 468.5 665.3C467.2 668 465.6 672.1 464.5 673.3C463.3 674.5 461.9 673.5 461.4 672.3C460.9 671.1 460.6 668.8 461.4 666.3ZM426.3 679.3C426.8 678.7 429.5 678.4 430.3 678.9C431.2 679.4 431.8 681.7 431.3 682.3C430.8 683 428.1 683.4 427.3 682.9C426.5 682.4 425.8 680 426.3 679.3ZM498 103.2C499.3 101.9 503.7 101.4 506 101.2C508.4 101 511.4 101.2 512 102.2C512.7 103.2 511.7 105.9 510 107.2C508.4 108.5 504 109.9 502 110.2C500 110.6 498.7 110.4 498 109.2C497.3 108 496.7 104.5 498 103.2ZM539.2 117.2C539.7 116.2 543 115.6 544.2 116.2C545.3 116.9 546.7 120.3 546.2 121.3C545.7 122.3 542.3 122.9 541.2 122.3C540 121.6 538.7 118.3 539.2 117.2ZM543.2 137.3C544 135.5 547 133.3 548.2 134.3C549.4 135.3 550 139.8 550.2 143.4C550.4 146.9 548.5 151.9 549.2 155.4C549.9 158.9 553.7 162.1 554.2 164.4C554.7 166.8 553.5 169 552.2 169.5C550.9 170 547.5 169.8 546.2 167.4C544.8 165.1 544.7 159.1 544.2 155.4C543.7 151.7 543.3 148.4 543.2 145.4C543 142.3 542.3 139.2 543.2 137.3ZM522.1 141.3C522.8 140.2 528.1 139 530.1 139.3C532.1 139.7 534.8 142.2 534.1 143.4C533.5 144.5 528.1 146.7 526.1 146.4C524.1 146 521.4 142.5 522.1 141.3ZM596.4 175.5C596.7 174.3 601.1 172.8 604.4 171.5C607.8 170.1 613.5 168 616.5 167.4C619.5 166.9 621.8 167.4 622.5 168.5C623.2 169.5 622.2 172.3 620.5 173.5C618.8 174.6 615.5 174.6 612.4 175.5C609.4 176.3 605.1 178.5 602.4 178.5C599.7 178.5 596.1 176.7 596.4 175.5ZM516.1 195.6C516.1 193.2 518.1 186.9 520.1 183.5C522.1 180.2 526.3 176.5 528.1 175.5C530 174.5 531.5 175.8 531.1 177.5C530.8 179.2 527.9 182.2 526.1 185.5C524.3 188.9 521.8 195.9 520.1 197.6C518.4 199.2 516.1 197.9 516.1 195.6ZM628.5 177.5C628.8 175.8 631.2 174.5 632.5 175.5C633.9 176.5 635.2 180.5 636.5 183.5C637.9 186.5 640.6 191.5 640.6 193.6C640.6 195.6 638.2 196.9 636.5 195.6C634.9 194.2 631.9 188.5 630.5 185.5C629.2 182.5 628.2 179.2 628.5 177.5ZM511 204C511.7 202.8 515.3 203 516.1 204C516.8 205 516.3 208.8 515.7 210C515 211.2 512.8 212 512 211C511.3 210 510.4 205.2 511 204ZM608.4 233.1C609.3 232.2 613.3 231.4 614.5 232.1C615.6 232.8 616.3 236.2 615.5 237.1C614.6 238 610.6 238.2 609.4 237.5C608.3 236.9 607.6 234 608.4 233.1ZM539.2 283.3C540.2 282.5 545.7 281 548.2 281.3C550.7 281.6 554.2 284.4 554.2 285.3C554.2 286.3 550.2 286.8 548.2 286.9C546.2 287.1 543.7 286.9 542.2 286.3C540.7 285.7 538.2 284.1 539.2 283.3ZM554.2 301.4C555.2 300.6 562.1 300.5 564.3 301C566.4 301.5 568.3 303.7 567.3 304.4C566.3 305.1 560.4 305.9 558.2 305.4C556.1 304.9 553.2 302.1 554.2 301.4ZM535.7 317.4C536.2 316.8 539.9 316.2 541.2 316.4C542.4 316.7 543.7 318.4 543.2 319.1C542.7 319.7 539.4 320.5 538.2 320.3C536.9 320 535.2 318.1 535.7 317.4ZM620.5 240.1C622 239.1 627.2 238.3 630.5 238.1C633.9 238 639.2 238.1 640.6 239.1C641.9 240.1 640.6 243.2 638.6 244.2C636.5 245.2 631.4 245.2 628.5 245.2C625.7 245.2 622.8 245 621.5 244.2C620.1 243.3 619 241.1 620.5 240.1ZM640.6 265.2C642.7 263.2 650.6 257.2 652.6 261.2C654.6 265.2 653.4 285.3 652.6 289.3C651.8 293.4 648.9 287.3 647.6 285.3C646.3 283.3 645.9 279.3 644.6 277.3C643.2 275.3 640.2 275.3 639.6 273.3C638.9 271.3 638.4 267.2 640.6 265.2ZM619.5 272.3C620.6 270.8 623.8 269.6 625.5 270.3C627.2 270.9 629.5 273.9 629.5 276.3C629.5 278.6 627 282.8 625.5 284.3C624 285.8 621.7 286.2 620.5 285.3C619.3 284.5 618.6 281.5 618.5 279.3C618.3 277.1 618.3 273.8 619.5 272.3ZM616.5 305.4C617.3 303.6 620.1 301.7 622.5 301.4C624.8 301.1 629.4 302.1 630.5 303.4C631.7 304.7 630.9 307.6 629.5 309.4C628.2 311.3 624.5 313.9 622.5 314.4C620.5 314.9 618.5 313.9 617.5 312.4C616.5 310.9 615.6 307.2 616.5 305.4ZM638.6 291.3C641.2 289.2 650.3 281.6 652.6 285.3C655 289 653.9 309.1 652.6 313.4C651.3 317.8 646.8 312.8 644.6 311.4C642.4 310.1 640.9 307.6 639.6 305.4C638.2 303.2 636.7 300.7 636.5 298.4C636.4 296 635.9 293.5 638.6 291.3ZM640.6 346.6C641.6 343.6 646.6 340.7 648.6 339.5C650.6 338.4 651.9 336.5 652.6 339.5C653.3 342.6 654.3 354.6 652.6 357.6C650.9 360.6 644.6 359.5 642.6 357.6C640.6 355.8 639.6 349.6 640.6 346.6ZM581.3 320.5C582.7 318.5 585.8 316.1 588.4 315.4C590.9 314.8 594.5 315.3 596.4 316.4C598.2 317.6 599.9 321 599.4 322.5C598.9 324 595 323.8 593.4 325.5C591.7 327.2 590.2 330.2 589.4 332.5C588.5 334.9 589.4 339 588.4 339.5C587.3 340 584.7 337.5 583.3 335.5C582 333.5 580.7 330 580.3 327.5C580 325 580 322.5 581.3 320.5ZM604.4 342.6C605.3 341.5 609.4 340 611.4 340.5C613.5 341 616.3 344.3 616.5 345.6C616.6 346.8 614.1 347.8 612.4 348C610.8 348.1 607.8 347.5 606.4 346.6C605.1 345.7 603.6 343.6 604.4 342.6ZM579.3 439.3C579.8 437.9 582.2 437.9 583.3 438.9C584.5 439.9 585.7 443 586.3 445.4C587 447.8 587.9 451.9 587.3 453.4C586.8 454.9 584.5 455.4 583.3 454.4C582.2 453.4 581 449.9 580.3 447.4C579.7 444.9 578.8 440.7 579.3 439.3ZM586.7 467.4C587.1 465.9 589.3 465.4 590 466.4C590.6 467.4 591.1 472 590.8 473.5C590.4 475 588.6 476.5 588 475.5C587.3 474.5 586.4 469 586.7 467.4ZM500 489.9C500.5 488.9 503.5 490.4 504.4 491.5C505.4 492.7 506.1 495.5 505.6 496.6C505.2 497.6 502.5 499.1 501.6 498C500.7 496.9 499.5 491 500 489.9ZM571.3 417.7C572 417.1 575.3 416.9 576.3 417.2C577.3 417.6 578 419.2 577.3 419.7C576.6 420.2 573.3 420.6 572.3 420.3C571.3 419.9 570.6 418.2 571.3 417.7ZM638.6 497.6C639.6 494.9 644.2 492.9 646.6 491.5C648.9 490.2 651.6 486.9 652.6 489.5C653.6 492.2 654.6 504.6 652.6 507.6C650.6 510.6 642.9 509.3 640.6 507.6C638.2 505.9 637.6 500.2 638.6 497.6ZM600.4 560.2C601.1 558.7 604.1 558.4 605.4 559.2C606.8 560.1 608.3 563.4 608.4 565.2C608.6 567.1 607.6 569.8 606.4 570.3C605.3 570.8 602.4 569.9 601.4 568.3C600.4 566.6 599.7 561.7 600.4 560.2ZM564.3 575.3C565.3 574.1 571 574.3 574.3 574.3C577.6 574.3 580.7 574.8 584.3 575.3C588 575.8 593.4 576 596.4 577.3C599.4 578.6 601.1 581.3 602.4 583.3C603.7 585.3 605.4 587.8 604.4 589.3C603.4 590.8 599.1 591.5 596.4 592.3C593.7 593.2 591 594.2 588.4 594.4C585.7 594.5 582.7 594.5 580.3 593.4C578 592.2 576.3 589.3 574.3 587.3C572.3 585.3 569.9 583.3 568.3 581.3C566.6 579.3 563.3 576.5 564.3 575.3ZM570.3 603.4C570.9 601.6 576 601.7 578.3 602.4C580.7 603.1 583 604.9 584.3 607.4C585.7 609.9 586.2 614.1 586.3 617.4C586.5 620.8 586.3 625.3 585.3 627.5C584.3 629.7 581.8 631.2 580.3 630.5C578.8 629.8 577.2 626.3 576.3 623.5C575.4 620.6 575.7 616.8 574.7 613.4C573.7 610.1 569.7 605.2 570.3 603.4ZM632.5 561.2C632.9 559.3 637.9 557.9 640.6 557.6C643.2 557.3 646.9 557.9 648.6 559.2C650.3 560.5 651.3 563.2 650.6 565.2C649.9 567.2 646.6 570.6 644.6 571.3C642.6 571.9 640.6 570.9 638.6 569.3C636.5 567.6 632.2 563.2 632.5 561.2ZM598.4 605.4C598.9 604.9 602.5 605.9 604.4 607.4C606.4 608.9 609.7 613.1 610 614.4C610.4 615.8 607.9 616.1 606.4 615.4C605 614.8 602.7 612.1 601.4 610.4C600.1 608.7 597.9 605.9 598.4 605.4ZM557.2 637.5C558.2 635.9 561.7 635.4 564.3 635.5C566.8 635.7 570.3 637.2 572.3 638.5C574.3 639.9 576.6 641.9 576.3 643.6C576 645.2 572.6 647.1 570.3 648.6C567.9 650.1 564.3 653.1 562.2 652.6C560.2 652.1 559.1 648.1 558.2 645.6C557.4 643.1 556.2 639.2 557.2 637.5ZM539.2 651.2C540.5 650.5 547.5 652 550.2 652.6C552.9 653.2 556.6 654.3 555.2 655C553.9 655.7 544.8 657.2 542.2 656.6C539.5 656 537.8 651.9 539.2 651.2ZM535.1 652.2C535.5 651.2 538.5 652.1 540.2 653.2C541.8 654.4 544.2 657.4 545.2 659.2C546.2 661.1 546.7 663.1 546.2 664.3C545.7 665.4 543.5 667.1 542.2 666.3C540.8 665.4 539.3 661.6 538.2 659.2C537 656.9 534.8 653.2 535.1 652.2ZM504 663.3C504.7 661.8 509.4 663.6 512 664.3C514.7 664.9 517.7 666.4 520.1 667.3C522.4 668.1 525.1 668 526.1 669.3C527.1 670.6 527.1 673.6 526.1 675.3C525.1 677 522.4 678.3 520.1 679.3C517.7 680.3 514.1 682.3 512 681.3C510 680.3 509.4 676.3 508 673.3C506.7 670.3 503.3 664.8 504 663.3ZM620.1 239.1C621.4 238.1 626.8 237.3 630.1 237.1C633.5 237 637.1 237.5 640.2 238.1C643.2 238.8 645.9 240 648.2 241.1C650.5 242.3 653.9 244 654.2 245.2C654.6 246.3 652.5 248.2 650.2 248.2C647.9 248.2 643.5 245.8 640.2 245.2C636.8 244.5 633.1 244.5 630.1 244.2C627.1 243.8 623.8 244 622.1 243.2C620.4 242.3 618.7 240.1 620.1 239.1ZM640.2 267.2C641 265.2 643.2 264.4 646.2 263.2C649.2 262.1 654.6 260.4 658.2 260.2C661.9 260.1 665.3 261.1 668.3 262.2C671.3 263.4 674.3 265.6 676.3 267.2C678.3 268.9 681.3 271.4 680.3 272.3C679.3 273.1 673.6 272.6 670.3 272.3C666.9 271.9 663.3 270.3 660.2 270.3C657.2 270.3 654.6 271.1 652.2 272.3C649.9 273.4 648 276.8 646.2 277.3C644.3 277.8 642.2 277 641.2 275.3C640.2 273.6 639.3 269.3 640.2 267.2ZM618.1 271.3C619.2 268.9 624.1 268.6 626.1 269.3C628.1 269.9 630.1 272.9 630.1 275.3C630.1 277.6 627.4 281 626.1 283.3C624.8 285.7 623.3 289.3 622.1 289.3C620.9 289.3 619.7 286.3 619.1 283.3C618.4 280.3 616.9 273.6 618.1 271.3ZM640.2 293.4C640.5 291.7 644.8 290 648.2 289.3C651.5 288.7 656.2 289 660.2 289.3C664.3 289.7 668.3 291.2 672.3 291.3C676.3 291.5 681 290 684.3 290.3C687.7 290.7 690.5 291.5 692.4 293.4C694.2 295.2 696.1 299.7 695.4 301.4C694.7 303.1 691.5 303.4 688.4 303.4C685.2 303.4 680.3 302.1 676.3 301.4C672.3 300.7 667.9 299.4 664.3 299.4C660.6 299.4 657.2 301.4 654.2 301.4C651.2 301.4 648.5 300.7 646.2 299.4C643.8 298 639.8 295 640.2 293.4ZM616.1 305.4C616.6 303.4 619.7 301.4 622.1 301.4C624.4 301.4 629.5 303.7 630.1 305.4C630.8 307.1 627.9 310.1 626.1 311.4C624.3 312.8 620.7 314.4 619.1 313.4C617.4 312.4 615.6 307.4 616.1 305.4ZM634.1 307.4C635.1 306.4 639.8 305.1 642.2 305.4C644.5 305.7 647.9 308.2 648.2 309.4C648.5 310.6 646.2 312.1 644.2 312.4C642.2 312.8 637.8 312.3 636.1 311.4C634.5 310.6 633.1 308.4 634.1 307.4ZM640.2 345.6C640.8 343.2 645.2 339.5 648.2 337.5C651.2 335.5 655.2 335.5 658.2 333.5C661.2 331.5 664.3 327.8 666.3 325.5C668.3 323.1 668.3 320.1 670.3 319.5C672.3 318.8 676.6 319.8 678.3 321.5C680 323.1 681 326.8 680.3 329.5C679.7 332.2 676.6 335.5 674.3 337.5C672 339.5 668.9 340.2 666.3 341.5C663.6 342.9 660.9 344.2 658.2 345.6C655.6 346.9 652.5 348.6 650.2 349.6C647.9 350.6 645.9 352.3 644.2 351.6C642.5 350.9 639.5 347.9 640.2 345.6ZM692.4 347.6C694 345.6 702.2 343.9 704.4 345.6C706.6 347.2 707.1 355.6 705.4 357.6C703.7 359.6 696.6 359.3 694.4 357.6C692.2 355.9 690.7 349.6 692.4 347.6ZM606 341.5C606.9 340.2 610.4 338.9 612 339.5C613.7 340.2 616.1 343.9 616.1 345.6C616.1 347.2 613.6 349.2 612 349.6C610.5 349.9 608 348.9 607 347.6C606 346.2 605.2 342.9 606 341.5ZM650.2 369.1C651.2 367.4 655.6 365.5 658.2 365C660.9 364.5 664.4 365 666.3 366C668.1 367 669.3 369.4 669.3 371.1C669.3 372.7 668.1 375.1 666.3 376.1C664.4 377.1 660.6 377.3 658.2 377.1C655.9 376.9 653.5 376.4 652.2 375.1C650.9 373.7 649.2 370.7 650.2 369.1ZM680.3 383.1C681.2 381.9 686.3 381.6 688.4 382.1C690.4 382.6 692 384.8 692.4 386.1C692.7 387.5 691.9 389.6 690.4 390.1C688.9 390.7 685 390.7 683.3 389.5C681.7 388.4 679.5 384.4 680.3 383.1ZM654.2 385.1C654.2 383.9 658.6 382.8 660.2 383.1C661.9 383.4 664.3 386 664.3 387.1C664.3 388.3 661.9 390.5 660.2 390.1C658.6 389.8 654.2 386.3 654.2 385.1ZM698.4 403.2C699.1 401.4 703.6 401.9 704.4 404.2C705.3 406.5 704.1 415.4 703.4 417.2C702.7 419.1 701.2 417.6 700.4 415.2C699.6 412.9 697.7 405 698.4 403.2ZM660.2 444.4C661.3 443 664.3 441.5 666.3 441.3C668.3 441.2 671.8 442 672.3 443.4C672.8 444.7 670.8 447.9 669.3 449.4C667.8 450.9 664.8 452.4 663.3 452.4C661.7 452.4 660.3 450.7 659.8 449.4C659.3 448 659.2 445.7 660.2 444.4ZM663.3 430.3C664.1 429.6 667.4 428.5 669.3 429.3C671.1 430.1 674.1 434.1 674.3 435.3C674.5 436.5 672 436.6 670.3 436.3C668.6 436.1 665.4 434.7 664.3 433.7C663.1 432.7 662.4 431 663.3 430.3ZM686.3 431.3C687.5 429.8 690.7 428.6 692.4 429.3C694 430 696.1 433 696.4 435.3C696.7 437.7 695.7 441.8 694.4 443.4C693 444.9 689.9 445.2 688.4 444.4C686.8 443.5 685.7 440.5 685.3 438.3C685 436.2 685.2 432.8 686.3 431.3ZM687.3 458.4C687.7 457.2 690.4 457 691.4 457.8C692.4 458.6 693.7 462.2 693.4 463.4C693 464.6 690.4 465.9 689.4 465C688.4 464.2 687 459.6 687.3 458.4ZM658.2 483.5C658.9 481.8 662.4 481.2 664.3 481.5C666.1 481.8 668.6 483.5 669.3 485.5C669.9 487.5 669.1 491.7 668.3 493.6C667.4 495.4 665.6 496.9 664.3 496.6C662.9 496.2 661.2 493.7 660.2 491.5C659.2 489.4 657.6 485.2 658.2 483.5ZM637.1 499.6C638.2 497.4 642 493.2 644.2 491.5C646.4 489.9 648.5 489 650.2 489.5C651.9 490 654 492.6 654.2 494.6C654.4 496.6 652.9 499.8 651.2 501.6C649.5 503.3 646.4 504.5 644.2 505C642 505.5 639.3 505.5 638.2 504.6C637 503.7 636.1 501.8 637.1 499.6ZM633.1 561.2C633.6 559.2 637.7 558.9 640.2 559.2C642.7 559.6 646.5 561.9 648.2 563.2C649.9 564.6 650.9 565.6 650.2 567.2C649.5 568.9 646.4 572.6 644.2 573.3C642 573.9 639 573.3 637.1 571.3C635.3 569.3 632.6 563.2 633.1 561.2ZM598 574.3C599.3 571.9 603.7 572.4 606 573.3C608.4 574.1 610.7 577 612 579.3C613.4 581.6 614.4 585.5 614.1 587.3C613.7 589.2 612 590 610 590.3C608 590.7 604 589.8 602 589.3C600 588.8 598.7 589.8 598 587.3C597.3 584.8 596.7 576.6 598 574.3ZM600 608.4C600 607.7 604.4 610.3 606 611.4C607.7 612.6 610 614.7 610 615.4C610 616.2 607.7 617 606 615.8C604.4 614.7 600 609.1 600 608.4Z"/>
<path fill="none" stroke-width="5.6" d="M70.1 267.2C69.6 268.9 68.1 273.4 67.1 277.3C66 281.1 64.2 288.2 63.7 290.3"/>
<path fill="none" stroke-width="2.8" d="M80.1 250.2L91.2 253.6M491.6 111.2L500.6 106.2M469.5 151.4C471.3 152.6 477 158.1 480.5 158.4C484 158.7 487.4 155.7 490.6 153.4C493.7 151.1 498.1 145.9 499.6 144.4"/>
<path fill="none" stroke-width="2" d="M107.2 240.1L114.3 243.2M574.3 193.6L580.3 195.6"/>
<path fill="none" stroke-width="3.3" d="M136.7 540.7L150 545M83.3 515L110 518.3"/>
<path fill="none" stroke-width="4" d="M128.3 573.3L130.7 586.7"/>
<path fill="none" stroke-width="2.7" d="M170 574L181.7 575"/>
<path fill="none" stroke-width="2.1" d="M307.2 206.6L313.9 221.4M619.9 185.8C620.8 188.2 624.8 195.6 625.3 200.5C625.7 205.4 623.1 212.8 622.6 215.2"/>
<path fill="none" stroke-width="3.6" d="M308 206C308.6 207.8 310.4 213.9 311.4 217C312.5 220.2 314 223.7 314.5 225.1"/>
<path fill="none" stroke-width="1.2" d="M229.1 484.5L230.5 493.6"/>
<path fill="none" stroke-width="1.6" d="M254.2 537.1L257.2 544.2M469.5 102.8L464.5 106.2"/>
<path fill="none" stroke-width="2.4" d="M349 73.1L355 80.1M500 142.3L508 144.4M593.4 207L592.4 217"/>
<path fill="none" stroke-width="3.2" d="M540.2 107.2L544.2 111.2"/>
</g>
<g id="s3" stroke-linecap="round" stroke-linejoin="round">
<path stroke="none" d="M162.4 144.4C163.1 142.7 169.1 140.8 172.5 139.3C175.8 137.8 179.5 136.5 182.5 135.3C185.5 134.1 187.2 132.6 190.6 132.3C193.9 132 200.6 130.8 202.6 133.3C204.6 135.8 204.6 145.3 202.6 147.4C200.6 149.4 194.6 145.7 190.6 145.8C186.5 145.8 182.2 147.2 178.5 147.8C174.8 148.4 171.2 149.9 168.5 149.4C165.8 148.8 161.8 146 162.4 144.4ZM108.2 199.6C109.2 197.6 112.9 196.2 116.3 195.6C119.6 194.9 125.3 194.9 128.3 195.6C131.3 196.2 134 197.9 134.3 199.6C134.7 201.3 134.3 204.3 130.3 205.6C126.3 206.9 113.9 208.6 110.2 207.6C106.6 206.6 107.2 201.6 108.2 199.6ZM122.3 203C118.8 204.2 121.6 208.3 123.3 210C125 211.7 129.3 211.8 132.3 213C135.3 214.3 139.1 215.4 141.4 217.4C143.6 219.5 144.3 223.8 146 225.1C147.7 226.4 150.8 226.6 151.4 225.1C152 223.6 150.6 219.7 149.4 216C148.2 212.4 148.9 205.2 144.4 203C139.9 200.8 125.8 201.8 122.3 203ZM168.5 233.1C169.3 231.7 175.1 231.3 176.5 232.1C177.9 232.9 177.7 236.7 176.9 238.1C176.1 239.6 172.9 241.6 171.5 240.7C170.1 239.9 167.6 234.6 168.5 233.1ZM74.1 302.4C74.8 301.2 81 300.7 84.1 301.4C87.3 302.1 92.2 304.9 93.2 306.4C94.2 307.9 92.3 310.1 90.2 310.4C88 310.8 82.8 309.8 80.1 308.4C77.4 307.1 73.4 303.6 74.1 302.4ZM101.2 336.5C101.4 335.6 105.7 337.6 107.2 339.1C108.7 340.6 110.4 344.7 110.2 345.6C110.1 346.5 107.7 346.1 106.2 344.6C104.7 343.1 101 337.4 101.2 336.5ZM48 388.1C49.3 386.3 54.2 388 56 389.1C57.9 390.3 58.7 393.2 59 395.2C59.4 397.2 59.9 400.3 58 401.2C56.2 402 49.7 402.4 48 400.2C46.3 398 46.7 390 48 388.1ZM86.1 428.3C86.6 427 90.2 425.6 92.2 425.3C94.2 424.9 97.5 425.1 98.2 426.3C98.9 427.5 97.7 431.1 96.2 432.3C94.7 433.5 90.8 434 89.2 433.3C87.5 432.6 85.6 429.6 86.1 428.3ZM79.1 485.5C80.3 484.2 84.6 482.8 86.1 483.5C87.7 484.2 88.8 487.9 88.2 489.5C87.5 491.2 83.6 493.2 82.1 493.6C80.6 493.9 79.6 492.9 79.1 491.5C78.6 490.2 77.9 486.9 79.1 485.5ZM66.1 427.3C66.6 426 69.4 426 70.1 427.3C70.7 428.6 70.6 434 70.1 435.3C69.6 436.7 67.7 436.7 67.1 435.3C66.4 434 65.6 428.6 66.1 427.3ZM165.5 373.1C166 372.2 170.8 372.9 172.5 374.1C174.2 375.2 176 379.3 175.5 380.1C175 380.9 171.2 380.3 169.5 379.1C167.8 377.9 165 373.9 165.5 373.1ZM129.3 391.1C129.5 390 133.7 389.5 135.3 390.1C137 390.8 139.5 394.1 139.4 395.2C139.2 396.3 136 397.4 134.3 396.8C132.7 396.1 129.1 392.2 129.3 391.1ZM152.4 382.1C153.1 381.2 156.4 381.3 157.4 382.1C158.4 382.9 159.1 386.2 158.4 387.1C157.8 388 154.4 388.4 153.4 387.5C152.4 386.7 151.7 383 152.4 382.1ZM166.7 623.3C167.2 621.7 171.8 619.2 173.3 620C174.9 620.8 176.6 626.7 176 628.3C175.4 630 171.6 630.8 170 630C168.4 629.2 166.1 625 166.7 623.3ZM273.9 111.2C273.6 109.6 274.2 105.5 275.3 103.2C276.4 100.9 278.8 98.1 280.3 97.6C281.8 97.1 284.2 98.4 284.3 100.2C284.5 102 282.5 106 281.3 108.2C280.2 110.4 278.5 112.7 277.3 113.2C276.1 113.7 274.2 112.9 273.9 111.2ZM180 130.3C181.8 128.1 187.1 129.9 190.7 130.3C194.3 130.8 198.3 131.7 201.4 133C204.5 134.3 209 136.6 209.5 138.4C209.9 140.1 207.2 142.6 204.1 143.7C201 144.8 194.7 145 190.7 145C186.7 145 181.8 146.2 180 143.7C178.2 141.3 178.2 132.6 180 130.3ZM226.9 169.1C228.4 168.2 235.1 167.6 238.9 167.8C242.7 168 246.9 172.3 249.6 170.5C252.3 168.7 253.6 159.3 255 157.1C256.3 154.9 257.9 154.4 257.6 157.1C257.4 159.8 256.3 170 253.6 173.2C251 176.3 245.6 175.7 241.6 175.8C237.6 175.9 232 174.8 229.5 173.7C227.1 172.6 225.3 170.1 226.9 169.1ZM238.2 657.6C237.5 656.3 239.8 651.1 241.2 649.6C242.5 648.1 245.2 647.9 246.2 648.6C247.2 649.2 247.4 652.1 247.2 653.6C247 655.1 246.7 656.9 245.2 657.6C243.7 658.3 238.8 658.9 238.2 657.6ZM344.6 649.6C345.3 647.2 348.7 644.6 350 643.6C351.3 642.6 352.2 641.2 352.6 643.6C353 645.9 353.8 655.3 352.6 657.6C351.4 660 346.9 658.9 345.6 657.6C344.2 656.3 343.8 651.9 344.6 649.6ZM237.8 654.2C238.1 652.9 239.9 650.4 241.2 650.2C242.4 650 244.2 651.7 245.2 653.2C246.2 654.7 247.5 658 247.2 659.2C246.9 660.5 244.5 661 243.2 660.9C241.8 660.7 240.1 659.3 239.2 658.2C238.3 657.1 237.4 655.6 237.8 654.2ZM304.4 652.2C305.4 651 310.4 648.5 312.4 648.2C314.5 647.9 316.5 649.2 316.5 650.2C316.5 651.2 314.1 653.3 312.4 654.2C310.8 655.1 307.8 656 306.4 655.6C305.1 655.3 303.4 653.5 304.4 652.2ZM328.5 675.3C328.8 672.6 330.5 668.3 332.5 665.3C334.5 662.3 337.9 659.2 340.6 657.2C343.2 655.2 346.6 654.1 348.6 653.2C350.6 652.4 351.9 650.5 352.6 652.2C353.3 653.9 353.9 661.1 352.6 663.3C351.3 665.4 346.9 663.9 344.6 665.3C342.2 666.6 339.9 669 338.6 671.3C337.2 673.6 337.9 677.7 336.5 679.3C335.2 681 331.9 682 330.5 681.3C329.2 680.7 328.2 678 328.5 675.3ZM466.9 625.5C467.2 624.3 469.5 623.6 470.1 624.5C470.7 625.3 470.8 629.3 470.5 630.5C470.1 631.7 468.7 632.3 468.1 631.5C467.5 630.7 466.5 626.7 466.9 625.5ZM348 627.5C349.3 622.5 353.8 626.5 356 627.5C358.2 628.5 360 629.8 361 633.5C362 637.2 362.6 645.6 362 649.6C361.5 653.6 360.4 656.3 358 657.6C355.7 658.9 349.7 662.6 348 657.6C346.3 652.6 346.7 632.5 348 627.5ZM380.1 643.6C381.1 642.5 384.6 641.4 386.1 641.5C387.7 641.7 389.5 643.4 389.2 644.6C388.8 645.7 385.6 648 384.1 648.6C382.6 649.1 380.8 648.8 380.1 648C379.5 647.1 379.1 644.6 380.1 643.6ZM348 627.1C349.3 622.8 353.8 626.8 356 628.1C358.2 629.5 360.4 632 361 635.2C361.7 638.3 360.9 644.2 360 647.2C359.2 650.2 358 652.1 356 653.2C354 654.4 349.3 658.6 348 654.2C346.7 649.9 346.7 631.5 348 627.1ZM380.1 643.6C380.7 642.9 384.1 642.3 385.1 642.8C386.1 643.2 386.7 645.5 386.1 646.2C385.6 646.9 382.7 647.6 381.7 647.2C380.7 646.8 379.6 644.3 380.1 643.6ZM426.3 656.2C426.8 655.2 431.7 655.1 433.3 655.6C435 656.1 436.8 658.2 436.3 659.2C435.8 660.3 432 662.2 430.3 661.7C428.6 661.2 425.8 657.2 426.3 656.2ZM630.5 240.7C631 240 635.1 239.3 636.5 239.5C638 239.8 639.5 241.4 639 242.1C638.5 242.9 634.9 244.4 633.5 244.2C632.1 243.9 630 241.5 630.5 240.7ZM644.6 293.4C645.6 290.7 651.3 288.7 652.6 291.3C653.9 294 653.6 306.7 652.6 309.4C651.6 312.1 647.9 310.1 646.6 307.4C645.2 304.7 643.6 296 644.6 293.4ZM619.5 274.3C619.7 272.8 622.5 272.6 623.5 273.3C624.5 273.9 625.7 276.8 625.5 278.3C625.3 279.8 623.1 283 622.1 282.3C621.1 281.6 619.2 275.8 619.5 274.3ZM570.3 578.3C571 576.6 577 576.1 580.3 576.3C583.7 576.5 587.7 578 590.4 579.3C593 580.6 595.7 582.6 596.4 584.3C597.1 586 596.4 588.4 594.4 589.3C592.4 590.2 587.3 590.2 584.3 589.7C581.3 589.2 578.6 588.2 576.3 586.3C574 584.4 569.6 580 570.3 578.3ZM575.3 609.4C575.8 607.4 578.1 606.1 579.3 607.4C580.6 608.7 582.2 614.1 582.7 617.4C583.2 620.8 583 625.6 582.3 627.5C581.7 629.3 579.7 629.8 578.7 628.5C577.7 627.2 576.9 622.6 576.3 619.5C575.7 616.3 574.8 611.4 575.3 609.4ZM639.6 562.2C640.2 561.2 644.4 561 645.6 561.6C646.8 562.3 647.3 565.2 646.6 566.2C645.9 567.2 642.7 568.3 641.6 567.7C640.4 567 638.9 563.2 639.6 562.2ZM559.2 639.9C560.3 638.8 564.1 638.1 566.3 638.5C568.4 639 571.8 641 572.3 642.6C572.8 644.1 571 646.6 569.3 648C567.6 649.3 563.8 651 562.2 650.6C560.7 650.2 560.3 647.3 559.8 645.6C559.3 643.8 558.2 641.1 559.2 639.9ZM539.2 656.2C539.5 655.7 541.3 656.2 542.2 657.2C543 658.2 544.1 661.1 544.2 662.3C544.2 663.4 543.2 664.6 542.6 664.3C541.9 663.9 540.7 661.6 540.2 660.3C539.6 658.9 538.8 656.7 539.2 656.2ZM516.1 669.3C517.1 668.6 521.6 669.5 523.1 670.3C524.6 671.1 525.6 673.1 525.1 674.3C524.6 675.5 521.4 677.3 520.1 677.3C518.7 677.3 517.7 675.6 517.1 674.3C516.4 673 515.1 670 516.1 669.3ZM648.2 231.1C649.2 230.4 655.6 231.1 658.2 232.1C660.9 233.1 663.9 236 664.3 237.1C664.6 238.3 662.2 239.3 660.2 239.1C658.2 239 654.2 237.5 652.2 236.1C650.2 234.8 647.2 231.8 648.2 231.1ZM630.1 240.1C630.8 239.3 636.5 239 638.2 239.5C639.8 240 640.8 242.3 640.2 243.2C639.5 244 635.8 245.3 634.1 244.8C632.5 244.3 629.5 241 630.1 240.1ZM656.2 263.2C657.2 262.2 663.3 261.7 666.3 262.2C669.3 262.7 673.6 264.9 674.3 266.2C675 267.6 672.6 269.9 670.3 270.3C667.9 270.6 662.6 269.4 660.2 268.3C657.9 267.1 655.2 264.2 656.2 263.2ZM646.2 292.3C647.5 291.3 652.5 290.3 656.2 290.3C659.9 290.3 664.3 291.8 668.3 292.3C672.3 292.9 676.3 293 680.3 293.4C684.3 293.7 690.2 293.4 692.4 294.4C694.5 295.4 695.4 298.5 693.4 299.4C691.4 300.2 684.5 299.5 680.3 299.4C676.1 299.2 672.3 298.5 668.3 298.4C664.3 298.2 659.6 298.7 656.2 298.4C652.9 298 649.9 297.4 648.2 296.4C646.5 295.4 644.8 293.4 646.2 292.3ZM654.2 341.5C654.6 339.9 661.6 336.2 664.3 333.5C666.9 330.8 668.6 326.5 670.3 325.5C672 324.5 674.3 325.8 674.3 327.5C674.3 329.2 672.3 332.8 670.3 335.5C668.3 338.2 664.9 342.6 662.2 343.6C659.6 344.6 653.9 343.2 654.2 341.5ZM655.2 369.5C656.4 368.7 662.6 368.2 664.3 368.7C665.9 369.1 666.4 371.3 665.3 372.1C664.1 372.9 658.9 373.9 657.2 373.5C655.6 373 654 370.3 655.2 369.5ZM640.2 564.2C640.7 563.4 644.1 563.1 645.2 563.6C646.3 564.2 647.1 566.8 646.6 567.7C646.1 568.5 643.2 569.4 642.2 568.9C641.1 568.3 639.7 565.1 640.2 564.2Z"/>
<path fill="none" stroke-width="2" d="M545.2 135.3L546.6 143.4M519.1 193.6L526.1 180.5"/>
<path fill="none" stroke-width="1.6" d="M615.5 172.5L620.5 169.5"/>
</g>
<g id="s4" stroke-linecap="round" stroke-linejoin="round">
<path stroke="none" d="M150.4 149.4C151.1 148.3 155.1 145.9 158.4 144.4C161.8 142.9 167.1 141.2 170.5 140.3C173.8 139.5 176.8 138.8 178.5 139.3C180.2 139.8 181.2 142 180.5 143.4C179.9 144.7 177.5 146.4 174.5 147.4C171.5 148.4 165.8 148.8 162.4 149.4C159.1 150 156.4 151 154.4 151C152.4 151 149.7 150.5 150.4 149.4ZM196.6 135.7C197.4 135.1 201.6 134.4 202.6 134.9C203.6 135.5 203.4 138.3 202.6 138.9C201.8 139.5 198.6 139.1 197.6 138.5C196.6 138 195.7 136.3 196.6 135.7ZM51 407.2C51.8 406.7 54.9 409 55 410.2C55.2 411.4 52.8 413.7 52 414.2C51.2 414.7 50.2 414.4 50 413.2C49.8 412.1 50.2 407.7 51 407.2ZM276.9 105.6C277.1 105.2 278.4 104.9 278.7 105.2C279 105.5 279.1 106.8 278.9 107.2C278.7 107.6 277.6 107.9 277.3 107.6C277 107.3 276.7 106 276.9 105.6ZM196.1 135.7C197 134.9 202.3 134.7 204.1 135.1C205.9 135.6 207.7 137.6 206.8 138.4C205.9 139.2 200.5 140.4 198.7 140C197 139.5 195.2 136.5 196.1 135.7ZM629.5 176.5C629.7 175.5 631.7 174.6 632.5 175.5C633.4 176.3 634.7 180.6 634.5 181.5C634.4 182.4 632.4 181.9 631.5 181.1C630.7 180.3 629.4 177.4 629.5 176.5ZM578.3 619.9C578.5 619.5 579.6 619.2 579.9 619.5C580.3 619.7 580.5 621.1 580.3 621.5C580.1 621.9 579 622.1 578.7 621.9C578.4 621.6 578.1 620.3 578.3 619.9ZM516.1 679.3C516.4 678.8 518.5 678.1 519.1 678.3C519.7 678.6 520 680.4 519.7 680.9C519.3 681.4 517.7 681.6 517.1 681.3C516.5 681.1 515.7 679.8 516.1 679.3ZM661.2 264.8C661.9 264.4 665.4 263.5 666.3 263.6C667.2 263.8 667.3 265.2 666.7 265.6C666 266.1 663.2 266.6 662.2 266.4C661.3 266.3 660.6 265.3 661.2 264.8ZM652.2 293C652.9 292.5 656.3 291.9 657.2 292.1C658.2 292.3 658.5 293.7 657.8 294.2C657.2 294.6 654.1 295.2 653.2 295C652.3 294.8 651.5 293.4 652.2 293ZM669.3 297.4C669.8 296.8 672.5 296 673.3 296.4C674.1 296.7 674.4 298.8 673.9 299.4C673.4 299.9 671.1 300.1 670.3 299.8C669.5 299.4 668.8 297.9 669.3 297.4ZM683.3 293.4C684.3 292.7 689.8 292.3 691.4 293C692.9 293.6 693.8 296.7 692.8 297.4C691.8 298 686.9 297.6 685.3 297C683.8 296.3 682.3 294 683.3 293.4Z"/>
<path fill="none" stroke-width="0.6" d="M80.1 491.1L86.1 489.1"/>
<path fill="none" stroke-width="0.8" d="M194.6 580.3L200.6 577.7M541.2 659.2L542.6 663.3"/>
<path fill="none" stroke-width="1" d="M517.1 194.6L521.1 187.5"/>
</g>
<g id="s6" stroke-linecap="round" stroke-linejoin="round">
<path stroke="none" d="M630.9 177.9C631.1 177.4 632.5 177.1 632.9 177.5C633.4 177.9 633.9 180 633.7 180.5C633.6 181 632.4 180.7 631.9 180.3C631.5 179.9 630.8 178.4 630.9 177.9Z"/>
</g>
</defs>
<rect width="750" height="747" fill="#fff"/>
<g clip-path="url(#disc)">
<g id="shading">
<use href="#s1" fill="#c2e5f9" stroke="#c2e5f9"/>
<use href="#s0" fill="#ffffff" stroke="#ffffff"/>
<use href="#s2" fill="#8fc3e8" stroke="#8fc3e8"/>
<use href="#s3" fill="#5a9bc9" stroke="#5a9bc9"/>
<use href="#s4" fill="#5cb46e" stroke="#5cb46e"/>
<use href="#s6" fill="#fdd44f" stroke="#fdd44f"/>
</g>
<path fill="#cccccc" fill-rule="evenodd" d="M246.6 88.7L249.2 88.1L248.6 85.5L245.8 86.1ZM266.7 88.7L269.3 87.9L268.7 85.5L265.9 86.1ZM257.4 88.7L259.8 88.3L259.6 85.7L256.8 86.1ZM344.6 232.7L341 233.5L341.6 236.3L345 235.5ZM362 273.3L356 273.7L356.8 276.5L362.4 276.1ZM356 299.4L357 289.3L354 282.3L348 280.9L348 282.4L343.6 280.3L344.6 275.3L350 269.3L348.6 265.2L340.6 262.2L330.5 260.2L328.5 256.2L334.5 247.2L339.6 240.7L338.6 239.1L334.5 243.2L328.5 250.2L322.5 258.2L320.5 262.2L318.5 258.2L315.5 260.2L316.5 265.2L317.5 271.3L313.5 276.3L308.4 280.3L300.4 284.3L290.4 286.3L280.3 286.3L270.3 284.3L266.3 280.3L260.2 278.3L256.2 281.3L250.2 283.3L246.2 280.5L240.2 281.3L230.1 284.3L226.1 285.3L222.1 282.3L216.1 277.3L210 270.3L204 265.2L202.6 264.5L202.6 263.6L200.1 263.3L198 262.2L198 263L190.6 262L180.5 260.4L172.5 259.6L165.5 259.6L161.4 262.2L156.4 264.6L148.4 265.6L140.4 266.2L130.3 267.2L121.3 267.7L119.3 265.2L116.3 268.9L110.2 272.3L100.2 274.3L91.2 276.9L85.7 278.9L86.1 281.9L91.2 282.3L100.2 280.5L110.2 278.1L120.3 275.7L129.3 273.7L136.3 272.9L139.8 274.7L138.4 276.9L130.3 278.7L120.3 280.3L110.2 282.9L99.2 286.3L90.2 290.9L82.1 294.4L72.1 299L62 297L58.5 296.8L57.6 300.1L56.6 304L55.7 308L54.7 311.9L53.9 315.9L53.1 319.9L52.3 323.9L51.6 327.9L50.9 331.9L50.3 335.9L49.7 339.9L49.3 343.2L60 343.6L69.1 345.6L70.9 348.2L72.5 358.2L103.1 358L105.5 371.2L105.2 368.1L106.6 375.1L103.4 381.1L104.6 387.1L107.4 395.2L108.6 405.2L108.6 417.2L104.2 419.7L98.2 421.7L90.2 425.3L84.5 430.3L86.1 433.7L96.2 432.3L106.2 429.7L110.2 425.3L118.3 424.3L125.3 427.7L134.3 433.7L141.4 440.9L146 444.6L154.4 439.7L162.4 441.7L169.5 444.4L180.5 449.4L182.9 455.4L190.6 459.8L198 462.7L198 463.8L194.6 464.4L196.6 469.1L198 469.1L198 473.5L206 475.5L212 473.5L220.1 475.5L230.1 473.5L240.2 471.5L248.2 473.5L250.2 465.4L252.2 457.4L256.2 451.4L262.2 445.4L264.3 439.3L258.2 437.3L255.2 433.3L258.2 427.3L264.3 423.3L267.3 417.2L266.3 409.2L260.2 408.2L250.2 410.2L240.2 414.2L232.1 415.2L220.1 415.2L216.1 413.2L219.1 409.2L226.1 405.2L232.1 401.2L234.1 391.1L239.2 385.1L241.2 379.1L248.2 374.1L254.2 375.1L260.2 381.1L264.3 389.1L269.3 392.1L268.3 398.2L272.3 402.2L278.3 398.2L280.3 392.1L286.3 388.1L292.4 385.1L300.4 385.1L304.1 386.3L299.4 387.1L295.4 392.1L298.4 398.2L296.4 404.2L292.4 408.2L288.4 411.2L286.3 415.2L283.3 417.2L282.2 419.5L283.3 423.3L286.3 429.3L292.4 430.3L295.4 423.3L298.4 415.2L304.4 409.2L309.4 402.2L312.4 395.2L311.4 389.1L309.4 388.1L311.4 383.1L307.4 381.4L309.3 381.4L310 379.7L312.4 380.1L314.5 375.1L310.4 369.1L302.4 371.1L302.4 371.2L298.8 370.7L304.4 366L310.4 367L314.5 361L313.6 357.6L322.4 357.6L322.5 358.9L326.4 362.5L331.8 361L332.8 354.6L327.5 351.4L323.8 352.9L324.5 349.6L320.5 344L319 343.6L317.8 340.7L311.4 341.8L311.5 342.9L308.4 346L305 347.7L300.7 348.2L294.4 351.4L294.4 349.6L298.4 345.6L308.4 341.5L314.5 335.5L316.5 329.5L320.5 322.5L330.5 317.4L340.6 316.4L352.6 313.4L352.6 306.2ZM214.1 457.4L206 451.4L202.6 450.5L202.6 444.9L204 445.4L212 451.4L220.1 455.4L225.1 459.4L222.1 463.4L215.7 464.2L218.1 463.4ZM103.1 357.6L103.7 357.6L103.9 359.7ZM292.5 357.6L290.4 363L291.4 357.6ZM292.4 369.1L297.8 370.9L290 372.8L290.7 375.4L288.4 375.1L286.7 371.1L290.4 363ZM239.2 288.3L230.1 288.5L227.1 286.9L232.1 285.7L240.2 286.3ZM296.4 333.5L294.4 338.5L290.4 335.5L289.4 330.5L293.4 328.5ZM268.3 331.5L271.3 333.5L268.3 339.5L262.2 345.6L258.2 343.6L255.8 338.5L260.2 335.5ZM226.1 361.4L225.1 364L218.1 364.6L213.1 365L212 362.6L220.1 361ZM200.6 387.1L200.6 398.2L195.6 399.2L192.6 391.1L193 381.1L198.6 380.1ZM183.5 394.2L184.5 397.6L176.5 397.2L169.5 396.2L168.5 393.2L174.5 391.7ZM188.6 408.2L187.6 412.8L180.5 413.2L178.5 407.6L183.5 405.2ZM176.5 419.3L175.5 422.3L172.5 419.3L169.7 409.6L172.5 409.2ZM184.9 429.7L182.9 431.3L180.5 427.3L179.5 421.3L182.1 420.9ZM325.3 366.4L322.1 363.2L315.7 364.3L316.8 368.1L322.1 369ZM319.6 376.3L324.3 375.4L323.2 371.1L317.8 371.8ZM333.9 379.3L336 373.9L332.8 369.6L326.4 370.7L326 375.4L328.5 379.7ZM56 401.6L59 398.2L58.4 392.1L54 388.1L48 387.1L48 400.2ZM286.3 409.2L291.4 408.2L290.4 404.2L285.3 405.2ZM317.8 426.4L313.6 430.6L309.3 433.9L310.3 437.1L305 442.4L300.7 447.8L295.4 454.2L291.1 460.6L288.9 467L290 473.5L293.2 475.6L298.6 472.4L305 469.2L311.4 467L317.8 464.9L326.4 463.8L332.8 462.8L339.3 461.7L345.7 459.6L347.8 456.3L352.1 452.1L355.3 446.7L354.2 441.3L358.5 437.1L360.7 432.8L363.9 427.4L368.2 422.1L370.9 417.8L367.1 414.6L362.8 412.4L363.9 409.2L361.7 404.9L354.2 404.9L345.7 403.9L340.3 401.7L336.9 399.2L341.4 400.7L347.8 399.6L352.1 396.4L351 391L346.7 385.7L341.4 381.4L332.8 381L325.3 383.5L317.8 384.6L317.4 388.9L321 392.1L325.3 393.2L329.6 396.4L335 398.5L335.3 398.6L329.6 399.6L325.3 403.9L324.3 408.2L325.3 413.5L326.4 418.9L322.1 423.1ZM67.1 429.3L66.1 439.3L65.1 450.4L67.1 449.4L69.1 439.3L71.1 429.3L70.1 421.3L64.1 414.2L61 413.2L61.6 416.2L65.1 421.3ZM65.1 458.4L60 459.4L61 469.5L64.1 471.5L66.1 467.4ZM345.7 475.6L339.3 476.7L336 479.9L338.2 485.2L343.5 488L351 486.3L354.2 482L352.1 477.8ZM232.1 493.6L236.1 487.5L238.2 480.5L234.1 476.5L226.1 475.5L222.1 479.5L223.1 485.5L226.1 489.5L228.1 495.6ZM367.1 537.1L366.1 542.1L368.1 544.2L363.7 547.6L361 551.6L365.1 547.6L370.1 546.4L376.1 544.4L380.1 542.3L381.6 539.2L380.7 536.4L380.5 534.2L380.1 533.1L376.1 529.1L374.1 523.1L371.1 517L366.1 516L363.1 521.1L365.1 527.1L364.1 533.1ZM355 531.1L351 535.1L352 542.1L357 543.2L362 540.1L364.1 534.1L361 530.1ZM270.3 584.5L269.9 582.9L267.9 582.3L268.3 584.1ZM312.9 655.6L311.4 654L308.8 655.2L310 656.8ZM515.1 209L512 215L515.1 219.1L520.1 216L526.1 211L534.1 212L540.2 214L548.2 213L554.2 209L554.8 207.6L555.2 207.6L555 207L556.2 204L549.4 204L546.2 203.6L540.2 202.6L537.1 198L530.1 197.6L524.1 203.6L523.6 205.6L522.1 206ZM572.3 221.1L578.3 217L579.3 212L573.3 210L566.3 211L560.2 208L554.2 212L558.2 214.6L564.3 215L567.3 220.1ZM498 217.3L492.6 217L491.6 220.3L495 224.3L498 226L498 229.1L504 228.1L510.4 225.1L506 218.1L498 217ZM638.6 224.1L631.5 226.1L634.5 230.1L643.6 229.5L644.6 226.1ZM475.5 261.2L480.5 253.2L483.5 247.2L488.6 241.1L492.6 235.1L493.6 230.1L490.6 232.1L484.5 239.1L478.5 245.2L474.5 255.2L470.5 263.2L471.5 264.8ZM374.5 308.6L379.3 308.2L379.1 305L374.1 305.4ZM418.9 334.5L421.5 333.9L421.1 328.5L418.3 328.9ZM420.3 337.5L416.3 333.5L412.2 335.5L413.3 339.5L418.3 341.5ZM415.3 383.1L420.3 382.1L424.7 378.1L426.3 373.1L422.3 372.1L418.3 375.1L414.3 379.1ZM412.7 404.2L411.2 399.6L407.2 401.2L410.2 406.8ZM405.8 412L409.4 411.2L408.6 408L405.2 408.8ZM427.3 405.2L427.3 410.2L428.3 416.2L430.3 423.3L433.3 428.3L438.4 431.3L443.4 430.9L444 428.3L439.4 425.3L434.3 421.3L431.9 415.2L432.3 409.2L430.3 403.2ZM399.2 434.3L397.2 430.3L399.2 424.3L396.2 420.3L390.2 421.3L386.1 425.3L388.2 430.3L391.2 435.3L395.2 437.3ZM314.5 661.7L306.4 667.7L298.4 675.7L290.4 683.3L284.3 692.4L285.1 702.5L285.7 702.7L289.6 703.8L293.6 704.9L297.5 705.9L301.5 706.8L305.4 707.8L309.4 708.6L313.4 709.4L317.4 710.2L321.4 710.9L325.4 711.6L329.4 712.2L333.4 712.8L337.4 713.3L341.5 713.8L345.5 714.2L349.6 714.6L353.6 714.9L357.7 715.2L361.7 715.4L365.8 715.6L369.9 715.7L373.9 715.8L378 715.8L382.1 715.8L386.1 715.7L390.2 715.6L394.3 715.4L398.3 715.2L402.4 714.9L406.4 714.6L410.5 714.2L414.5 713.8L418.6 713.3L422.6 712.8L426.6 712.2L430.6 711.6L434.6 710.9L438.6 710.2L442.6 709.4L446.6 708.6L450.6 707.8L454.5 706.8L458.5 705.9L462.4 704.9L466.4 703.8L470.3 702.7L474.2 701.5L478.1 700.3L481.9 699.1L485.8 697.8L489.6 696.4L493.4 695L497.2 693.6L501 692.1L504.8 690.6L508.5 689L512.3 687.4L516 685.7L519.6 684L523.3 682.2L527 680.4L530.6 678.6L534.2 676.7L537.7 674.7L541.3 672.8L544.8 670.7L548.3 668.7L551.8 666.6L555.2 664.4L558.7 662.2L562.1 660L565.4 657.7L568.8 655.4L572.1 653L575.4 650.6L578.6 648.2L581.8 645.7L582.5 645.1L576.3 643.6L568.3 635.5L558.2 629.5L548.2 625.5L539.2 621.5L536.1 616.4L544.2 615.4L554.2 620.5L564.3 625.5L574.3 629.5L580.3 633.5L588.4 633.5L585.2 643L588.2 640.6L591.3 638L594.4 635.4L597.5 632.7L600.5 630L603.5 627.2L606.4 624.4L609.4 621.6L612.3 618.8L615.1 615.9L617.9 612.9L620.7 610L623.5 607L626.2 604L628.9 600.9L631.5 597.8L634.1 594.7L636.7 591.5L639.2 588.3L641.7 585.1L644.1 581.9L646.5 578.6L648.9 575.3L651.2 571.9L652.6 569.8L652.6 547.4L650.2 543.2L646.2 544.2L640.2 551.2L634.1 553.2L628.1 548.2L625.1 545.2L627.1 541.1L634.1 535.1L640.2 527.1L643.2 517L643.2 503L663.6 503L665.3 501.6L668.3 496.6L670.7 491.9L673.3 495.6L680.7 494L685.9 489.1L684.3 482.5L679.3 479.1L694.4 475.5L694.4 482.8L695 480.7L696.2 476.8L697.3 472.9L698.4 468.9L699.4 465L700.3 461L701.3 457.1L702.1 453.1L702.9 449.1L703.7 445.1L704.4 441.1L705.1 437.1L705.7 433.1L706.3 429.1L706.8 425.1L707.3 421L707.7 417L708.1 412.9L708.4 408.9L708.7 404.8L708.9 400.8L709.1 396.7L709.2 392.6L709.3 388.6L709.3 384.5L709.3 380.4L709.2 376.4L709.1 372.3L708.9 368.2L708.7 364.2L708.4 360.1L708.1 356.1L707.7 352L707.3 348L706.8 343.9L706.3 339.9L705.7 335.9L705.1 331.9L704.4 327.9L703.7 323.9L702.9 319.9L702.1 315.9L701.3 311.9L700.3 308L699.4 304L698.4 300.1L697.3 296.1L696.2 292.3L694.4 292.3L686.3 287.3L680.3 284.3L680.3 278.3L685.3 274.3L680.3 271.3L670.3 263.2L664.3 256.2L658.2 248.2L650.2 244.2L640.2 241.1L630.1 239.1L620.1 242.8L620.3 242.8L612.4 246.2L609.4 243.6L604.4 244.2L600.4 251.2L594.4 259.2L588.4 263.2L582.3 265.2L578.3 260.2L574.3 259.2L576.3 265.2L580.3 267.2L584.3 269.3L582.3 277.3L577.3 280.3L576.3 275.3L569.3 274.3L566.3 272.3L570.3 271.3L568.3 267.7L561.2 265.2L559.2 260.2L560.2 256.2L565.3 253.2L564.3 248.2L568.3 245.2L570.3 241.1L576.3 237.1L573.3 233.1L566.3 231.1L560.2 235.1L557.2 241.1L552.2 249.2L542.2 248.2L534.1 247.2L526.1 242.1L518.1 241.1L510 244.2L502.6 244.8L502.6 243.2L500 243.2L490.6 248.2L482.5 255.2L475.5 261.2L478.5 265.2L481.5 275.3L476.5 277.7L466.5 279.7L456.4 280.9L450.4 278.3L444.4 273.3L438.4 268.9L434.3 270.3L426.3 274.9L420.3 273.3L419.3 269.3L413.3 267.2L418.3 264.2L424.3 261.2L432.3 258.2L436.3 253.2L440.4 245.2L443.4 237.1L444.4 231.1L440.4 232.1L434.3 237.1L424.3 242.1L419.3 248.2L419.3 253.2L416.3 259.2L410.2 265.2L407.2 262.8L400.2 261.2L390.2 266.2L382.1 271.3L377.1 279.7L372.1 281.3L366.1 277.7L361 285.3L362 288.3L370.1 290.3L376.1 293.4L384.1 297.4L392.2 299.4L396.2 302.4L404.2 305.4L408.2 311.4L414.3 314.4L418.3 321.5L425.3 327.5L429.3 325.5L434.3 331.5L438.4 335.5L436.3 343.6L433.3 349.6L434.6 353L433.3 353L430.3 361L427.3 367L429.3 373.1L436.3 375.1L438.4 383.1L439.4 391.1L444.4 395.2L450.4 394.2L452.4 401.2L446.4 405.2L442.4 407.2L446.4 411.2L454.4 413.2L462.4 409.2L468.5 411.2L470.5 415.2L464.5 416.2L458.4 419.3L450.4 425.3L450.4 431.3L451.4 435.3L448.4 437.3L446.6 440L444.5 440L444.4 438.9L441.4 439.3L441.5 440L440.6 440L442.6 447.9L444.9 447.5L446 455L442.8 461.4L444.9 467.8L440.6 470L436.4 465.7L435.3 461.4L435.8 460.9L432.1 457.1L434.2 452.8L429.9 449.6L423.5 450.7L418.2 452.8L413.9 453.9L408.5 458.2L404.2 463.6L401 470L399.2 473.7L398.9 474.3L397.8 480.7L396.1 486L393.5 493.5L390.3 497.8L388.2 503.1L388.2 503.2L388.8 509.6L391.4 514.9L395.7 517.1L400 514.9L404.2 511.7L404.5 512.2L406.4 514.9L408.5 521.4L411.7 525.7L414.9 524.6L418.2 519.2L417.3 515L417.1 513.9L419.1 509.8L419.2 509.6L418.2 504.2L415.3 501.4L414.3 501.6L413.3 495.6L414.4 491L414.9 487.1L415.5 486L416.3 481.5L417.3 477.5L420.3 476.5L420.8 478.3L421.8 479.6L421.6 480.7L421.9 481.5L421.1 485.6L422.4 491.4L424.6 496.1L429.9 494.6L434.2 490.5L439.1 488.9L438.4 487.5L439.1 487.3L438.9 486.7L443.9 486L444.9 490.3L444.3 490.5L444.4 490.5L443.9 490.7L444.9 491.4L440.6 494L439.5 494.7L440.4 495.6L434.3 499.6L431.8 499.9L429.9 501L426.7 504.2L427.3 507.6L439.8 507.6L438.4 509L434.3 513L431.8 515.5L429.9 520.3L429.2 521.1L428.3 524.1L425.7 524.5L425.7 524.6L419.7 526.8L416.3 529.1L410.9 530.9L410.7 531L410.7 531L410.2 531.1L406.5 532.9L408.8 531.2L404.5 532L406.4 527.8L405.3 521.4L402.1 518.2L398.9 519.7L398.3 524.9L398.2 525.1L398.3 525.3L398.2 525.7L401 531L401.2 531.1L401.2 531.1L401.4 531.2L404.2 532.5L404.3 532.3L406.1 533.1L405.2 533.5L400.2 537.5L393.2 543.2L387.1 548.4L382.1 554.2L376.1 559.6L370.1 562L364.1 563.2L368.1 567.7L372.1 571.7L374.1 579.3L371.1 584.3L362 585.3L352.6 584.2L352.6 582.3L348.3 583.7L348 583.7L348 583.8L346.6 584.3L344.6 593.4L340.6 605.4L341.6 609.4L346.6 611.4L348 611.9L348 614.4L354 613.4L362 611L370.1 609.4L378.1 605.4L383.1 601.4L389.2 595.4L392.2 587.3L398.2 584.3L404.2 582.3L410.2 580.9L416.3 574.3L419.3 574.3L420.3 578.3L423.3 582.3L428.3 587.3L433.3 592.3L436.3 598.4L435.4 605.9L434.3 605.4L427.3 607L429.3 610.4L437.3 611.4L439.4 607.8L438.9 607.6L440.4 605.4L438.8 598.4L441.4 593.4L446.4 593.4L444.4 590.3L436.3 583.7L430.3 578.3L427.3 574.3L430.3 575.3L434.3 579.3L442.4 584.3L448.4 587.3L454.4 592.3L460.4 596.4L463.5 601.4L468.5 602.4L470.5 597.4L467.5 591.3L462.4 587.3L464.5 583.3L468.5 580.3L472.5 581.3L478.5 579.3L480.5 583.3L474.5 587.3L472.5 593.4L476.5 597.4L482.5 600.4L490.6 601.4L498 599.5L498 586.3L506 585.3L510 581.3L515.1 577.3L520.1 581.3L524.1 589.3L526.1 599.4L523.1 607.4L518.1 611.4L510 615.4L502 618.5L498 618.5L498 620L490.6 621.5L478.5 620.5L471.5 621.5L470.5 625.5L468.5 633.5L462.4 639.5L454.4 643.6L446.4 641.5L442.4 635.5L434.3 633.5L426.3 629.5L422.3 623.5L424.3 617.4L418.3 614.4L410.2 615.4L402.2 617.4L390.2 619.5L376.1 621.5L368.1 625.5L358 623.5L348 621.5L348 628.7L345.6 629.5L340.6 633.5L337.5 636.8L336.5 637.5L335.3 639.2L334.9 639.6L334.7 640L330.5 645.6L330.5 647.6L324.5 655.6ZM622.1 551.2L621.1 561.2L622.1 569.3L619.1 572.3L614.1 571.3L608.4 565.2L600.4 569.3L592.4 569.3L584.3 565.2L581.9 559.2L588.4 555.2L598.4 558.2L606.4 559.2L612 555.2L617.1 548.2L620.1 542.1L623.1 541.1L625.1 545.2ZM537.3 344L535.7 344.4L532.1 340.5L526.1 337.5L519.1 336.5L515.1 335.1L520.1 333.9L527.1 335.5L534.1 339.1ZM708.4 403.2L700.4 402.2L696.4 396.2L696.8 387.1L694.4 380.1L690.4 372.1L696.4 369.1L706.4 367ZM445.4 482L444.8 480.4L442.8 477.9L444 478.1L448.1 477.5L449.6 480.7L448.6 481L449.4 481.9L446.4 482.5L445.8 481.8ZM554.6 481.5L551.2 487.5L545.2 487.9L541.8 483.5L541.2 477.5L545.2 474.5L552.2 475.5ZM548.2 508L553.2 510L552.2 515L560.2 517L566.3 523.1L564.3 529.1L558.2 533.1L550.2 535.1L546.2 531.1L543.2 525.1L536.1 523.1L528.1 521.1L522.1 517L519.1 510L523.3 507.6L520.1 507.6L520.1 499.6L526.1 495.6L533.1 496.6L536.1 501.6L534.1 507.6L530.4 507.6L534.1 509L540.2 512ZM482.9 568.5L476.9 567.7L474.1 562.2L472.9 553.2L472.9 545.2L478.5 544.2L486.5 547.2L490.6 541.1L494.2 533.1L497.6 526.7L499.6 531.1L497.6 539.1L498 539.9L498 539.1L508 538.7L516.1 541.1L517.1 547.2L514.1 552.2L506 554.8L503 554.9L503 555.2L495 559.2L489 565.2ZM415.3 597.4L413.9 591.3L412.2 585.3L409.2 586.3L410.2 593.4L409.8 599.4L410.2 605.4L414.3 604.4ZM391.2 605.4L390.6 603L386.5 603.4L387.1 605.8ZM478.5 607.4L486.5 606.4L486.9 603.4L482.5 602.4L474.5 603.8L474.9 606.4Z"/>
<g id="shading-land" clip-path="url(#landclip)">
<use href="#s1" fill="#93b7cf" stroke="#93b7cf"/>
<use href="#s0" fill="#cccccc" stroke="#cccccc"/>
<use href="#s2" fill="#6a9cc3" stroke="#6a9cc3"/>
<use href="#s3" fill="#3f7dab" stroke="#3f7dab"/>
<use href="#s4" fill="#419b54" stroke="#419b54"/>
<use href="#s6" fill="#d8b84a" stroke="#d8b84a"/>
</g>
<path fill="none" stroke="#c6c6c6" stroke-width="0.7" d="M246.6 88.7L249.2 88.1L248.6 85.5L245.8 86.1ZM266.7 88.7L269.3 87.9L268.7 85.5L265.9 86.1ZM257.4 88.7L259.8 88.3L259.6 85.7L256.8 86.1ZM344.6 232.7L341 233.5L341.6 236.3L345 235.5ZM362 273.3L356 273.7L356.8 276.5L362.4 276.1ZM356 299.4L357 289.3L354 282.3L348 280.9L348 282.4L343.6 280.3L344.6 275.3L350 269.3L348.6 265.2L340.6 262.2L330.5 260.2L328.5 256.2L334.5 247.2L339.6 240.7L338.6 239.1L334.5 243.2L328.5 250.2L322.5 258.2L320.5 262.2L318.5 258.2L315.5 260.2L316.5 265.2L317.5 271.3L313.5 276.3L308.4 280.3L300.4 284.3L290.4 286.3L280.3 286.3L270.3 284.3L266.3 280.3L260.2 278.3L256.2 281.3L250.2 283.3L246.2 280.5L240.2 281.3L230.1 284.3L226.1 285.3L222.1 282.3L216.1 277.3L210 270.3L204 265.2L202.6 264.5L202.6 263.6L200.1 263.3L198 262.2L198 263L190.6 262L180.5 260.4L172.5 259.6L165.5 259.6L161.4 262.2L156.4 264.6L148.4 265.6L140.4 266.2L130.3 267.2L121.3 267.7L119.3 265.2L116.3 268.9L110.2 272.3L100.2 274.3L91.2 276.9L85.7 278.9L86.1 281.9L91.2 282.3L100.2 280.5L110.2 278.1L120.3 275.7L129.3 273.7L136.3 272.9L139.8 274.7L138.4 276.9L130.3 278.7L120.3 280.3L110.2 282.9L99.2 286.3L90.2 290.9L82.1 294.4L72.1 299L62 297L58.5 296.8L57.6 300.1L56.6 304L55.7 308L54.7 311.9L53.9 315.9L53.1 319.9L52.3 323.9L51.6 327.9L50.9 331.9L50.3 335.9L49.7 339.9L49.3 343.2L60 343.6L69.1 345.6L70.9 348.2L72.5 358.2L103.1 358L105.5 371.2L105.2 368.1L106.6 375.1L103.4 381.1L104.6 387.1L107.4 395.2L108.6 405.2L108.6 417.2L104.2 419.7L98.2 421.7L90.2 425.3L84.5 430.3L86.1 433.7L96.2 432.3L106.2 429.7L110.2 425.3L118.3 424.3L125.3 427.7L134.3 433.7L141.4 440.9L146 444.6L154.4 439.7L162.4 441.7L169.5 444.4L180.5 449.4L182.9 455.4L190.6 459.8L198 462.7L198 463.8L194.6 464.4L196.6 469.1L198 469.1L198 473.5L206 475.5L212 473.5L220.1 475.5L230.1 473.5L240.2 471.5L248.2 473.5L250.2 465.4L252.2 457.4L256.2 451.4L262.2 445.4L264.3 439.3L258.2 437.3L255.2 433.3L258.2 427.3L264.3 423.3L267.3 417.2L266.3 409.2L260.2 408.2L250.2 410.2L240.2 414.2L232.1 415.2L220.1 415.2L216.1 413.2L219.1 409.2L226.1 405.2L232.1 401.2L234.1 391.1L239.2 385.1L241.2 379.1L248.2 374.1L254.2 375.1L260.2 381.1L264.3 389.1L269.3 392.1L268.3 398.2L272.3 402.2L278.3 398.2L280.3 392.1L286.3 388.1L292.4 385.1L300.4 385.1L304.1 386.3L299.4 387.1L295.4 392.1L298.4 398.2L296.4 404.2L292.4 408.2L288.4 411.2L286.3 415.2L283.3 417.2L282.2 419.5L283.3 423.3L286.3 429.3L292.4 430.3L295.4 423.3L298.4 415.2L304.4 409.2L309.4 402.2L312.4 395.2L311.4 389.1L309.4 388.1L311.4 383.1L307.4 381.4L309.3 381.4L310 379.7L312.4 380.1L314.5 375.1L310.4 369.1L302.4 371.1L302.4 371.2L298.8 370.7L304.4 366L310.4 367L314.5 361L313.6 357.6L322.4 357.6L322.5 358.9L326.4 362.5L331.8 361L332.8 354.6L327.5 351.4L323.8 352.9L324.5 349.6L320.5 344L319 343.6L317.8 340.7L311.4 341.8L311.5 342.9L308.4 346L305 347.7L300.7 348.2L294.4 351.4L294.4 349.6L298.4 345.6L308.4 341.5L314.5 335.5L316.5 329.5L320.5 322.5L330.5 317.4L340.6 316.4L352.6 313.4L352.6 306.2ZM214.1 457.4L206 451.4L202.6 450.5L202.6 444.9L204 445.4L212 451.4L220.1 455.4L225.1 459.4L222.1 463.4L215.7 464.2L218.1 463.4ZM103.1 357.6L103.7 357.6L103.9 359.7ZM292.5 357.6L290.4 363L291.4 357.6ZM292.4 369.1L297.8 370.9L290 372.8L290.7 375.4L288.4 375.1L286.7 371.1L290.4 363ZM239.2 288.3L230.1 288.5L227.1 286.9L232.1 285.7L240.2 286.3ZM296.4 333.5L294.4 338.5L290.4 335.5L289.4 330.5L293.4 328.5ZM268.3 331.5L271.3 333.5L268.3 339.5L262.2 345.6L258.2 343.6L255.8 338.5L260.2 335.5ZM226.1 361.4L225.1 364L218.1 364.6L213.1 365L212 362.6L220.1 361ZM200.6 387.1L200.6 398.2L195.6 399.2L192.6 391.1L193 381.1L198.6 380.1ZM183.5 394.2L184.5 397.6L176.5 397.2L169.5 396.2L168.5 393.2L174.5 391.7ZM188.6 408.2L187.6 412.8L180.5 413.2L178.5 407.6L183.5 405.2ZM176.5 419.3L175.5 422.3L172.5 419.3L169.7 409.6L172.5 409.2ZM184.9 429.7L182.9 431.3L180.5 427.3L179.5 421.3L182.1 420.9ZM325.3 366.4L322.1 363.2L315.7 364.3L316.8 368.1L322.1 369ZM319.6 376.3L324.3 375.4L323.2 371.1L317.8 371.8ZM333.9 379.3L336 373.9L332.8 369.6L326.4 370.7L326 375.4L328.5 379.7ZM56 401.6L59 398.2L58.4 392.1L54 388.1L48 387.1L48 400.2ZM286.3 409.2L291.4 408.2L290.4 404.2L285.3 405.2ZM317.8 426.4L313.6 430.6L309.3 433.9L310.3 437.1L305 442.4L300.7 447.8L295.4 454.2L291.1 460.6L288.9 467L290 473.5L293.2 475.6L298.6 472.4L305 469.2L311.4 467L317.8 464.9L326.4 463.8L332.8 462.8L339.3 461.7L345.7 459.6L347.8 456.3L352.1 452.1L355.3 446.7L354.2 441.3L358.5 437.1L360.7 432.8L363.9 427.4L368.2 422.1L370.9 417.8L367.1 414.6L362.8 412.4L363.9 409.2L361.7 404.9L354.2 404.9L345.7 403.9L340.3 401.7L336.9 399.2L341.4 400.7L347.8 399.6L352.1 396.4L351 391L346.7 385.7L341.4 381.4L332.8 381L325.3 383.5L317.8 384.6L317.4 388.9L321 392.1L325.3 393.2L329.6 396.4L335 398.5L335.3 398.6L329.6 399.6L325.3 403.9L324.3 408.2L325.3 413.5L326.4 418.9L322.1 423.1ZM67.1 429.3L66.1 439.3L65.1 450.4L67.1 449.4L69.1 439.3L71.1 429.3L70.1 421.3L64.1 414.2L61 413.2L61.6 416.2L65.1 421.3ZM65.1 458.4L60 459.4L61 469.5L64.1 471.5L66.1 467.4ZM345.7 475.6L339.3 476.7L336 479.9L338.2 485.2L343.5 488L351 486.3L354.2 482L352.1 477.8ZM232.1 493.6L236.1 487.5L238.2 480.5L234.1 476.5L226.1 475.5L222.1 479.5L223.1 485.5L226.1 489.5L228.1 495.6ZM367.1 537.1L366.1 542.1L368.1 544.2L363.7 547.6L361 551.6L365.1 547.6L370.1 546.4L376.1 544.4L380.1 542.3L381.6 539.2L380.7 536.4L380.5 534.2L380.1 533.1L376.1 529.1L374.1 523.1L371.1 517L366.1 516L363.1 521.1L365.1 527.1L364.1 533.1ZM355 531.1L351 535.1L352 542.1L357 543.2L362 540.1L364.1 534.1L361 530.1ZM270.3 584.5L269.9 582.9L267.9 582.3L268.3 584.1ZM312.9 655.6L311.4 654L308.8 655.2L310 656.8ZM515.1 209L512 215L515.1 219.1L520.1 216L526.1 211L534.1 212L540.2 214L548.2 213L554.2 209L554.8 207.6L555.2 207.6L555 207L556.2 204L549.4 204L546.2 203.6L540.2 202.6L537.1 198L530.1 197.6L524.1 203.6L523.6 205.6L522.1 206ZM572.3 221.1L578.3 217L579.3 212L573.3 210L566.3 211L560.2 208L554.2 212L558.2 214.6L564.3 215L567.3 220.1ZM498 217.3L492.6 217L491.6 220.3L495 224.3L498 226L498 229.1L504 228.1L510.4 225.1L506 218.1L498 217ZM638.6 224.1L631.5 226.1L634.5 230.1L643.6 229.5L644.6 226.1ZM475.5 261.2L480.5 253.2L483.5 247.2L488.6 241.1L492.6 235.1L493.6 230.1L490.6 232.1L484.5 239.1L478.5 245.2L474.5 255.2L470.5 263.2L471.5 264.8ZM374.5 308.6L379.3 308.2L379.1 305L374.1 305.4ZM418.9 334.5L421.5 333.9L421.1 328.5L418.3 328.9ZM420.3 337.5L416.3 333.5L412.2 335.5L413.3 339.5L418.3 341.5ZM415.3 383.1L420.3 382.1L424.7 378.1L426.3 373.1L422.3 372.1L418.3 375.1L414.3 379.1ZM412.7 404.2L411.2 399.6L407.2 401.2L410.2 406.8ZM405.8 412L409.4 411.2L408.6 408L405.2 408.8ZM427.3 405.2L427.3 410.2L428.3 416.2L430.3 423.3L433.3 428.3L438.4 431.3L443.4 430.9L444 428.3L439.4 425.3L434.3 421.3L431.9 415.2L432.3 409.2L430.3 403.2ZM399.2 434.3L397.2 430.3L399.2 424.3L396.2 420.3L390.2 421.3L386.1 425.3L388.2 430.3L391.2 435.3L395.2 437.3ZM314.5 661.7L306.4 667.7L298.4 675.7L290.4 683.3L284.3 692.4L285.1 702.5L285.7 702.7L289.6 703.8L293.6 704.9L297.5 705.9L301.5 706.8L305.4 707.8L309.4 708.6L313.4 709.4L317.4 710.2L321.4 710.9L325.4 711.6L329.4 712.2L333.4 712.8L337.4 713.3L341.5 713.8L345.5 714.2L349.6 714.6L353.6 714.9L357.7 715.2L361.7 715.4L365.8 715.6L369.9 715.7L373.9 715.8L378 715.8L382.1 715.8L386.1 715.7L390.2 715.6L394.3 715.4L398.3 715.2L402.4 714.9L406.4 714.6L410.5 714.2L414.5 713.8L418.6 713.3L422.6 712.8L426.6 712.2L430.6 711.6L434.6 710.9L438.6 710.2L442.6 709.4L446.6 708.6L450.6 707.8L454.5 706.8L458.5 705.9L462.4 704.9L466.4 703.8L470.3 702.7L474.2 701.5L478.1 700.3L481.9 699.1L485.8 697.8L489.6 696.4L493.4 695L497.2 693.6L501 692.1L504.8 690.6L508.5 689L512.3 687.4L516 685.7L519.6 684L523.3 682.2L527 680.4L530.6 678.6L534.2 676.7L537.7 674.7L541.3 672.8L544.8 670.7L548.3 668.7L551.8 666.6L555.2 664.4L558.7 662.2L562.1 660L565.4 657.7L568.8 655.4L572.1 653L575.4 650.6L578.6 648.2L581.8 645.7L582.5 645.1L576.3 643.6L568.3 635.5L558.2 629.5L548.2 625.5L539.2 621.5L536.1 616.4L544.2 615.4L554.2 620.5L564.3 625.5L574.3 629.5L580.3 633.5L588.4 633.5L585.2 643L588.2 640.6L591.3 638L594.4 635.4L597.5 632.7L600.5 630L603.5 627.2L606.4 624.4L609.4 621.6L612.3 618.8L615.1 615.9L617.9 612.9L620.7 610L623.5 607L626.2 604L628.9 600.9L631.5 597.8L634.1 594.7L636.7 591.5L639.2 588.3L641.7 585.1L644.1 581.9L646.5 578.6L648.9 575.3L651.2 571.9L652.6 569.8L652.6 547.4L650.2 543.2L646.2 544.2L640.2 551.2L634.1 553.2L628.1 548.2L625.1 545.2L627.1 541.1L634.1 535.1L640.2 527.1L643.2 517L643.2 503L663.6 503L665.3 501.6L668.3 496.6L670.7 491.9L673.3 495.6L680.7 494L685.9 489.1L684.3 482.5L679.3 479.1L694.4 475.5L694.4 482.8L695 480.7L696.2 476.8L697.3 472.9L698.4 468.9L699.4 465L700.3 461L701.3 457.1L702.1 453.1L702.9 449.1L703.7 445.1L704.4 441.1L705.1 437.1L705.7 433.1L706.3 429.1L706.8 425.1L707.3 421L707.7 417L708.1 412.9L708.4 408.9L708.7 404.8L708.9 400.8L709.1 396.7L709.2 392.6L709.3 388.6L709.3 384.5L709.3 380.4L709.2 376.4L709.1 372.3L708.9 368.2L708.7 364.2L708.4 360.1L708.1 356.1L707.7 352L707.3 348L706.8 343.9L706.3 339.9L705.7 335.9L705.1 331.9L704.4 327.9L703.7 323.9L702.9 319.9L702.1 315.9L701.3 311.9L700.3 308L699.4 304L698.4 300.1L697.3 296.1L696.2 292.3L694.4 292.3L686.3 287.3L680.3 284.3L680.3 278.3L685.3 274.3L680.3 271.3L670.3 263.2L664.3 256.2L658.2 248.2L650.2 244.2L640.2 241.1L630.1 239.1L620.1 242.8L620.3 242.8L612.4 246.2L609.4 243.6L604.4 244.2L600.4 251.2L594.4 259.2L588.4 263.2L582.3 265.2L578.3 260.2L574.3 259.2L576.3 265.2L580.3 267.2L584.3 269.3L582.3 277.3L577.3 280.3L576.3 275.3L569.3 274.3L566.3 272.3L570.3 271.3L568.3 267.7L561.2 265.2L559.2 260.2L560.2 256.2L565.3 253.2L564.3 248.2L568.3 245.2L570.3 241.1L576.3 237.1L573.3 233.1L566.3 231.1L560.2 235.1L557.2 241.1L552.2 249.2L542.2 248.2L534.1 247.2L526.1 242.1L518.1 241.1L510 244.2L502.6 244.8L502.6 243.2L500 243.2L490.6 248.2L482.5 255.2L475.5 261.2L478.5 265.2L481.5 275.3L476.5 277.7L466.5 279.7L456.4 280.9L450.4 278.3L444.4 273.3L438.4 268.9L434.3 270.3L426.3 274.9L420.3 273.3L419.3 269.3L413.3 267.2L418.3 264.2L424.3 261.2L432.3 258.2L436.3 253.2L440.4 245.2L443.4 237.1L444.4 231.1L440.4 232.1L434.3 237.1L424.3 242.1L419.3 248.2L419.3 253.2L416.3 259.2L410.2 265.2L407.2 262.8L400.2 261.2L390.2 266.2L382.1 271.3L377.1 279.7L372.1 281.3L366.1 277.7L361 285.3L362 288.3L370.1 290.3L376.1 293.4L384.1 297.4L392.2 299.4L396.2 302.4L404.2 305.4L408.2 311.4L414.3 314.4L418.3 321.5L425.3 327.5L429.3 325.5L434.3 331.5L438.4 335.5L436.3 343.6L433.3 349.6L434.6 353L433.3 353L430.3 361L427.3 367L429.3 373.1L436.3 375.1L438.4 383.1L439.4 391.1L444.4 395.2L450.4 394.2L452.4 401.2L446.4 405.2L442.4 407.2L446.4 411.2L454.4 413.2L462.4 409.2L468.5 411.2L470.5 415.2L464.5 416.2L458.4 419.3L450.4 425.3L450.4 431.3L451.4 435.3L448.4 437.3L446.6 440L444.5 440L444.4 438.9L441.4 439.3L441.5 440L440.6 440L442.6 447.9L444.9 447.5L446 455L442.8 461.4L444.9 467.8L440.6 470L436.4 465.7L435.3 461.4L435.8 460.9L432.1 457.1L434.2 452.8L429.9 449.6L423.5 450.7L418.2 452.8L413.9 453.9L408.5 458.2L404.2 463.6L401 470L399.2 473.7L398.9 474.3L397.8 480.7L396.1 486L393.5 493.5L390.3 497.8L388.2 503.1L388.2 503.2L388.8 509.6L391.4 514.9L395.7 517.1L400 514.9L404.2 511.7L404.5 512.2L406.4 514.9L408.5 521.4L411.7 525.7L414.9 524.6L418.2 519.2L417.3 515L417.1 513.9L419.1 509.8L419.2 509.6L418.2 504.2L415.3 501.4L414.3 501.6L413.3 495.6L414.4 491L414.9 487.1L415.5 486L416.3 481.5L417.3 477.5L420.3 476.5L420.8 478.3L421.8 479.6L421.6 480.7L421.9 481.5L421.1 485.6L422.4 491.4L424.6 496.1L429.9 494.6L434.2 490.5L439.1 488.9L438.4 487.5L439.1 487.3L438.9 486.7L443.9 486L444.9 490.3L444.3 490.5L444.4 490.5L443.9 490.7L444.9 491.4L440.6 494L439.5 494.7L440.4 495.6L434.3 499.6L431.8 499.9L429.9 501L426.7 504.2L427.3 507.6L439.8 507.6L438.4 509L434.3 513L431.8 515.5L429.9 520.3L429.2 521.1L428.3 524.1L425.7 524.5L425.7 524.6L419.7 526.8L416.3 529.1L410.9 530.9L410.7 531L410.7 531L410.2 531.1L406.5 532.9L408.8 531.2L404.5 532L406.4 527.8L405.3 521.4L402.1 518.2L398.9 519.7L398.3 524.9L398.2 525.1L398.3 525.3L398.2 525.7L401 531L401.2 531.1L401.2 531.1L401.4 531.2L404.2 532.5L404.3 532.3L406.1 533.1L405.2 533.5L400.2 537.5L393.2 543.2L387.1 548.4L382.1 554.2L376.1 559.6L370.1 562L364.1 563.2L368.1 567.7L372.1 571.7L374.1 579.3L371.1 584.3L362 585.3L352.6 584.2L352.6 582.3L348.3 583.7L348 583.7L348 583.8L346.6 584.3L344.6 593.4L340.6 605.4L341.6 609.4L346.6 611.4L348 611.9L348 614.4L354 613.4L362 611L370.1 609.4L378.1 605.4L383.1 601.4L389.2 595.4L392.2 587.3L398.2 584.3L404.2 582.3L410.2 580.9L416.3 574.3L419.3 574.3L420.3 578.3L423.3 582.3L428.3 587.3L433.3 592.3L436.3 598.4L435.4 605.9L434.3 605.4L427.3 607L429.3 610.4L437.3 611.4L439.4 607.8L438.9 607.6L440.4 605.4L438.8 598.4L441.4 593.4L446.4 593.4L444.4 590.3L436.3 583.7L430.3 578.3L427.3 574.3L430.3 575.3L434.3 579.3L442.4 584.3L448.4 587.3L454.4 592.3L460.4 596.4L463.5 601.4L468.5 602.4L470.5 597.4L467.5 591.3L462.4 587.3L464.5 583.3L468.5 580.3L472.5 581.3L478.5 579.3L480.5 583.3L474.5 587.3L472.5 593.4L476.5 597.4L482.5 600.4L490.6 601.4L498 599.5L498 586.3L506 585.3L510 581.3L515.1 577.3L520.1 581.3L524.1 589.3L526.1 599.4L523.1 607.4L518.1 611.4L510 615.4L502 618.5L498 618.5L498 620L490.6 621.5L478.5 620.5L471.5 621.5L470.5 625.5L468.5 633.5L462.4 639.5L454.4 643.6L446.4 641.5L442.4 635.5L434.3 633.5L426.3 629.5L422.3 623.5L424.3 617.4L418.3 614.4L410.2 615.4L402.2 617.4L390.2 619.5L376.1 621.5L368.1 625.5L358 623.5L348 621.5L348 628.7L345.6 629.5L340.6 633.5L337.5 636.8L336.5 637.5L335.3 639.2L334.9 639.6L334.7 640L330.5 645.6L330.5 647.6L324.5 655.6ZM622.1 551.2L621.1 561.2L622.1 569.3L619.1 572.3L614.1 571.3L608.4 565.2L600.4 569.3L592.4 569.3L584.3 565.2L581.9 559.2L588.4 555.2L598.4 558.2L606.4 559.2L612 555.2L617.1 548.2L620.1 542.1L623.1 541.1L625.1 545.2ZM537.3 344L535.7 344.4L532.1 340.5L526.1 337.5L519.1 336.5L515.1 335.1L520.1 333.9L527.1 335.5L534.1 339.1ZM708.4 403.2L700.4 402.2L696.4 396.2L696.8 387.1L694.4 380.1L690.4 372.1L696.4 369.1L706.4 367ZM445.4 482L444.8 480.4L442.8 477.9L444 478.1L448.1 477.5L449.6 480.7L448.6 481L449.4 481.9L446.4 482.5L445.8 481.8ZM554.6 481.5L551.2 487.5L545.2 487.9L541.8 483.5L541.2 477.5L545.2 474.5L552.2 475.5ZM548.2 508L553.2 510L552.2 515L560.2 517L566.3 523.1L564.3 529.1L558.2 533.1L550.2 535.1L546.2 531.1L543.2 525.1L536.1 523.1L528.1 521.1L522.1 517L519.1 510L523.3 507.6L520.1 507.6L520.1 499.6L526.1 495.6L533.1 496.6L536.1 501.6L534.1 507.6L530.4 507.6L534.1 509L540.2 512ZM482.9 568.5L476.9 567.7L474.1 562.2L472.9 553.2L472.9 545.2L478.5 544.2L486.5 547.2L490.6 541.1L494.2 533.1L497.6 526.7L499.6 531.1L497.6 539.1L498 539.9L498 539.1L508 538.7L516.1 541.1L517.1 547.2L514.1 552.2L506 554.8L503 554.9L503 555.2L495 559.2L489 565.2ZM415.3 597.4L413.9 591.3L412.2 585.3L409.2 586.3L410.2 593.4L409.8 599.4L410.2 605.4L414.3 604.4ZM391.2 605.4L390.6 603L386.5 603.4L387.1 605.8ZM478.5 607.4L486.5 606.4L486.9 603.4L482.5 602.4L474.5 603.8L474.9 606.4Z"/>
<g id="grid" fill="none" stroke="#000" stroke-width="1.2" stroke-dasharray="4.7 4.4">
<circle cx="378" cy="384.5" r="61.7"/>
<circle cx="378" cy="384.5" r="125.6"/>
<circle cx="378" cy="384.5" r="194.1"/>
<circle cx="378" cy="384.5" r="270.6"/>
<path d="M378 712.8L378 384.5"/>
<path d="M542.1 668.8L408.9 437.9"/>
<path d="M662.3 548.7L431.4 415.4"/>
<path d="M706.3 384.5L378 384.5"/>
<path d="M662.3 220.4L431.4 353.6"/>
<path d="M542.1 100.2L408.9 331.1"/>
<path d="M378 56.2L378 384.5"/>
<path d="M213.8 100.2L347.1 331.1"/>
<path d="M93.7 220.3L324.6 353.6"/>
<path d="M49.7 384.5L378 384.5"/>
<path d="M93.7 548.7L324.6 415.4"/>
<path d="M213.8 668.8L347.1 437.9"/>
</g>
<g id="vectors" fill="none" stroke="#000" stroke-width="1.2" stroke-linecap="butt" stroke-linejoin="miter" stroke-miterlimit="6">
<path d="M156.4 142.3L168.3 138.5M164.3 137.3L168.9 138.3L165.8 141.9M178.5 147.8L194.4 143.1M189.2 141.4L195 143L190.9 147.4M149.4 180.5L167 163.8M161.6 164.7L167.5 163.4L165.9 169.2M179.5 181.9L192.4 178.1M188.1 176.6L193 177.9L189.6 181.6M116.3 201.6L132.3 186.3M126.9 187.2L132.7 185.9L131.1 191.7M104.2 205L106.9 201.1M104.3 201.9L107.2 200.6L107 203.8M127.3 230.1L133.7 214.6M129.1 217.6L133.9 214L134.8 220M104.2 249.6L110.4 233.3M105.9 236.4L110.6 232.7L111.7 238.6M81.7 274.9L90.3 252.1M85.8 255.3L90.6 251.6L91.6 257.5M62 294.4L69.5 272.2M65.1 275.6L69.7 271.7L71 277.5M130.3 259.2L137.9 252M134.5 252.5L138.4 251.6L137.3 255.4M109.8 283.7L119 266.8M114.1 269.3L119.3 266.2L119.6 272.2M92.6 307.4L99 287.5M94.7 290.9L99.2 286.9L100.6 292.8M136.7 295.8L143.7 284.8M139.6 286.5L144 284.3L143.9 289.2M71.1 328.5L77 305M72.9 308.6L77.1 304.4L78.9 310.1M119.3 319.1L124 309.9M121 311.5L124.3 309.4L124.5 313.3M147.4 328.5L148.7 322.1M146.6 323.8L148.8 321.5L149.9 324.5M176.1 329.5L175.5 322.1M174.1 324.3L175.5 321.5L177.4 324.1M62.4 355L65.6 332.5M61.9 336.6L65.7 331.9L68 337.4M101.8 343.6L101.2 330.1M98.8 333.9L101.2 329.5L104 333.7M129.3 355L129.3 344.2M127.2 347.1L129.3 343.6L131.4 347.1M161.4 352.6L162.3 348.6M160.3 350.3L162.4 348L163.5 351M166.9 299.4L167.4 296M165.4 297.8L167.5 295.4L168.7 298.3M194.6 303.4L194.9 299.6M193.1 301.6L195 299L196.4 301.9M159.4 272.3L160 265.8M158.2 267.8L160 265.2L161.4 268.1M187.6 267.2L191.2 262.1M188.6 262.9L191.6 261.6L191.3 264.8M186.5 238.1L189.2 234.6M186.6 235.3L189.6 234.1L189.2 237.3M155.4 236.1L159.6 232.5M156.9 232.7L160 232.1L159.1 235.2M172.5 210L182 205.3M178.5 204.7L182.5 205L180.4 208.4M56.4 388.1L56.4 360.6M53.3 365.2L56.4 360L59.5 365.2M83.1 400.8L81.2 377.7M78.5 382.5L81.1 377.1L84.6 382M88.6 373.1L87.8 353.6M84.9 358.3L87.8 353L91 358M77.1 428.9L71.2 407.4M69.5 412.6L71.1 406.8L75.4 411M63.1 457.4L59.7 431.5M57.2 436.4L59.6 430.9L63.4 435.6M100.6 443.4L94.4 423.8M92.8 429.1L94.2 423.3L98.7 427.2M109.2 419.3L107.3 397.4M104.6 402.2L107.2 396.8L110.8 401.6M129.3 434.9L123 422.2M122.3 427L122.7 421.7L127.2 424.5M90.2 470.5L83.3 447.9M81.7 453.2L83.1 447.4L87.6 451.4M75.7 498.6L67.8 469.6M66 474.8L67.7 469.1L72 473.2M114.3 487.1L102.9 466.4M102.4 471.8L102.6 465.8L107.8 468.9M97.2 505L91.4 489.7M90.1 495L91.2 489.1L95.9 492.8M132.3 461.4L123.7 452.2M124.3 456.4L123.3 451.8L127.9 453.1M144.4 495.6L133.1 481M133.4 486.5L132.7 480.5L138.3 482.7M160 466.4L150.6 463.2M152.5 465.9L150 463L153.7 462.2M171.5 496.6L161.9 488.3M162.9 492.5L161.4 487.9L166.1 488.7M159.4 436.9L152.9 431.3M153.5 434.1L152.4 430.9L155.7 431.5M140.4 403.6L133.1 396M133.6 399.5L132.7 395.6L136.6 396.6M164.5 411.2L165.4 404.2M163.5 406.1L165.5 403.6L166.7 406.5M118.3 380.1L116 372.6M115.1 375.2L115.9 372.1L118.2 374.2M146.4 376.7L144.5 370M143.5 372.5L144.4 369.5L146.7 371.7M178.5 382.1L175.4 379.8M176.2 382.4L174.9 379.5L178.1 379.8M199.6 410.2L192 404.6M192.9 407.5L191.6 404.2L195.2 404.6M192.6 361L190.8 355.6M189.9 358.1L190.6 355L193 357.1M186.5 465L182.1 464M183.8 466.1L181.5 463.8L184.6 462.9M188.6 437.3L186.9 434.8M186.7 437.5L186.5 434.3L189.4 435.7M118.3 504.6L117.4 501.2M116.3 503.6L117.3 500.6L119.5 502.8M200 493.6L197.1 491.9M198.1 494.4L196.6 491.5L199.8 491.5M136.7 541.1L123.8 530.5M125.3 535.8L123.3 530.1L129.2 531M109.2 545.2L96.8 518.6M96 524L96.6 518.1L101.6 521.4M120.3 572.3L107.5 543.3M106.5 548.7L107.2 542.8L112.1 546.2M136.3 599.4L119.6 572.8M119.4 578.3L119.3 572.3L124.6 575M158.4 522.7L148.8 512.5M149.5 517.2L148.4 512L153.5 513.5M187.6 521.1L187.6 515.2M185.9 517.4L187.6 514.6L189.2 517.4M168.5 547.2L164.4 540.1M164 542.7L164.1 539.5L166.9 541.1M197.6 546.2L196.4 542.7M195.5 545.3L196.2 542.1L198.6 544.2M148 569.7L135.1 554.7M135.7 560.1L134.7 554.2L140.4 556.1M183.5 576.3L177.8 563.8M176.9 568.4L177.5 563.2L181.8 566.1M159.4 596.4L151.1 578.2M150.2 583.7L150.8 577.7L155.8 581.1M195.6 599.8L189.8 589.5M189.4 593.4L189.6 588.9L193.4 591.2M178.5 623.5L161.2 603.4M161.9 608.9L160.8 603L166.5 604.9M195.6 648.6L174.6 634.8M176.7 639.9L174.1 634.5L180.1 634.7M201.6 118.9L223.1 109.5M217.7 108.4L223.7 109.2L220.2 114.1M229.1 110.2L252.1 100.4M246.7 99.4L252.6 100.2L249.1 105M258.6 102.8L280.8 94.4M275.4 93.1L281.3 94.2L277.6 98.9M290 81.1L310.2 83.1M306 79.5L310.8 83.1L305.4 85.7M322.9 88.7L338 85.3M333.1 83.3L338.6 85.1L334.4 89.1M284.3 111.6L302.8 112.2M298.4 109L303.4 112.2L298.2 115.2M316.1 114.2L327.9 114.4M324.7 112.1L328.5 114.4L324.6 116.7M231.1 136.9L248.6 132.5M243.4 130.6L249.2 132.3L245 136.6M259.8 132.3L276.7 131M271.9 128.2L277.3 130.9L272.4 134.4M207.6 145L220.5 142.5M216.4 140.7L221.1 142.3L217.4 145.6M288 141.7L300.8 141.4M297.2 139L301.4 141.3L297.3 144M316.5 143.4L330.9 143.7M327 140.8L331.5 143.8L326.8 146.4M267.3 161.4L277.3 160.5M274.4 158.8L277.9 160.4L274.8 162.7M237.1 164.4L250.6 166.4M247.2 163.2L251.2 166.4L246.5 168.4M209 174.5L220.5 174.5M217.4 172.2L221.1 174.5L217.4 176.7M297.4 169.1L302.8 170.3M301.1 168.2L303.4 170.5L300.4 171.4M330.5 167.4L336.1 172.1M335.5 169.4L336.5 172.5L333.4 172M257.2 186.5L265.7 189.7M264.1 187.2L266.3 189.9L262.8 190.6M229.1 198L235.2 195.4M232.6 194.7L235.7 195.2L233.9 197.7M316.9 189.1L313.7 196M316.1 194.8L313.5 196.6L313.1 193.4M285.3 198.6L288.8 199.8M287.3 197.5L289.4 200L286.2 200.6M341.6 198L344.1 199.6M343.2 197.1L344.6 200L341.4 199.8M202.4 216.6L211.2 209.8M207.5 209.9L211.6 209.4L210.1 213.4M229.7 228.1L238 223.4M234.9 223L238.6 223.1L236.8 226.3M209 250.2L216 245.1M213.2 245.1L216.5 244.8L215.2 247.8M236.5 257.6L244.1 252.9M241.2 252.7L244.6 252.6L243 255.6M260.2 218.7L264.1 219.9M262.5 217.7L264.7 220.1L261.5 220.8M266.3 250.8L270.1 252.2M268.7 249.9L270.7 252.4L267.5 253M288.4 231.1L288 226.7M286.5 228.9L288 226.1L289.8 228.7M322.5 216.6L312.4 229.6M317.6 227.9L312 230.1L312.8 224.1M350 226.1L341.1 230.4M344.3 231L340.6 230.7L342.6 227.5M329.5 246.2L321.5 256.1M325.6 254.9L321.1 256.6L321.8 251.8M300.4 250.8L294.2 263.1M298.3 260.9L294 263.6L293.6 258.5M273.3 278.3L268.9 288.8M272.1 286.8L268.7 289.3L268.1 285.1M300.4 279.7L297 290.4M300 288.1L296.8 290.9L295.8 286.8M240.2 284.9L242.7 287M242.1 284.3L243.2 287.3L240 286.9M328.5 278.9L325.3 282.5M328 282L324.9 282.9L325.5 279.8M214.1 282.3L215.1 279.5M212.8 280.9L215.3 278.9L215.9 282M226.5 307.4L221.6 310.1M224.3 310.5L221.1 310.4L222.7 307.6M255.2 303.8L254.3 317.9M257.2 314.1L254.2 318.5L251.8 313.7M284.3 305.4L280.5 318.9M284.2 315.9L280.3 319.5L279 314.4M310 307.8L311.8 310.9M312.2 308.2L312 311.4L309.3 309.8M336.9 307.8L338.3 310.9M338.9 308.2L338.6 311.4L335.9 309.6M208 333.5L204.4 329M204.4 331.7L204 328.5L207 329.6M242.2 329.5L237.4 338.6M240.5 337.1L237.1 339.1L236.9 335.2M268.3 333.5L264.4 350M268.4 346.3L264.3 350.6L262.4 344.9M292.8 333.5L294.3 343M295.7 340.2L294.4 343.6L292 340.8M324.1 337.9L321.1 337.3M322.8 339.3L320.5 337.1L323.5 336.1M350.6 339.1L348 336.9M348.6 339.6L347.6 336.5L350.7 337.1M223.7 359L219.5 355.4M220.1 358L219.1 355L222.2 355.6M248.6 357L248.6 370.1M251.1 366.4L248.6 370.7L246.1 366.4M279.7 363L279.7 373.5M281.8 370.7L279.7 374.1L277.7 370.7M307.4 364L306.2 369.5M308.3 367.8L306 370.1L305 367M333.5 366L334.5 367M334.2 364.3L334.9 367.4L331.8 366.7M209 384.1L204 378.5M204.2 381.2L203.6 378.1L206.7 379M236.1 389.1L233.7 388.8M235.6 390.7L233.1 388.7L236.1 387.5M261.2 384.7L264.5 398.6M266.3 394.1L264.7 399.2L260.9 395.3M290.8 385.1L297.5 398.6M298.2 393.5L297.8 399.2L293 396.1M323.5 390.1L324 395M325.4 392.7L324.1 395.6L322.2 393M227.1 416.2L224.5 414M225.1 416.7L224.1 413.6L227.2 414.2M258.2 420.3L253.8 419.7M255.7 421.6L253.2 419.7L256.1 418.3M281.3 409.2L287.2 427.1M288.7 421.8L287.3 427.7L282.8 423.8M310 414.2L317.1 422.2M316.7 418.7L317.5 422.7L313.6 421.4M342.2 413.2L348.6 422.4M348.7 418.6L349 422.9L345.1 421.2M219.1 444.4L213.6 440.7M214.4 443.2L213.1 440.3L216.2 440.5M246.2 446.4L242.6 443.3M243.2 446L242.2 443L245.3 443.5M280.3 443.4L271.8 446.7M274.7 447.5L271.3 447L273.4 444.2M302 440.9L303.8 447.2M304.8 444.7L304 447.8L301.7 445.6M332.1 439.3L337.8 447.9M338 444.5L338.2 448.4L334.6 446.7M217.1 470.5L213.6 469.9M215.5 471.9L213.1 469.9L216 468.6M248.2 476.5L244.2 471.5M244.2 474.2L243.8 471.1L246.8 472.1M277.3 472.5L276.5 474.5M278.8 473.1L276.3 475.1L275.8 471.9M310.4 467L305.7 475M308.5 473.8L305.4 475.5L305.4 471.9M336.5 467L338.4 474.9M339.5 472.4L338.6 475.5L336.3 473.2M228.1 498L225.7 497.3M227.3 499.5L225.1 497.2L228.2 496.3M262.2 498L260.8 498.9M263.4 499.2L260.2 499.2L261.7 496.4M296 493.2L293.6 498M296 496.8L293.4 498.6L293.1 495.4M331.5 494L330.6 501.4M332.5 499.5L330.5 502L329.2 499.1M220.1 523.5L224 526.3M223.2 523.7L224.5 526.7L221.3 526.4M249.2 525.1L252.7 523M250 522.7L253.2 522.7L251.7 525.5M279.3 518.7L280.9 520.2M280.6 517.6L281.3 520.7L278.2 519.9M309.4 514.6L309.4 521.5M311.1 519.3L309.4 522.1L307.8 519.3M347.6 517.4L347.6 522.1M349.2 519.9L347.6 522.7L345.9 519.9M231.1 553.2L233.3 554.8M232.6 552.2L233.7 555.2L230.6 554.8M262.2 551.2L262.2 547.8M260.6 549.9L262.2 547.2L263.9 549.9M294.4 545.2L291.7 541.6M291.7 544.3L291.4 541.1L294.3 542.4M330.5 540.7L324.7 539.3M326.4 541.4L324.1 539.1L327.2 538.2M212 572.9L206.9 568.1M207.3 570.7L206.4 567.7L209.6 568.3M255.2 576.3L251.2 574.5M252.5 576.9L250.6 574.3L253.8 573.9M278.7 569.7L286.2 573M284.9 570.6L286.7 573.3L283.6 573.7M310 566.2L315.5 564.4M312.9 563.5L316.1 564.2L314 566.7M343 562.8L349.4 561.4M347 560.2L350 561.2L347.7 563.4M230.5 595.8L224.5 587.8M224.5 591.1L224.1 587.3L227.6 588.7M274.7 603L262.8 597.2M265 601.1L262.2 597L267.2 596.5M300.8 599.8L294.5 595.7M295.4 598.2L294 595.4L297.2 595.5M326.5 593.8L323.9 591.4M324.4 594L323.5 590.9L326.6 591.6M215.1 625.1L200.5 612.8M202 618.1L200 612.4L205.9 613.4M247.8 623.1L233.6 611.8M235.2 617L233.1 611.4L239.1 612.2M291.4 632.5L273.2 620.8M275.3 625.8L272.7 620.5L278.7 620.7M318.9 629.1L306.8 615.9M307.6 621.3L306.4 615.4L312.2 617.2M344.2 615.8L339.5 612.8M340.3 615.3L339 612.4L342.2 612.6M233.1 648.6L217 638.3M219.1 643.3L216.5 637.9L222.5 638.1M264.3 651.2L248.6 635M249.5 640.4L248.2 634.5L254 636.1M300 655L288.9 647.5M290.5 651.7L288.4 647.2L293.4 647.4M331.5 651.6L318 647.3M321 651.1L317.5 647.2L322.6 645.9M246.2 681.7L218.9 659.2M220.5 664.5L218.5 658.8L224.4 659.7M275.3 675.7L255.7 662M257.7 667.1L255.2 661.7L261.2 662.1M298.4 697.4L268.4 686M271.6 690.5L267.9 685.8L273.8 684.7M324.5 684.3L301.3 669.2M303.4 674.3L300.8 668.9L306.8 669.1M350 700.4L316.7 693.9M320.5 697.8L316.1 693.8L321.7 691.7M364.5 69.5L391.2 67.5M386.4 64.7L391.8 67.4L386.9 70.9M395.8 73.5L418.3 75.4M414 72L418.9 75.5L413.5 78.1M424.7 80.7L445.4 86M441.8 81.9L446 86.1L440.2 87.8M450.4 63.4L477.9 71.9M474.5 67.6L478.5 72.1L472.7 73.5M474.5 84.1L494.4 89.4M490.8 85.2L495 89.5L489.2 91.2M348 92.1L369.1 87.3M364 85.3L369.7 87.1L365.4 91.3M378.1 93.2L394.6 95.1M390.4 91.5L395.2 95.2L389.7 97.6M405.2 103.2L420.7 108M417.3 103.7L421.3 108.2L415.5 109.6M444.4 101.6L463.9 106.7M460.3 102.5L464.5 106.8L458.7 108.5M476.1 108.8L493.1 119.3M490.8 114.3L493.6 119.7L487.6 119.6M348 120.3L359.8 118.9M356.3 117L360.4 118.9L356.9 121.6M375.1 123.3L388.6 124.2M385 121.4L389.2 124.3L384.6 126.6M427.3 120.9L443.8 128.6M441 123.9L444.4 128.9L438.4 129.5M401.2 131.7L417.3 137.5M414.1 133.1L417.9 137.7L412 138.9M452.8 134.3L470.9 139.6M467.4 135.3L471.5 139.7L465.7 141.3M348 149L356.4 147.9M354 146.5L357 147.8L354.5 149.8M380.1 150.4L389.6 152.8M387.5 150.3L390.2 153L386.6 154M427.3 151L439.4 156.2M437.1 152.4L440 156.4L435.1 157.1M402.6 164.4L414.7 169.6M412.4 165.8L415.3 169.9L410.4 170.5M470.1 162.4L484.4 165.3M480.9 161.8L484.9 165.4L479.8 167.3M360.4 172.5L361.8 175M362.2 172.3L362 175.5L359.3 173.8M445.4 176.5L452.2 177M450.2 175.2L452.8 177.1L449.9 178.5M387.1 185.1L386.6 189.3M388.5 187.4L386.5 189.9L385.3 187M422.7 192.6L419.9 191.7M421.4 193.9L419.3 191.5L422.4 190.7M478.5 190.5L487.6 193.4M485.7 190.8L488.2 193.6L484.6 194.4M456.4 204.6L455.7 203.1M455.2 205.8L455.4 202.6L458.1 204.3M374.1 207L366.2 210.4M368.9 211.1L365.7 210.6L367.6 207.9M400.2 212L394.7 215.1M397.4 215.5L394.2 215.4L395.8 212.7M428.3 219.1L425.3 219.1M427.4 220.7L424.7 219.1L427.4 217.4M372.5 235.1L373.8 237.6M374.3 234.9L374.1 238.1L371.4 236.5M399.2 241.5L400.3 243.6M400.8 241L400.6 244.2L397.9 242.5M430.3 245.2L430 247M432 245.1L429.9 247.6L428.7 244.6M456.4 232.1L456.1 230.7M454.9 233.1L456 230.1L458.2 232.5M488.6 219.5L484.7 219.5M486.9 221.1L484.1 219.5L486.9 217.8M469.5 257.6L465.5 257.6M467.6 259.3L464.9 257.6L467.6 256M495.6 248.2L494.8 246.7M494.3 249.4L494.6 246.2L497.3 247.9M357 259.6L350.6 259.3M352.6 261L350 259.2L352.8 257.7M377.7 272.9L381 267.4M378.5 268.4L381.3 266.8L381.3 270M409.2 267.2L410.1 269.7M410.9 267.1L410.2 270.3L407.8 268.2M444.4 274.3L435.9 271.5M437.6 273.9L435.3 271.3L438.7 270.5M354 288.3L354.9 284.9M352.8 286.6L355 284.3L356 287.4M394.6 291.7L391.7 293.5M394.4 293.8L391.2 293.8L392.7 290.9M426.3 291.7L418.4 297M421.5 297.2L417.9 297.4L419.4 294.1M459.4 300.4L449.3 296M451.2 299.2L448.8 295.8L452.9 295.2M481.5 282.9L478.1 282.4M480 284.3L477.5 282.3L480.5 281.1M488.6 317.4L483.7 304.4M482.6 308.9L483.5 303.8L487.6 307.1M369.1 311L366.2 312.2M368.8 312.9L365.7 312.4L367.6 309.9M412.2 314.4L396.7 325.1M402.2 325.1L396.2 325.5L398.7 320M441.4 318.5L425.9 321.4M430.8 323.5L425.3 321.5L429.7 317.6M468.5 329.1L457.9 320.8M459.2 325.2L457.4 320.5L462.4 321.1M489.6 345.6L484.3 331.1M483 336.2L484.1 330.5L488.6 334.1M381.1 331.5L374.4 343M378.5 341.1L374.1 343.6L374 338.5M421.3 341.9L411.8 347.7M415.5 348L411.2 348L413.2 344.3M450.4 347.6L438.9 343.4M441.3 346.7L438.4 343.2L442.9 342.3M391.2 355L388.3 368.1M391.6 365L388.2 368.7L386.6 363.9M415.3 368.7L415.8 374.9M417.3 372.6L415.9 375.5L414 372.9M450.4 378.7L443.1 369.1M443.3 373.2L442.8 368.7L447 370.3M472.5 367.4L469.6 355.6M468.1 359.4L469.5 355L472.7 358.3M498.6 393.2L494.7 375.7M492.7 380.8L494.6 375.1L498.7 379.4M377.7 384.1L378.1 394.6M380 391.7L378.1 395.2L375.9 391.8M403.2 388.7L403.4 404.2M406.3 399.8L403.4 404.8L400.4 399.9M430.3 395.2L431.1 397M431.8 394.4L431.3 397.6L428.7 395.7M468.5 392.8L471.3 385.3M469 386.7L471.5 384.7L472.1 387.9M377.7 411.2L378.5 422.7M380.5 419.4L378.5 423.3L376 419.7M401.2 422.3L405.6 433.2M406.5 429.3L405.8 433.7L402.3 431M452.4 414.8L460.9 413.7M458.4 412.3L461.4 413.6L458.9 415.7M482.9 419.3L486.6 414.1M484 414.9L486.9 413.6L486.7 416.8M429.3 423.3L432.2 425M431.2 422.5L432.7 425.3L429.5 425.3M454.8 443.4L460.9 444.8M459.2 442.7L461.4 445L458.4 445.9M378.1 447.4L379 450.4M380 447.9L379.1 451L376.8 448.8M402.6 451.8L405.1 460.4M406.1 457.7L405.2 461L402.7 458.7M428.7 452.4L434.8 455.2M433.5 452.8L435.3 455.4L432.2 455.8M480.1 459.8L483.8 454.3M481.2 455.2L484.1 453.8L484 457M455.4 475.9L461.1 468.9M458.2 469.6L461.4 468.5L461 471.9M403.2 485.5L404.8 483.9M402.1 484.3L405.2 483.5L404.4 486.6M430.7 487.9L436.3 481.9M433.7 482.4L436.7 481.5L436.1 484.6M480.9 487.5L489.1 482.2M485.9 482L489.6 481.9L487.9 485.2M442.4 495.6L443.7 498.6M444.4 496L444 499.2L441.4 497.3M460.8 504.6L471 498.9M467.1 498.5L471.5 498.6L469.3 502.4M380.1 503.6L383.6 504.5M381.9 502.3L384.1 504.6L381.1 505.5M405.2 513L415.3 509.6M411.9 508.6L415.9 509.4L413.2 512.5M431.3 519.5L444.9 507.8M439.5 508.4L445.4 507.4L443.5 513.1M481.5 517.4L496.4 512.8M491.3 511.3L497 512.6L493.1 517M379.7 532.1L382 530.4M379.3 530.4L382.5 530.1L381.3 533M397.8 543.2L412.1 537.7M407 536.5L412.7 537.5L409.1 542M426.3 546.2L443.4 537.8M438 537L444 537.5L440.7 542.6M456 537.5L469.5 530.4M464.4 529.8L470.1 530.1L467.1 535M490.6 543.2L485.3 550.3M488.1 549.5L484.9 550.8L485.3 547.4M379.7 559.2L383.6 557.8M381 557L384.1 557.6L382.1 560.1M396.6 570.9L411.2 570.9M407.1 568L411.8 570.9L407.1 573.7M454.4 562.2L453.3 561.2M453.8 563.9L452.8 560.8L456 561.4M429.3 578.3L432.7 578.8M430.9 576.9L433.3 578.9L430.4 580.1M476.5 579.7L471.4 581.5M474 582.3L470.9 581.7L472.9 579.2M409.2 597.8L403 604M405.9 603.6L402.6 604.4L403.4 601.1M448.4 600.4L441.9 604.1M444.6 604.5L441.4 604.4L442.9 601.6M477.5 609.4L467.4 614.2M471.1 614.9L466.9 614.4L469.2 610.9M500 593.4L495.2 594.2M497.6 595.5L494.6 594.4L497 592.2M441.4 623.9L424.4 633.6M429.9 634L423.9 633.9L426.8 628.7M412.2 625.9L398.7 631.7M403.6 632.7L398.2 631.9L401.4 627.4M466.1 631.1L453.9 641.2M459.3 640.7L453.4 641.5L455.4 636M499.6 619.9L495.4 624.1M498.1 623.7L495 624.5L495.8 621.4M416.7 656.2L399.8 658.2M404.7 660.7L399.2 658.2L404 654.6M448 654.8L430.9 661.4M436.2 662.7L430.3 661.7L434 656.9M388.6 680.9L378.7 679.8M381.1 682L378.1 679.7L381.6 678.2M416.7 689.8L397.2 689M401.6 692.3L396.6 689L401.8 686.1M448 689.4L425.3 689.8M429.9 692.8L424.7 689.8L429.8 686.6M471.5 670.9L462 673.2M465 674.4L461.4 673.3L464.1 670.7M500 676.3L486.1 682.1M491.1 683.2L485.5 682.3L488.9 677.8M474.5 699L453.4 701.7M458.3 704.2L452.8 701.8L457.5 698.1M384.5 649.6L378.3 649.6M380.5 651.3L377.7 649.6L380.5 648M488.6 645.2L485.3 650.3M487.8 649.4L484.9 650.8L485 647.6M510 106.2L522.6 117.3M521.3 111.9L523.1 117.7L517.2 116.6M545.2 107.6L565.4 119.9M563.1 114.9L565.9 120.3L559.9 120.2M573.3 125.3L597.9 140M595.6 135L598.4 140.3L592.4 140.3M522.1 129.7L535.7 143.9M534.8 138.5L536.1 144.4L530.4 142.8M551.2 137.7L565.4 149.4M563.9 144.1L565.9 149.8L559.9 148.9M584.3 152.4L603 170M601.8 164.7L603.4 170.5L597.6 169.2M531.1 159L541.8 172M541.3 166.5L542.2 172.5L536.5 170.5M557.8 165.8L574.2 174.8M571.7 169.9L574.7 175.1L568.7 175.3M501 164.4L510 172.1M509 168.2L510.4 172.5L506 171.7M602.4 181.1L610.6 196M611.1 190.6L610.8 196.6L605.7 193.5M626.5 179.5L644.2 201.1M643.7 195.6L644.6 201.6L638.9 199.6M539.2 186.5L554.1 197.2M552.2 192.1L554.6 197.6L548.6 197.1M507 191.5L521.2 200.3M518.9 195.3L521.7 200.6L515.7 200.5M570.3 193.6L581.9 203.2M580.5 198.3L582.3 203.6L576.7 202.7M511 221.1L517.2 227.1M516.8 224.3L517.7 227.5L514.4 226.7M536.5 218.7L547.2 220.9M544.8 218.2L547.8 221.1L543.9 222.4M577.3 223.1L582.4 231M582.6 227.9L582.7 231.5L579.5 229.9M606.4 212L611.2 220.5M611.6 217.3L611.4 221.1L608.2 219.2M629.5 209L644.2 229.6M644.1 224.1L644.6 230.1L639.1 227.7M554.2 243.2L561.7 245.4M560.1 243.2L562.2 245.6L559.1 246.4M586.7 252.2L588.2 257.6M589.2 255.1L588.4 258.2L586.1 256M529.7 253.2L528.4 250.1M527.7 252.8L528.1 249.6L530.7 251.4M611.4 241.5L617 245.8M616.3 243.2L617.5 246.2L614.3 245.8M638.6 239.1L649.3 257.1M649.6 251.6L649.6 257.6L644.3 254.8M512 274.3L505.6 271.1M506.8 273.5L505 270.9L508.2 270.6M566.3 270.9L567 272.7M567.7 270.1L567.3 273.3L564.7 271.4M616.9 269.3L622.6 280.4M623.2 276.2L622.9 280.9L618.9 278.4M646.6 267.2L647.6 286.7M650.4 282L647.6 287.3L644.2 282.3M542.2 280.3L537.7 278M538.8 280.4L537.1 277.7L540.3 277.5M591.4 279.3L594.2 286.8M595 284.2L594.4 287.3L591.9 285.3M554.2 287.7L546.4 286.4M548.2 288.4L545.8 286.3L548.8 285.2M513.1 301L513.8 299.5M511.4 300.7L514.1 299L514.3 302.2M572.7 301.4L569.9 301.4M572 303L569.3 301.4L572 299.7M621.5 301.8L621.1 307.8M622.9 305.8L621.1 308.4L619.6 305.6M543.8 311.4L538.1 303.9M538.1 307L537.8 303.4L541.1 304.8M596 311L596 322.9M598.3 319.6L596 323.5L593.7 319.6M514.1 331.9L514.4 330.1M512.4 331.9L514.5 329.5L515.6 332.5M543.2 338.5L542.6 334.5M541.3 336.8L542.6 333.9L544.6 336.4M574.3 331.5L570.9 331.2M572.8 333L570.3 331.1L573.2 329.7M617.5 328.5L620.3 340M621.8 336.3L620.5 340.5L617.3 337.4M649.6 327.5L648.3 337.9M650.7 335.4L648.2 338.5L646.6 334.9M540.2 367.4L539.8 361.2M538.3 363.5L539.8 360.6L541.6 363.3M570.3 364L569.4 356.6M568 358.9L569.3 356L571.3 358.5M599.8 355L600 359.4M601.5 357.2L600 360L598.2 357.3M639.6 355L635.2 364.9M638.3 363.1L634.9 365.4L634.4 361.4M528.1 393.2L522.8 385.2M522.7 388.4L522.5 384.7L525.8 386.3M560.2 389.5L555.6 384.6M555.9 387.2L555.2 384.1L558.3 385M581.9 384.1L588.8 384.1M586.6 382.5L589.4 384.1L586.6 385.8M620.1 380.1L620.1 387.5M621.7 385.4L620.1 388.1L618.4 385.4M512.4 422.3L514 407.8M510.8 411.6L514.1 407.2L516.4 412.2M543.8 413.6L542.7 407.8M541.5 410.2L542.6 407.2L544.7 409.6M578.7 417.2L577.4 409.4M576.1 411.8L577.3 408.8L579.4 411.2M603.4 406.2L605.8 412.3M606.6 409.7L606 412.8L603.5 410.9M639 400.8L636.6 416.3M640.3 412.3L636.5 416.8L634.3 411.4M500 444.4L507.9 438.7M504.7 438.6L508.4 438.3L506.9 441.8M532.5 440.9L531.2 433.9M530 436.3L531.1 433.3L533.2 435.7M559.8 437.7L559.3 429.5M557.8 431.7L559.2 428.9L561.1 431.5M591.4 446.4L584.5 444.5M586.2 446.7L583.9 444.4L587 443.5M626.1 429.7L621.7 439.8M624.9 437.9L621.5 440.3L620.9 436.2M509 475.5L512.8 468M510.3 469.2L513.1 467.4L513.3 470.7M538.2 467.4L538.2 465M536.5 467.2L538.2 464.4L539.8 467.2M569.3 465.8L566.5 465.5M568.4 467.4L565.9 465.4L568.8 464.1M616.9 457.4L608.5 463.1M611.9 463.2L608 463.4L609.6 459.9M642.2 464.4L636.3 481.9M640.7 478.6L636.1 482.5L634.8 476.7M547.2 483.5L546.7 481.7M545.7 484.2L546.6 481.1L548.9 483.4M598 481.1L591.4 482.4M593.8 483.6L590.8 482.5L593.1 480.4M509 500L518.5 503.4M516.6 500.6L519.1 503.6L515.3 504.3M542.2 499.2L543.2 498.8M540.6 498L543.8 498.6L541.8 501.1M569.3 498.6L570.3 497.6M567.6 497.9L570.7 497.2L569.9 500.3M621.5 492.6L616.4 501.5M619.5 500.1L616.1 502L616 498.1M594.4 508L593.4 516.1M595.3 514.1L593.4 516.6L592.1 513.7M619.5 522.7L620.8 531.5M622.2 528.9L620.9 532.1L618.7 529.5M510.4 533.5L511.5 537M512.4 534.4L511.6 537.5L509.3 535.4M539.8 530.1L542.1 531.8M541.3 529.2L542.6 532.1L539.4 531.9M570.7 522.7L565.6 530.6M568.5 529.5L565.3 531.1L565.4 527.5M594 533.5L591.5 546.2M594.6 543.2L591.4 546.8L589.7 542.2M641.6 542.8L638.7 558.6M642.5 554.7L638.6 559.2L636.4 553.6M512.4 561.6L506.4 568.4M509.3 567.8L506 568.9L506.7 565.4M541.2 557.2L534.2 561.9M537 562.1L533.7 562.2L535.1 559.3M569.9 550.2L564.9 562.7M568.7 560.2L564.7 563.2L563.8 558.2M614.9 557.6L613.6 564.7M615.6 562.8L613.5 565.2L612.3 562.2M591.4 571.3L586.6 580.4M589.7 578.9L586.3 580.9L586.1 577M563.9 580.3L555 588.9M559.1 588.3L554.6 589.3L555.8 584.8M536.5 583.7L527.5 593.3M531.9 592.4L527.1 593.8L528.2 588.9M618.1 588.3L606.4 605.3M611.5 603.3L606 605.8L606.4 599.8M587.3 596.4L580.2 609.9M584.8 607.5L579.9 610.4L579.6 604.7M557.8 608.4L554 618.5M557 616.5L553.8 619.1L553.1 615M532.5 617.4L524.2 624.1M527.7 623.9L523.7 624.5L525.1 620.7M584.3 631.5L564.8 643.6M570.3 643.9L564.3 644L567 638.6M549.2 643.2L540.6 650.2M544.3 650L540.2 650.6L541.6 646.6M517.7 649.6L511.5 654.2M514.2 654.3L511 654.6L512.2 651.6M660.2 221.1L671.6 241M672 235.5L671.9 241.5L666.7 238.6M667.9 241.5L678.1 271.1M679.5 265.8L678.3 271.7L673.7 267.8M672.3 275.3L673.3 300.4M676.2 295.7L673.3 301L670 296M654.6 299.4L649.5 310.5M653 308.4L649.2 311L648.7 306.4M695.4 299.4L697.3 321.9M700 317.1L697.4 322.5L693.9 317.6M679.3 322.5L678 339.9M681.4 335.7L677.9 340.5L675.2 335.2M694 359L694.4 380.1M697.4 375.5L694.4 380.7L691.2 375.6M657.2 377.1L650.4 392.2M655.1 389.3L650.2 392.8L649.5 386.8M686.3 390.7L681.1 406.6M685.5 403.3L680.9 407.2L679.6 401.4M668.7 411.2L663.4 429.7M667.6 426.2L663.3 430.3L661.7 424.5M694 423.3L686.5 443.8M691 440.6L686.3 444.4L685.2 438.5M652.6 437.3L649.9 452.8M653.6 449L649.8 453.4L647.7 447.9M681.9 453.8L677.5 468.9M681.6 465.5L677.3 469.5L675.8 463.8M667.9 478.5L664 497M667.9 493.2L663.9 497.6L661.9 491.9M664.3 521.1L664.3 538.9M667.3 534.4L664.3 539.5L661.2 534.4M643.2 503L648 516.1M649.2 511.5L648.2 516.6L644.1 513.4M146.4 211L157.1 195.1M152 197.1L157.4 194.6L157.1 200.6M333.5 66.6L361.8 61.5M356.8 59.3L362.4 61.4L357.9 65.4M486.5 136.9L506.5 148.1M504 143.2L507 148.4L501 148.6M358 668.9L336.1 665.4M340.1 669.2L335.5 665.3L341.1 663.1M363.1 640.2L345.2 636.6M349 640.5L344.6 636.5L350.2 634.5M512 366L510.1 353.2M508.1 357.1L510 352.6L513.1 356.4M667.3 351.6L667.3 362.4M669.4 359.5L667.3 363L665.2 359.5"/>
</g>
</g>
<circle cx="378" cy="384.5" r="328.3" fill="none" stroke="#000" stroke-width="1.15"/>
<text class="title" x="378" y="17.8" text-anchor="middle" xml:space="preserve">03/09/2025  00 UTC  + 192 hrs</text>
<g class="lab">
<text x="378" y="48.5" text-anchor="middle">180</text>
<text x="184.3" y="94.5" text-anchor="middle">150W</text>
<text x="568.7" y="94.5" text-anchor="middle">150E</text>
<text x="59.2" y="218.8" text-anchor="middle">120W</text>
<text x="693.3" y="218.8" text-anchor="middle">120E</text>
<text x="18.5" y="391" text-anchor="middle">90W</text>
<text x="735" y="391" text-anchor="middle">90E</text>
<text x="63.5" y="562" text-anchor="middle">60W</text>
<text x="689" y="562" text-anchor="middle">60E</text>
<text x="189" y="686" text-anchor="middle">30W</text>
<text x="564" y="686" text-anchor="middle">30E</text>
<text x="378" y="731.5" text-anchor="middle">0</text>
</g>
<text class="logo" transform="translate(606 71.2) scale(0.87 1)" x="0 33.5 62.5 91 116" y="0">MODES</text>
<text class="logoc" x="727.6" y="56.4">©</text>
<text class="ref" x="656.3" y="676.8" text-anchor="middle">20</text>
<path d="M642 688.5H670M664 686L670 688.5L664 691" fill="none" stroke="#000" stroke-width="1"/>
<g id="colorbar">
<rect x="514.6" y="733.6" width="17.2" height="12.6" fill="#ffffff"/>
<rect x="531.6" y="733.6" width="17.2" height="12.6" fill="#b9e3f8"/>
<rect x="548.5" y="733.6" width="17.2" height="12.6" fill="#7fb8e3"/>
<rect x="565.5" y="733.6" width="17.2" height="12.6" fill="#4a8fc0"/>
<rect x="582.4" y="733.6" width="17.2" height="12.6" fill="#4bae62"/>
<rect x="599.4" y="733.6" width="17.2" height="12.6" fill="#a2d04d"/>
<rect x="616.3" y="733.6" width="17.2" height="12.6" fill="#fdd24e"/>
<rect x="633.2" y="733.6" width="17.2" height="12.6" fill="#f98a2c"/>
<rect x="650.2" y="733.6" width="17.2" height="12.6" fill="#e7472b"/>
<rect x="667.1" y="733.6" width="17.2" height="12.6" fill="#c1222b"/>
<rect x="684.1" y="733.6" width="17.2" height="12.6" fill="#8f1b1e"/>
<rect x="514.6" y="733.6" width="186.4" height="12.6" fill="none" stroke="#000" stroke-width="1"/>
</g>
<g class="barlab">
<text x="531.6" y="731" text-anchor="middle">2</text>
<text x="565.5" y="731" text-anchor="middle">4</text>
<text x="599.4" y="731" text-anchor="middle">6</text>
<text x="633.2" y="731" text-anchor="middle">8</text>
<text x="667.1" y="731" text-anchor="middle">10</text>
</g>
</svg>
</body>
</html>
